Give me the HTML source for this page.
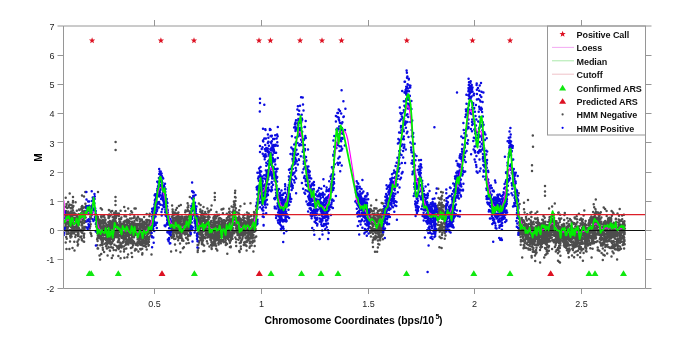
<!DOCTYPE html>
<html><head><meta charset="utf-8"><style>html,body{margin:0;padding:0;background:#fff;}svg{display:block;filter:blur(0.35px);}</style></head>
<body><svg width="685" height="345" viewBox="0 0 685 345">
<rect width="685" height="345" fill="#fff"/>
<defs><clipPath id="axclip"><rect x="63.5" y="26.0" width="582.0" height="262.0"/></clipPath></defs>
<g clip-path="url(#axclip)">
<path d="M65.2 215.7h0M65.3 223.5h0M65.3 212.3h0M65.4 226.5h0M65.4 230.2h0M65.7 197.8h0M65.7 216.5h0M65.7 225.0h0M65.7 242.5h0M65.8 206.7h0M66.0 222.9h0M66.0 226.7h0M66.0 210.9h0M66.1 214.5h0M66.1 226.7h0M66.2 214.8h0M66.2 216.1h0M66.2 236.9h0M66.4 213.7h0M66.4 214.2h0M66.5 204.1h0M66.5 212.5h0M66.5 211.5h0M66.5 249.1h0M66.6 231.6h0M66.6 204.8h0M66.7 238.8h0M66.7 227.3h0M66.7 218.7h0M66.7 234.0h0M66.8 223.6h0M66.8 214.6h0M66.8 207.8h0M66.8 213.6h0M66.8 219.9h0M66.9 214.8h0M67.0 229.4h0M67.0 212.6h0M67.0 228.6h0M67.3 216.7h0M67.3 221.1h0M67.4 212.3h0M67.4 220.0h0M67.4 214.6h0M67.5 208.0h0M67.7 219.9h0M67.9 219.4h0M67.9 227.7h0M68.0 222.3h0M68.0 212.5h0M68.1 215.1h0M68.2 202.1h0M68.2 211.5h0M68.3 231.7h0M68.4 233.8h0M68.4 226.4h0M68.5 221.9h0M68.5 224.6h0M68.6 223.6h0M68.6 206.8h0M68.7 212.8h0M68.7 230.4h0M68.7 230.4h0M68.8 221.4h0M69.0 217.0h0M69.1 216.6h0M69.1 215.5h0M69.1 212.8h0M69.1 205.8h0M69.1 220.7h0M69.2 216.2h0M69.2 217.9h0M69.4 249.1h0M69.4 225.3h0M69.4 214.7h0M69.5 204.6h0M69.7 230.2h0M69.7 222.5h0M69.7 218.6h0M69.7 225.8h0M69.7 193.4h0M69.9 217.4h0M70.0 213.9h0M70.0 241.6h0M70.1 221.3h0M70.2 235.9h0M70.2 216.6h0M70.4 225.7h0M70.4 217.6h0M70.4 233.3h0M70.5 220.3h0M70.5 217.5h0M70.5 237.5h0M70.6 225.8h0M70.6 208.3h0M70.6 220.9h0M70.6 216.1h0M70.7 213.6h0M70.8 218.1h0M70.8 218.6h0M70.8 222.2h0M70.9 216.2h0M71.1 208.2h0M71.1 217.4h0M71.1 229.7h0M71.1 211.6h0M71.1 227.1h0M71.1 225.6h0M71.1 217.9h0M71.2 223.9h0M71.2 215.6h0M71.2 218.0h0M71.3 225.2h0M71.3 234.0h0M71.4 215.6h0M71.4 231.9h0M71.5 205.0h0M71.5 213.7h0M71.5 212.8h0M71.6 236.5h0M71.6 215.6h0M71.7 227.3h0M71.7 205.4h0M71.8 220.9h0M72.0 225.3h0M72.0 219.6h0M72.0 221.6h0M72.0 227.7h0M72.0 232.7h0M72.1 208.1h0M72.3 218.5h0M72.3 228.8h0M72.3 214.2h0M72.4 225.5h0M72.4 216.7h0M72.5 220.9h0M72.5 233.3h0M72.5 215.1h0M72.5 247.9h0M72.5 221.5h0M72.6 223.5h0M72.7 215.2h0M72.8 221.3h0M72.8 210.5h0M72.9 210.2h0M72.9 207.5h0M72.9 220.3h0M72.9 202.6h0M73.1 206.4h0M73.1 219.3h0M73.1 221.0h0M73.1 227.5h0M73.1 212.9h0M73.2 227.4h0M73.2 219.5h0M73.4 206.0h0M73.4 221.3h0M73.4 232.0h0M73.5 228.1h0M73.6 231.4h0M73.6 218.0h0M73.7 214.7h0M73.7 219.0h0M73.7 220.1h0M73.8 219.6h0M73.8 229.8h0M73.9 227.0h0M73.9 230.2h0M73.9 224.1h0M73.9 233.2h0M74.0 223.9h0M74.0 232.2h0M74.1 227.7h0M74.1 230.0h0M74.1 222.4h0M74.2 214.2h0M74.3 212.8h0M74.3 241.8h0M74.4 229.6h0M74.4 227.1h0M74.4 221.7h0M74.5 219.6h0M74.5 250.6h0M74.5 215.0h0M74.6 222.4h0M74.7 222.5h0M74.7 215.0h0M74.8 214.0h0M74.9 217.9h0M74.9 220.4h0M75.1 230.7h0M75.2 214.6h0M75.2 226.7h0M75.3 237.0h0M75.3 231.4h0M75.6 214.9h0M75.6 202.3h0M75.6 230.9h0M75.7 227.5h0M75.7 218.6h0M75.7 234.9h0M75.7 219.7h0M76.1 222.9h0M76.1 214.6h0M76.3 227.1h0M76.3 218.5h0M76.6 217.5h0M76.6 231.4h0M76.7 224.9h0M76.8 210.8h0M76.8 227.9h0M76.8 229.3h0M76.8 215.5h0M76.8 218.5h0M76.9 221.9h0M77.0 219.8h0M77.1 222.8h0M77.3 228.2h0M77.3 218.5h0M77.4 242.1h0M77.4 217.1h0M77.5 218.4h0M77.6 241.4h0M77.7 245.5h0M77.8 222.9h0M77.9 221.3h0M78.0 233.8h0M78.0 224.4h0M78.0 229.8h0M78.0 236.0h0M78.1 229.4h0M78.1 244.2h0M78.1 234.1h0M78.2 227.1h0M78.2 222.6h0M78.2 228.3h0M78.3 234.8h0M78.4 231.4h0M78.4 233.3h0M78.4 225.3h0M78.5 230.6h0M78.5 235.0h0M78.6 222.1h0M78.6 214.2h0M78.7 239.5h0M78.8 227.9h0M78.9 218.8h0M78.9 224.2h0M78.9 219.9h0M79.0 209.4h0M79.1 219.7h0M79.2 210.1h0M79.5 220.8h0M79.6 217.6h0M79.6 229.4h0M79.7 217.6h0M79.7 222.1h0M79.8 216.5h0M80.0 216.4h0M80.1 209.4h0M80.3 237.0h0M80.4 221.4h0M80.4 215.7h0M80.5 222.1h0M80.6 217.2h0M80.8 214.7h0M80.8 222.1h0M80.9 231.5h0M80.9 217.6h0M81.1 209.1h0M81.1 214.8h0M81.2 236.4h0M81.3 213.1h0M81.3 230.3h0M81.3 217.0h0M81.5 225.5h0M81.6 217.4h0M81.6 207.0h0M81.6 215.2h0M81.7 238.9h0M81.8 217.4h0M81.8 223.9h0M81.9 216.2h0M81.9 217.6h0M81.9 221.7h0M81.9 223.2h0M81.9 240.3h0M82.0 218.7h0M82.0 195.5h0M82.1 214.2h0M82.1 209.7h0M82.2 207.7h0M82.2 225.5h0M82.2 206.0h0M82.3 233.1h0M82.4 227.9h0M82.5 217.5h0M82.5 211.5h0M82.7 220.0h0M82.9 219.8h0M83.0 230.4h0M83.1 214.2h0M83.1 216.7h0M83.1 219.0h0M83.3 217.3h0M83.3 214.8h0M83.3 207.2h0M83.4 207.7h0M83.4 214.4h0M83.5 217.5h0M83.6 228.7h0M83.6 241.4h0M83.8 235.7h0M83.9 223.0h0M84.0 237.5h0M84.0 218.5h0M84.1 215.6h0M84.1 241.8h0M84.2 211.9h0M84.2 216.5h0M84.2 217.6h0M84.2 233.7h0M84.2 215.3h0M84.3 227.1h0M84.4 216.7h0M84.4 210.9h0M84.4 221.9h0M84.4 221.3h0M84.5 211.4h0M84.6 213.4h0M84.6 213.9h0M84.6 229.0h0M84.9 220.8h0M85.1 222.0h0M85.2 207.2h0M85.3 192.1h0M85.3 217.3h0M85.4 226.9h0M85.4 203.7h0M85.7 217.6h0M85.9 206.2h0M89.7 212.7h0M89.7 209.3h0M89.7 228.6h0M89.8 209.6h0M90.2 213.3h0M90.2 221.5h0M90.2 217.1h0M90.2 206.6h0M90.2 226.4h0M90.5 232.8h0M90.6 218.7h0M90.7 216.3h0M90.7 218.3h0M90.7 211.4h0M90.7 224.3h0M91.1 234.1h0M91.2 211.6h0M91.2 218.2h0M91.5 235.9h0M96.3 226.4h0M96.6 227.2h0M97.0 226.6h0M97.0 216.2h0M97.1 232.9h0M97.1 239.2h0M97.2 220.3h0M97.2 222.4h0M97.2 226.9h0M97.2 227.4h0M97.2 217.7h0M97.3 245.3h0M97.4 238.9h0M97.4 225.7h0M97.4 217.8h0M97.5 233.4h0M97.6 248.4h0M97.6 238.0h0M97.6 241.1h0M97.6 224.5h0M97.6 232.8h0M97.7 220.8h0M97.8 248.5h0M97.8 235.8h0M97.9 216.7h0M97.9 218.4h0M98.0 234.9h0M98.1 231.8h0M98.1 228.5h0M98.1 236.1h0M98.1 248.6h0M98.2 233.8h0M98.2 218.6h0M98.5 229.4h0M98.6 221.8h0M98.7 225.2h0M98.7 233.4h0M98.8 229.5h0M98.8 223.6h0M98.8 230.6h0M98.9 225.4h0M99.0 235.7h0M99.0 229.3h0M99.0 234.5h0M99.1 229.3h0M99.1 237.8h0M99.2 230.3h0M99.2 231.2h0M99.3 227.7h0M99.4 232.8h0M99.5 219.9h0M99.5 255.6h0M99.5 227.2h0M99.6 232.7h0M99.7 228.7h0M99.7 228.7h0M99.8 235.6h0M100.0 228.8h0M100.0 229.3h0M100.0 223.1h0M100.0 226.1h0M100.1 224.6h0M100.1 259.4h0M100.1 223.5h0M100.2 225.2h0M100.3 234.1h0M100.3 245.3h0M100.4 221.4h0M100.5 222.4h0M100.5 233.8h0M100.6 235.7h0M100.6 223.4h0M100.6 220.8h0M100.6 226.3h0M100.7 239.3h0M100.7 208.3h0M100.7 239.2h0M100.7 231.8h0M100.7 232.3h0M100.7 238.0h0M100.7 231.7h0M100.7 234.5h0M100.8 226.3h0M100.8 228.4h0M100.8 236.5h0M100.8 230.7h0M100.9 227.3h0M101.0 237.9h0M101.0 236.8h0M101.1 231.9h0M101.1 226.8h0M101.1 216.3h0M101.2 254.1h0M101.2 226.2h0M101.2 221.4h0M101.2 226.5h0M101.3 217.5h0M101.3 223.1h0M101.5 223.4h0M101.5 238.8h0M101.6 238.7h0M101.7 244.3h0M101.7 237.7h0M101.7 227.9h0M101.8 240.8h0M101.8 227.1h0M101.9 228.9h0M101.9 223.5h0M101.9 242.2h0M102.0 209.6h0M102.0 228.2h0M102.1 229.3h0M102.1 231.6h0M102.1 234.4h0M102.3 245.0h0M102.4 232.1h0M102.5 235.2h0M102.6 221.8h0M102.6 229.7h0M102.6 219.9h0M102.7 247.7h0M102.7 244.3h0M102.8 238.2h0M102.8 241.7h0M102.9 249.8h0M102.9 240.2h0M102.9 221.3h0M102.9 230.5h0M103.0 216.3h0M103.1 226.5h0M103.2 223.7h0M103.3 231.9h0M103.3 235.4h0M103.4 225.8h0M103.4 230.1h0M103.4 234.4h0M103.4 230.9h0M103.4 230.8h0M103.5 216.1h0M103.5 229.1h0M103.6 239.1h0M103.6 234.3h0M103.7 222.2h0M103.7 230.2h0M103.8 234.4h0M103.8 225.6h0M103.8 238.0h0M103.9 226.8h0M103.9 220.4h0M104.0 215.2h0M104.1 252.1h0M104.1 230.0h0M104.1 228.4h0M104.1 238.5h0M104.4 229.1h0M104.5 233.9h0M104.5 217.4h0M104.6 234.8h0M104.7 231.8h0M104.9 223.1h0M104.9 243.7h0M105.0 229.9h0M105.0 230.2h0M105.0 222.7h0M105.0 220.6h0M105.1 227.5h0M105.3 220.7h0M105.3 235.1h0M105.5 238.2h0M105.5 226.2h0M105.5 219.7h0M105.7 227.7h0M105.7 223.3h0M105.7 231.7h0M105.7 231.9h0M105.8 227.8h0M105.8 231.2h0M105.9 240.0h0M106.0 246.2h0M106.0 227.5h0M106.1 237.4h0M106.1 229.5h0M106.3 224.4h0M106.3 242.8h0M106.5 235.1h0M106.5 232.8h0M106.6 234.9h0M106.7 230.9h0M106.7 225.1h0M106.9 248.4h0M107.1 240.8h0M107.1 235.2h0M107.1 241.5h0M107.2 244.4h0M107.2 231.8h0M107.2 238.3h0M107.3 231.1h0M107.3 239.0h0M107.4 231.8h0M107.6 255.6h0M107.7 231.0h0M107.8 237.7h0M107.8 237.1h0M107.8 230.8h0M108.0 240.8h0M108.0 232.0h0M108.0 229.7h0M108.1 232.1h0M108.1 227.1h0M108.1 242.6h0M108.2 237.1h0M108.3 240.0h0M108.3 222.3h0M108.3 235.2h0M108.3 226.1h0M108.3 231.7h0M108.4 242.4h0M108.4 234.7h0M108.4 229.8h0M108.4 215.8h0M108.5 239.5h0M108.5 247.0h0M108.5 218.1h0M108.5 233.3h0M108.5 227.6h0M108.6 224.5h0M108.6 231.1h0M108.6 222.5h0M108.7 215.7h0M108.7 224.5h0M108.7 228.9h0M108.8 247.4h0M108.8 225.9h0M108.8 223.0h0M108.8 217.9h0M108.9 210.0h0M109.0 229.9h0M109.1 233.1h0M109.2 222.6h0M109.2 227.1h0M109.2 217.3h0M109.3 210.3h0M109.3 222.2h0M109.3 214.5h0M109.3 243.1h0M109.4 237.3h0M109.6 236.7h0M109.6 236.6h0M109.7 226.7h0M109.8 242.9h0M109.8 226.4h0M109.8 250.4h0M109.9 235.2h0M109.9 221.0h0M109.9 240.8h0M110.0 250.8h0M110.1 231.2h0M110.1 242.4h0M110.1 231.5h0M110.1 228.7h0M110.2 215.7h0M110.2 243.8h0M110.2 229.8h0M110.4 235.8h0M110.4 225.0h0M110.5 226.4h0M110.5 242.3h0M110.5 229.7h0M110.6 229.6h0M110.6 223.8h0M110.7 235.0h0M110.7 238.9h0M110.7 229.0h0M110.7 230.7h0M110.8 223.8h0M110.8 244.4h0M110.8 227.7h0M110.9 230.7h0M110.9 211.8h0M110.9 230.2h0M110.9 221.4h0M111.0 225.4h0M111.0 229.1h0M111.1 247.2h0M111.1 233.1h0M111.1 229.6h0M111.2 238.4h0M111.2 242.7h0M111.4 225.6h0M111.5 243.3h0M111.5 238.0h0M111.5 234.3h0M111.6 214.6h0M111.7 232.2h0M111.7 243.1h0M111.7 228.8h0M111.8 258.0h0M111.8 231.5h0M111.9 224.2h0M111.9 236.4h0M112.0 234.0h0M112.0 238.9h0M112.0 230.0h0M112.1 243.2h0M112.1 228.0h0M112.1 232.9h0M112.2 223.5h0M112.2 211.0h0M112.2 233.8h0M112.3 227.8h0M112.3 229.2h0M112.3 230.9h0M112.3 234.5h0M112.4 239.3h0M112.4 239.3h0M112.4 241.7h0M112.5 234.4h0M112.5 229.0h0M112.5 222.2h0M112.5 230.5h0M112.6 227.6h0M112.7 217.2h0M112.7 247.8h0M112.8 220.2h0M112.9 235.4h0M112.9 241.1h0M112.9 230.6h0M112.9 255.6h0M112.9 232.2h0M112.9 227.0h0M113.0 247.8h0M113.1 226.4h0M113.1 222.1h0M113.2 224.7h0M113.3 226.7h0M113.4 231.3h0M113.5 233.5h0M113.6 220.1h0M113.7 233.0h0M113.7 250.1h0M113.7 225.0h0M113.9 228.2h0M113.9 235.2h0M113.9 239.8h0M114.0 223.8h0M114.0 221.8h0M114.1 221.2h0M114.1 237.9h0M114.1 236.0h0M114.2 213.1h0M114.2 213.2h0M114.3 218.9h0M114.3 217.0h0M114.3 230.8h0M114.4 228.8h0M114.4 244.7h0M114.5 233.4h0M114.6 227.0h0M114.6 236.7h0M114.6 219.8h0M114.7 216.4h0M114.7 226.1h0M114.7 234.5h0M114.7 214.9h0M114.7 234.1h0M114.8 233.8h0M115.0 222.6h0M115.1 227.6h0M115.2 224.2h0M115.2 226.8h0M115.2 233.6h0M115.2 220.7h0M115.3 235.8h0M115.3 234.2h0M115.3 234.6h0M115.3 212.8h0M115.4 213.5h0M115.4 232.6h0M115.5 222.2h0M115.5 221.6h0M115.5 221.1h0M115.6 217.1h0M115.7 224.4h0M115.7 221.4h0M115.7 221.9h0M115.8 230.9h0M115.8 218.3h0M115.8 237.0h0M115.9 211.3h0M116.0 250.2h0M116.1 217.3h0M116.1 236.4h0M116.2 235.3h0M116.3 226.7h0M116.4 233.8h0M116.5 226.2h0M116.5 214.8h0M116.5 232.6h0M116.5 246.1h0M116.7 223.2h0M116.7 215.4h0M116.8 222.9h0M116.9 230.0h0M116.9 229.8h0M117.0 237.3h0M117.0 232.2h0M117.0 231.7h0M117.2 213.4h0M117.3 247.8h0M117.4 227.5h0M117.4 235.1h0M117.6 224.8h0M117.7 226.2h0M117.7 227.9h0M117.8 242.0h0M118.0 241.9h0M118.1 233.6h0M118.1 246.4h0M118.2 225.5h0M118.2 233.0h0M118.3 225.3h0M118.4 240.4h0M118.4 228.8h0M118.4 237.5h0M118.4 255.9h0M118.6 214.9h0M118.7 248.9h0M118.8 231.9h0M118.8 226.9h0M118.8 216.1h0M118.9 227.0h0M118.9 213.5h0M118.9 229.8h0M119.0 227.9h0M119.0 245.8h0M119.0 226.9h0M119.1 238.9h0M119.1 239.8h0M119.1 248.1h0M119.1 227.5h0M119.2 236.1h0M119.2 218.9h0M119.3 221.7h0M119.3 227.3h0M119.3 229.0h0M119.5 221.1h0M119.6 226.5h0M119.6 235.8h0M119.7 226.4h0M119.7 228.4h0M119.7 223.5h0M119.9 242.6h0M119.9 246.4h0M120.0 232.0h0M120.0 229.5h0M120.0 245.6h0M120.1 234.9h0M120.2 226.2h0M120.3 221.8h0M120.4 227.1h0M120.5 251.6h0M120.6 227.5h0M120.6 258.2h0M120.6 210.8h0M120.7 230.3h0M120.8 244.0h0M120.9 230.3h0M120.9 235.5h0M120.9 225.0h0M120.9 223.6h0M120.9 227.0h0M121.1 234.3h0M121.1 227.7h0M121.1 219.0h0M121.2 236.8h0M121.2 231.3h0M121.3 230.6h0M121.3 228.4h0M121.4 217.5h0M121.5 247.5h0M121.5 229.6h0M121.5 237.7h0M121.6 245.7h0M121.7 243.2h0M121.7 236.0h0M121.8 232.3h0M121.9 234.9h0M122.0 246.7h0M122.0 237.0h0M122.1 228.2h0M122.4 234.4h0M122.5 233.4h0M122.6 236.1h0M122.6 231.5h0M122.7 242.3h0M122.8 231.6h0M122.8 238.0h0M122.8 230.3h0M122.9 226.0h0M123.0 223.7h0M123.1 229.1h0M123.1 235.2h0M123.1 241.9h0M123.2 229.8h0M123.2 226.9h0M123.2 227.0h0M123.3 242.4h0M123.5 231.7h0M123.5 227.4h0M123.5 237.6h0M123.6 221.9h0M123.7 232.0h0M123.7 230.6h0M123.7 230.0h0M123.7 223.1h0M123.7 239.9h0M123.8 246.4h0M123.9 221.9h0M123.9 231.9h0M123.9 236.8h0M124.0 251.6h0M124.1 228.0h0M124.1 224.3h0M124.2 230.7h0M124.2 249.3h0M124.2 207.1h0M124.3 233.1h0M124.4 257.7h0M124.5 216.2h0M124.5 216.0h0M124.7 239.1h0M124.7 237.9h0M124.7 221.3h0M124.7 235.6h0M124.8 231.2h0M124.8 232.9h0M124.9 225.5h0M124.9 227.9h0M125.1 225.3h0M125.2 231.8h0M125.3 229.8h0M125.3 210.9h0M125.4 237.3h0M125.4 220.8h0M125.5 238.5h0M125.5 244.9h0M125.6 234.3h0M125.6 241.7h0M125.8 231.2h0M125.8 237.8h0M125.8 224.9h0M125.9 238.3h0M126.0 221.7h0M126.0 242.9h0M126.0 220.7h0M126.1 216.5h0M126.1 235.7h0M126.1 229.6h0M126.1 231.8h0M126.2 234.6h0M126.2 230.4h0M126.2 224.5h0M126.3 232.4h0M126.3 233.7h0M126.3 234.9h0M126.3 248.6h0M126.4 225.3h0M126.4 230.7h0M126.5 235.2h0M126.5 227.0h0M126.5 221.8h0M126.7 226.1h0M126.7 239.8h0M126.7 228.1h0M126.8 235.7h0M126.8 225.1h0M126.9 234.2h0M126.9 225.5h0M126.9 224.4h0M127.0 231.2h0M127.0 230.7h0M127.2 244.0h0M127.2 219.4h0M127.3 235.1h0M127.3 257.2h0M127.3 243.1h0M127.4 227.9h0M127.4 226.0h0M127.4 227.3h0M127.6 235.7h0M127.6 232.5h0M127.6 234.0h0M127.6 240.7h0M127.7 219.7h0M127.7 223.2h0M127.8 222.7h0M127.9 222.0h0M128.0 230.4h0M128.1 234.0h0M128.1 254.6h0M128.2 236.2h0M128.2 208.5h0M128.3 244.5h0M128.4 226.5h0M128.5 234.7h0M128.6 240.6h0M128.6 238.9h0M128.6 235.4h0M128.7 229.3h0M128.7 223.3h0M128.7 230.6h0M128.7 227.7h0M128.9 238.1h0M128.9 230.8h0M128.9 237.0h0M129.0 220.9h0M129.1 240.8h0M129.1 226.1h0M129.2 221.3h0M129.2 222.6h0M129.3 227.7h0M129.3 242.3h0M129.3 238.5h0M129.8 224.2h0M129.8 233.0h0M129.8 231.5h0M129.8 221.6h0M129.9 225.5h0M130.0 218.5h0M130.1 226.4h0M130.1 214.4h0M130.2 227.0h0M130.2 226.0h0M130.4 227.1h0M130.4 226.9h0M130.5 243.1h0M130.5 230.1h0M130.6 234.7h0M130.7 239.3h0M130.7 240.6h0M130.7 238.5h0M130.7 228.5h0M130.8 224.5h0M130.8 226.7h0M130.8 228.7h0M130.9 231.8h0M130.9 231.2h0M130.9 241.7h0M130.9 230.9h0M130.9 248.0h0M131.0 240.7h0M131.1 227.8h0M131.1 238.9h0M131.2 211.2h0M131.3 243.2h0M131.4 233.9h0M131.5 233.6h0M131.5 218.4h0M131.6 252.9h0M131.6 227.9h0M131.7 228.7h0M131.8 240.1h0M131.8 228.4h0M131.9 224.0h0M131.9 235.9h0M132.0 223.1h0M132.0 236.8h0M132.0 231.2h0M132.0 240.3h0M132.1 221.8h0M132.1 241.5h0M132.1 232.7h0M132.1 257.1h0M132.1 212.5h0M132.3 247.3h0M132.3 236.7h0M132.4 237.5h0M132.4 225.5h0M132.5 235.5h0M132.6 236.7h0M132.7 225.2h0M132.8 223.1h0M133.1 226.4h0M133.1 245.2h0M133.1 233.3h0M133.2 240.7h0M133.3 235.0h0M133.4 233.4h0M133.4 234.5h0M133.4 229.7h0M133.4 243.8h0M133.5 234.4h0M133.6 234.9h0M133.6 223.5h0M133.6 235.7h0M133.7 228.1h0M133.7 229.2h0M133.7 217.9h0M133.9 224.5h0M134.0 230.3h0M134.0 237.3h0M134.1 241.9h0M134.1 227.8h0M134.1 234.1h0M134.2 233.8h0M134.2 223.5h0M134.3 216.3h0M134.5 217.1h0M134.5 235.6h0M134.5 208.5h0M134.5 220.9h0M134.6 225.5h0M134.7 227.1h0M134.7 227.5h0M134.8 229.8h0M134.9 250.6h0M135.0 225.2h0M135.1 231.9h0M135.1 225.5h0M135.1 226.5h0M135.2 225.0h0M135.2 229.4h0M135.3 227.2h0M135.3 234.2h0M135.3 233.0h0M135.4 225.1h0M135.5 249.0h0M135.6 223.7h0M135.6 234.8h0M135.7 208.5h0M135.7 226.8h0M135.8 243.8h0M135.9 244.7h0M136.0 234.8h0M136.1 219.3h0M136.2 244.8h0M136.3 232.6h0M136.3 228.1h0M136.3 243.5h0M136.5 227.0h0M136.5 249.5h0M136.6 228.2h0M136.7 218.4h0M136.8 225.0h0M136.8 229.6h0M136.9 226.3h0M136.9 227.6h0M136.9 234.2h0M137.0 231.5h0M137.0 234.4h0M137.1 244.6h0M137.1 232.1h0M137.2 220.5h0M137.2 231.1h0M137.4 234.1h0M137.5 242.9h0M137.5 243.1h0M137.5 242.3h0M137.6 232.2h0M137.6 239.6h0M137.6 224.0h0M137.7 245.5h0M137.7 237.7h0M137.7 238.3h0M137.7 231.1h0M137.7 234.1h0M137.8 229.0h0M137.9 216.7h0M137.9 224.4h0M138.0 242.2h0M138.0 238.3h0M138.4 251.4h0M138.4 232.5h0M138.5 232.1h0M138.5 234.4h0M138.5 233.0h0M138.6 231.8h0M138.6 225.1h0M138.6 225.0h0M138.7 228.6h0M138.7 230.4h0M138.8 224.2h0M138.8 224.4h0M138.9 230.2h0M139.1 238.6h0M139.1 230.4h0M139.2 237.8h0M139.2 240.5h0M139.2 238.6h0M139.3 228.7h0M139.3 228.7h0M139.4 218.7h0M139.5 226.6h0M139.5 235.5h0M139.5 223.8h0M139.7 243.4h0M139.7 244.2h0M139.8 228.5h0M139.8 239.5h0M139.9 221.5h0M140.0 223.9h0M140.1 228.5h0M140.1 231.1h0M140.1 229.8h0M140.2 225.2h0M140.2 249.1h0M140.2 233.7h0M140.4 233.7h0M140.4 242.3h0M140.4 232.7h0M140.5 229.5h0M140.6 227.3h0M140.6 220.0h0M140.6 244.8h0M140.7 224.9h0M140.7 219.9h0M140.8 225.7h0M140.9 220.4h0M140.9 249.6h0M140.9 234.6h0M140.9 244.2h0M140.9 244.6h0M140.9 236.5h0M141.1 236.6h0M141.1 226.5h0M141.2 230.9h0M141.2 227.4h0M141.3 231.9h0M141.4 226.8h0M141.4 243.2h0M141.4 238.6h0M141.4 230.9h0M141.6 220.4h0M141.6 238.0h0M141.6 239.8h0M141.7 231.4h0M141.8 223.5h0M141.8 236.0h0M141.9 241.9h0M141.9 219.4h0M141.9 237.5h0M141.9 220.1h0M142.0 233.1h0M142.2 248.8h0M142.2 233.7h0M142.2 237.3h0M142.2 230.7h0M142.2 232.9h0M142.2 254.5h0M142.3 245.2h0M142.3 230.8h0M142.3 230.5h0M142.3 233.3h0M142.4 253.3h0M142.4 235.2h0M142.4 243.5h0M142.5 230.9h0M142.5 224.9h0M142.7 245.4h0M142.8 232.4h0M142.9 227.6h0M142.9 228.1h0M142.9 228.1h0M143.0 228.3h0M143.0 222.0h0M143.1 243.1h0M143.1 235.5h0M143.2 240.8h0M143.2 229.4h0M143.3 234.9h0M143.3 233.2h0M143.3 242.4h0M143.4 238.8h0M143.6 234.1h0M143.6 226.4h0M143.9 222.6h0M143.9 225.3h0M143.9 226.4h0M144.0 227.1h0M144.0 222.4h0M144.0 245.9h0M144.1 233.2h0M144.1 217.1h0M144.2 223.3h0M144.2 221.7h0M144.2 234.6h0M144.2 240.4h0M144.4 224.1h0M144.5 236.3h0M144.5 228.8h0M144.6 241.2h0M144.6 243.2h0M144.7 233.6h0M144.7 237.3h0M144.7 230.8h0M144.7 228.3h0M144.7 223.0h0M144.8 233.9h0M144.9 230.5h0M144.9 228.4h0M144.9 230.5h0M145.1 230.0h0M145.2 224.3h0M145.4 228.0h0M145.4 242.0h0M145.5 230.1h0M145.6 244.5h0M145.7 224.0h0M145.7 222.6h0M145.7 232.8h0M145.8 238.7h0M145.9 227.1h0M145.9 237.1h0M146.0 246.7h0M146.0 241.1h0M146.2 230.4h0M146.2 230.8h0M146.3 220.1h0M146.3 231.3h0M146.4 233.5h0M146.5 243.8h0M146.6 222.3h0M146.6 225.2h0M146.7 224.1h0M146.7 239.0h0M146.7 213.9h0M146.7 223.6h0M146.7 249.6h0M146.8 241.6h0M146.9 222.0h0M147.0 230.5h0M147.1 220.1h0M147.1 235.9h0M147.1 229.4h0M147.2 225.6h0M147.2 238.5h0M147.3 230.9h0M147.5 238.3h0M147.8 234.2h0M147.8 227.4h0M147.9 243.4h0M148.0 226.7h0M148.1 233.7h0M148.1 225.5h0M148.1 228.1h0M148.2 227.9h0M148.4 224.6h0M148.4 231.1h0M148.5 240.8h0M148.5 245.8h0M148.5 241.8h0M148.6 227.4h0M148.6 241.8h0M148.7 232.4h0M148.8 244.9h0M148.9 220.2h0M148.9 242.1h0M149.0 224.6h0M149.1 239.2h0M149.2 225.6h0M149.2 237.0h0M149.2 226.8h0M149.4 216.2h0M149.4 222.3h0M149.5 227.1h0M149.7 228.9h0M149.7 213.7h0M149.7 214.3h0M149.8 223.6h0M150.2 227.0h0M150.2 229.8h0M150.3 224.2h0M150.5 221.1h0M150.5 230.0h0M150.6 225.7h0M150.6 235.3h0M150.6 224.9h0M150.6 233.0h0M150.8 223.3h0M150.8 229.4h0M150.9 227.7h0M150.9 231.0h0M151.2 222.8h0M151.2 226.1h0M151.3 223.1h0M151.3 225.9h0M151.3 232.4h0M151.5 254.6h0M171.0 236.1h0M171.0 235.8h0M171.1 251.5h0M171.2 224.2h0M171.2 226.5h0M171.3 231.3h0M171.4 222.7h0M171.4 224.9h0M171.4 230.3h0M171.5 222.4h0M171.7 230.7h0M171.7 237.7h0M171.7 221.4h0M171.8 216.7h0M172.1 227.2h0M172.1 205.6h0M172.2 228.0h0M172.2 223.1h0M172.2 229.2h0M172.4 236.8h0M172.5 233.9h0M172.6 223.7h0M172.6 218.3h0M172.6 209.5h0M172.7 211.6h0M172.7 220.9h0M172.8 212.6h0M172.8 221.8h0M172.8 222.3h0M172.8 215.6h0M172.9 215.2h0M172.9 214.7h0M172.9 232.3h0M172.9 213.0h0M173.0 232.9h0M173.1 220.4h0M173.1 231.5h0M173.1 228.8h0M173.1 233.6h0M173.2 237.6h0M173.2 221.3h0M173.3 220.0h0M173.3 223.6h0M173.3 221.4h0M173.4 232.8h0M173.4 225.9h0M173.4 226.7h0M173.4 223.4h0M173.5 236.8h0M173.6 214.3h0M173.6 228.9h0M173.6 231.4h0M173.6 221.6h0M173.8 222.1h0M173.8 235.1h0M173.9 224.6h0M173.9 213.8h0M174.0 217.7h0M174.1 236.1h0M174.1 220.8h0M174.2 238.9h0M174.2 225.4h0M174.2 231.8h0M174.3 221.2h0M174.3 224.0h0M174.3 222.0h0M174.3 232.2h0M174.4 218.1h0M174.5 225.9h0M174.6 227.2h0M174.6 231.5h0M174.7 212.4h0M174.7 214.6h0M174.7 220.6h0M174.8 224.8h0M174.9 228.4h0M175.0 227.6h0M175.0 244.5h0M175.0 231.8h0M175.0 231.2h0M175.2 222.0h0M175.2 232.5h0M175.3 231.6h0M175.3 231.3h0M175.3 224.3h0M175.4 230.7h0M175.5 238.7h0M175.8 219.3h0M175.8 210.1h0M175.8 232.3h0M175.9 231.5h0M176.0 223.3h0M176.0 221.9h0M176.1 250.4h0M176.3 222.1h0M176.3 217.0h0M176.3 222.0h0M176.4 229.9h0M176.4 221.2h0M176.4 222.7h0M176.4 228.1h0M176.4 222.4h0M176.4 226.4h0M176.5 225.1h0M176.5 218.3h0M176.5 226.0h0M176.6 217.7h0M176.6 234.1h0M176.6 219.3h0M176.7 224.0h0M176.7 213.4h0M176.7 222.6h0M176.7 217.2h0M176.8 214.0h0M176.8 224.8h0M176.8 230.4h0M176.9 213.9h0M176.9 217.4h0M176.9 208.1h0M176.9 216.6h0M177.0 236.2h0M177.1 223.1h0M177.1 227.2h0M177.2 228.6h0M177.3 224.9h0M177.3 233.0h0M177.3 221.4h0M177.4 229.3h0M177.5 237.0h0M177.6 228.0h0M177.6 227.2h0M177.7 223.8h0M177.7 226.5h0M177.8 232.1h0M177.9 224.2h0M177.9 214.6h0M178.0 227.3h0M178.0 224.8h0M178.0 230.1h0M178.1 226.1h0M178.1 240.2h0M178.2 217.7h0M178.2 219.2h0M178.2 231.6h0M178.2 218.8h0M178.3 228.6h0M178.3 225.5h0M178.4 212.5h0M178.5 231.5h0M178.6 237.9h0M178.6 227.2h0M178.7 216.2h0M178.7 232.7h0M178.8 218.9h0M178.8 225.1h0M178.9 220.8h0M178.9 205.9h0M179.0 225.3h0M179.1 226.1h0M179.2 221.0h0M179.2 221.6h0M179.3 233.6h0M179.3 226.3h0M179.3 223.8h0M179.3 223.1h0M179.3 228.5h0M179.4 227.8h0M179.4 225.9h0M179.4 217.9h0M179.4 224.7h0M179.5 223.2h0M179.5 227.9h0M179.5 237.9h0M179.6 236.1h0M179.6 233.4h0M179.6 229.1h0M179.6 225.4h0M179.8 230.3h0M179.9 224.0h0M180.0 224.7h0M180.0 221.4h0M180.0 226.6h0M180.0 226.4h0M180.0 243.5h0M180.1 231.6h0M180.2 224.1h0M180.2 233.5h0M180.2 223.4h0M180.3 235.5h0M180.3 233.3h0M180.4 252.3h0M180.4 219.1h0M180.5 225.7h0M180.6 225.2h0M180.6 228.5h0M180.6 232.3h0M180.7 219.7h0M180.7 221.5h0M180.8 205.0h0M180.8 235.1h0M180.8 219.1h0M181.0 216.7h0M181.4 237.9h0M181.4 235.2h0M181.4 237.6h0M181.5 221.6h0M181.5 226.7h0M181.5 230.0h0M181.5 231.9h0M181.5 227.3h0M181.5 227.8h0M181.6 237.2h0M181.6 225.4h0M181.7 224.6h0M181.8 225.4h0M181.8 224.8h0M181.8 229.2h0M182.0 226.7h0M182.0 216.4h0M182.1 240.6h0M182.1 232.5h0M182.3 225.7h0M182.3 239.1h0M182.4 224.2h0M182.5 227.8h0M182.5 227.2h0M182.5 224.0h0M182.5 225.3h0M182.5 228.4h0M182.6 218.4h0M182.7 225.1h0M182.7 229.8h0M182.8 230.0h0M182.8 230.2h0M182.9 248.3h0M183.2 233.3h0M183.2 226.6h0M183.2 226.7h0M183.3 227.4h0M183.3 231.2h0M183.3 225.5h0M183.4 240.7h0M183.5 220.3h0M183.5 232.9h0M183.6 231.7h0M183.7 219.9h0M183.7 232.7h0M183.8 222.9h0M183.9 247.3h0M184.0 233.0h0M184.0 224.6h0M184.1 223.6h0M184.2 221.8h0M184.3 228.6h0M184.4 226.7h0M184.5 217.1h0M184.6 219.4h0M184.7 221.5h0M184.8 223.5h0M184.8 223.8h0M184.9 221.9h0M184.9 231.7h0M185.0 234.5h0M185.1 226.9h0M185.2 212.3h0M185.2 225.4h0M185.3 231.3h0M185.4 226.0h0M185.4 228.8h0M185.4 227.3h0M185.5 217.0h0M185.5 210.4h0M185.6 232.0h0M185.7 223.0h0M185.7 229.9h0M185.9 224.1h0M185.9 224.8h0M186.0 237.8h0M186.0 218.1h0M186.0 225.6h0M186.1 218.6h0M186.1 226.1h0M186.1 229.6h0M186.2 231.0h0M186.2 226.6h0M186.2 216.5h0M186.2 227.3h0M186.3 232.9h0M186.3 233.7h0M186.4 243.6h0M186.4 229.7h0M186.4 218.4h0M186.5 221.2h0M186.6 225.1h0M186.6 233.5h0M186.7 217.2h0M186.7 232.4h0M186.7 230.1h0M186.8 219.0h0M186.8 229.8h0M186.8 219.7h0M186.9 224.6h0M186.9 222.7h0M187.1 226.8h0M187.2 217.3h0M187.2 229.4h0M187.3 211.1h0M187.3 222.4h0M187.3 221.4h0M187.4 238.7h0M187.4 229.7h0M187.4 222.0h0M187.5 219.5h0M187.6 225.4h0M187.6 221.2h0M187.6 203.3h0M187.6 207.6h0M187.7 225.8h0M187.8 209.9h0M187.8 234.5h0M187.8 220.4h0M188.0 239.7h0M188.0 222.4h0M188.0 235.2h0M188.1 227.6h0M188.1 236.2h0M188.2 226.3h0M188.3 207.3h0M188.4 205.6h0M188.4 216.5h0M188.5 234.7h0M188.5 231.1h0M188.5 226.6h0M188.6 230.5h0M188.6 228.3h0M188.6 223.0h0M188.7 243.1h0M188.8 227.3h0M189.0 223.4h0M189.0 215.0h0M189.1 219.9h0M189.1 223.7h0M189.1 222.4h0M189.2 220.4h0M189.3 222.2h0M189.5 214.6h0M189.5 221.7h0M189.5 211.4h0M189.5 215.7h0M189.7 216.2h0M189.7 228.7h0M189.7 225.4h0M189.8 197.1h0M189.9 213.7h0M189.9 218.6h0M189.9 228.4h0M190.0 232.5h0M190.0 211.6h0M190.0 218.5h0M190.1 222.2h0M190.1 224.4h0M190.1 221.4h0M190.1 227.4h0M190.1 211.9h0M190.2 235.5h0M190.2 213.9h0M190.2 221.9h0M190.3 226.2h0M190.3 232.1h0M190.4 229.9h0M197.6 244.9h0M197.7 220.2h0M197.7 224.4h0M197.7 252.0h0M197.7 236.8h0M197.8 233.1h0M197.8 228.2h0M197.8 233.8h0M197.8 250.3h0M197.8 220.9h0M197.9 216.7h0M197.9 229.6h0M197.9 241.0h0M197.9 225.1h0M198.0 228.0h0M198.1 221.8h0M198.1 227.9h0M198.2 221.8h0M198.2 221.9h0M198.2 218.9h0M198.2 224.9h0M198.3 244.8h0M198.4 228.0h0M198.4 230.1h0M198.4 248.1h0M198.5 224.4h0M198.5 222.0h0M198.8 232.7h0M198.8 220.1h0M198.9 230.8h0M198.9 203.6h0M199.0 220.7h0M199.0 224.3h0M199.1 242.4h0M199.1 223.0h0M199.2 229.3h0M199.2 225.1h0M199.3 221.4h0M199.5 240.7h0M199.5 222.8h0M199.5 229.4h0M199.6 223.7h0M199.6 224.8h0M199.7 217.5h0M199.7 234.5h0M199.8 223.6h0M199.9 237.6h0M200.0 218.9h0M200.0 223.3h0M200.0 230.6h0M200.1 227.4h0M200.2 222.3h0M200.2 225.6h0M200.2 211.8h0M200.3 227.0h0M200.3 209.5h0M200.3 228.0h0M200.4 238.5h0M200.4 234.4h0M200.4 234.0h0M200.5 223.9h0M200.5 230.9h0M200.6 224.0h0M200.6 226.1h0M200.6 226.0h0M200.6 204.9h0M200.7 234.8h0M200.9 230.7h0M200.9 234.1h0M200.9 220.6h0M201.0 232.8h0M201.0 230.9h0M201.0 212.3h0M201.2 215.4h0M201.2 227.2h0M201.3 222.5h0M201.3 226.7h0M201.4 222.7h0M201.5 240.0h0M201.6 214.6h0M201.7 218.0h0M201.7 220.5h0M201.7 217.9h0M201.7 223.0h0M201.9 226.4h0M201.9 217.9h0M201.9 232.1h0M201.9 238.1h0M201.9 236.1h0M201.9 244.1h0M202.0 244.2h0M202.1 226.1h0M202.2 241.9h0M202.2 232.3h0M202.2 242.6h0M202.3 224.8h0M202.3 212.5h0M202.4 211.1h0M202.4 227.5h0M202.4 230.7h0M202.4 224.6h0M202.5 234.7h0M202.5 218.4h0M202.6 221.2h0M202.7 234.7h0M202.7 226.5h0M202.8 226.9h0M202.8 238.6h0M202.8 235.9h0M202.9 221.3h0M202.9 228.2h0M202.9 215.6h0M202.9 226.5h0M202.9 230.0h0M202.9 215.5h0M203.0 240.5h0M203.0 244.4h0M203.0 231.2h0M203.1 235.2h0M203.3 251.3h0M203.3 226.6h0M203.4 237.1h0M203.4 231.3h0M203.4 214.0h0M203.5 206.9h0M203.5 224.6h0M203.7 237.8h0M203.8 229.1h0M203.8 236.8h0M204.0 216.6h0M204.1 219.2h0M204.1 245.6h0M204.4 251.0h0M204.4 230.2h0M204.5 225.4h0M204.5 237.0h0M204.6 219.4h0M204.6 225.1h0M204.7 217.4h0M204.8 230.9h0M205.0 229.1h0M205.1 224.4h0M205.1 222.8h0M205.1 217.2h0M205.1 221.7h0M205.2 237.9h0M205.2 212.0h0M205.2 238.2h0M205.3 221.6h0M205.3 226.7h0M205.4 224.3h0M205.4 225.7h0M205.5 234.1h0M205.5 214.2h0M205.7 233.9h0M205.7 233.5h0M205.7 227.4h0M205.7 228.0h0M205.9 225.7h0M206.0 233.0h0M206.0 227.5h0M206.0 221.4h0M206.1 228.2h0M206.1 235.2h0M206.1 230.0h0M206.2 227.0h0M206.2 228.4h0M206.3 223.4h0M206.4 223.5h0M206.5 214.2h0M206.6 224.9h0M206.6 234.7h0M206.6 223.6h0M206.7 220.3h0M206.7 233.9h0M206.8 227.5h0M206.8 227.3h0M206.8 230.2h0M206.9 232.2h0M206.9 225.8h0M206.9 220.8h0M206.9 241.3h0M207.1 226.6h0M207.4 221.2h0M207.4 227.7h0M207.4 208.4h0M207.5 217.1h0M207.5 237.6h0M207.6 225.3h0M207.6 243.6h0M207.7 231.9h0M207.7 225.4h0M207.8 236.9h0M207.8 237.1h0M208.0 223.6h0M208.1 227.8h0M208.1 222.5h0M208.1 233.8h0M208.3 216.7h0M208.3 224.5h0M208.3 212.0h0M208.3 230.8h0M208.3 211.4h0M208.4 218.8h0M208.4 227.8h0M208.5 223.2h0M208.6 222.6h0M208.6 219.4h0M208.7 210.9h0M208.7 214.8h0M208.8 228.9h0M208.8 233.1h0M208.8 232.9h0M208.8 226.2h0M208.8 237.1h0M208.9 230.7h0M208.9 235.2h0M208.9 230.3h0M209.0 227.4h0M209.1 222.7h0M209.2 211.6h0M209.4 234.5h0M209.4 228.3h0M209.4 246.4h0M209.6 217.3h0M209.6 237.2h0M209.6 223.8h0M209.7 224.1h0M209.9 232.5h0M209.9 229.2h0M210.1 236.8h0M210.1 230.4h0M210.3 233.0h0M210.4 239.7h0M210.5 233.1h0M210.5 227.7h0M210.5 239.3h0M210.7 227.8h0M210.8 232.3h0M210.9 226.7h0M210.9 224.6h0M210.9 209.8h0M211.0 235.0h0M211.1 221.8h0M211.1 240.6h0M211.1 244.8h0M211.2 220.9h0M211.2 236.9h0M211.2 228.7h0M211.2 233.2h0M211.3 221.9h0M211.4 229.8h0M211.4 232.0h0M211.4 241.9h0M211.6 248.3h0M211.6 232.6h0M211.6 205.5h0M211.7 248.9h0M211.7 229.0h0M211.7 229.3h0M211.7 230.6h0M211.8 233.7h0M211.8 235.8h0M211.9 225.9h0M211.9 228.9h0M212.0 245.7h0M212.1 243.2h0M212.1 233.2h0M212.1 231.7h0M212.2 227.8h0M212.2 238.1h0M212.2 226.0h0M212.3 230.3h0M212.3 226.3h0M212.3 225.2h0M212.3 229.5h0M212.4 229.3h0M212.4 225.4h0M212.5 228.6h0M212.6 229.5h0M212.7 225.9h0M212.8 224.7h0M212.8 227.9h0M213.0 234.9h0M213.0 238.4h0M213.0 230.4h0M213.0 227.1h0M213.1 228.5h0M213.2 245.3h0M213.2 236.7h0M213.3 222.7h0M213.3 228.4h0M213.3 225.4h0M213.4 226.4h0M213.4 218.0h0M213.5 228.9h0M213.5 220.1h0M213.6 224.9h0M213.7 241.8h0M213.7 237.3h0M213.7 223.2h0M213.7 222.1h0M213.8 222.9h0M213.9 216.8h0M213.9 222.5h0M213.9 227.0h0M213.9 222.1h0M213.9 235.3h0M213.9 228.4h0M214.2 225.4h0M214.2 243.9h0M214.2 234.9h0M214.3 229.4h0M214.3 244.8h0M214.3 240.2h0M214.4 224.4h0M214.4 231.7h0M214.4 226.1h0M214.4 219.8h0M214.4 245.3h0M214.4 241.8h0M214.5 220.8h0M214.5 233.1h0M214.6 218.5h0M214.7 238.2h0M214.7 228.5h0M214.7 227.0h0M214.7 239.7h0M214.8 215.0h0M214.8 227.1h0M214.9 236.7h0M215.0 226.7h0M215.1 236.2h0M215.2 228.6h0M215.2 241.6h0M215.2 234.0h0M215.2 235.4h0M215.3 222.1h0M215.4 244.8h0M215.4 227.4h0M215.5 243.7h0M215.5 224.6h0M215.6 226.6h0M215.6 226.7h0M215.6 238.4h0M215.6 225.6h0M215.7 232.2h0M215.8 218.6h0M215.8 225.5h0M215.8 230.5h0M215.8 227.9h0M215.9 216.7h0M215.9 233.1h0M216.1 222.7h0M216.1 245.8h0M216.2 227.8h0M216.2 248.7h0M216.2 234.9h0M216.2 233.1h0M216.3 226.0h0M216.3 228.4h0M216.3 233.2h0M216.4 216.8h0M216.4 237.9h0M216.4 221.8h0M216.5 227.7h0M216.5 211.9h0M216.5 233.4h0M216.6 236.0h0M216.6 232.0h0M216.6 232.3h0M216.7 227.1h0M216.7 232.0h0M216.7 240.0h0M216.8 226.7h0M216.9 233.8h0M216.9 235.7h0M217.2 227.7h0M217.2 231.3h0M217.2 231.2h0M217.3 226.0h0M217.3 250.4h0M217.3 226.4h0M217.4 214.7h0M217.4 238.5h0M217.4 216.1h0M217.6 231.3h0M217.9 238.1h0M217.9 236.3h0M218.1 223.4h0M218.1 231.4h0M218.1 221.5h0M218.1 222.5h0M218.2 227.6h0M218.2 230.9h0M218.3 243.3h0M218.3 232.4h0M218.4 238.5h0M218.4 221.5h0M218.5 221.8h0M218.5 226.1h0M218.6 244.6h0M218.6 220.7h0M218.6 219.1h0M218.6 228.7h0M218.6 239.7h0M218.7 218.6h0M218.7 227.4h0M218.7 220.3h0M218.8 241.7h0M218.8 235.0h0M218.8 231.3h0M218.8 228.5h0M218.9 227.3h0M218.9 230.0h0M218.9 224.5h0M218.9 223.0h0M219.0 221.5h0M219.0 228.7h0M219.0 223.4h0M219.1 236.2h0M219.1 214.8h0M219.2 233.1h0M219.3 232.8h0M219.3 238.7h0M219.3 226.3h0M219.5 218.0h0M219.6 221.6h0M219.7 237.6h0M219.9 225.9h0M219.9 225.3h0M220.0 224.2h0M220.0 227.6h0M220.0 226.6h0M220.1 218.2h0M220.2 224.5h0M220.2 237.3h0M220.3 241.3h0M220.4 227.8h0M220.5 225.4h0M220.5 240.7h0M220.6 227.9h0M220.7 221.5h0M220.7 228.6h0M220.8 235.6h0M220.8 243.3h0M220.9 226.9h0M221.0 235.2h0M221.2 228.8h0M221.2 218.9h0M221.2 233.5h0M221.4 234.0h0M221.5 225.7h0M221.5 230.0h0M221.5 230.0h0M221.5 209.6h0M221.6 240.0h0M221.6 232.5h0M221.7 231.1h0M221.7 229.8h0M221.8 232.3h0M221.9 233.7h0M222.0 223.0h0M222.0 232.5h0M222.0 232.4h0M222.0 231.5h0M222.2 221.2h0M222.2 229.8h0M222.3 222.1h0M222.4 233.3h0M222.5 241.3h0M222.5 209.2h0M222.6 227.3h0M222.6 226.0h0M222.7 225.8h0M222.7 232.5h0M222.7 225.1h0M222.7 226.0h0M222.9 213.2h0M223.1 223.8h0M223.1 224.2h0M223.1 225.8h0M223.2 239.8h0M223.2 220.4h0M223.3 220.6h0M223.3 234.4h0M223.3 222.8h0M223.3 228.1h0M223.3 230.6h0M223.4 208.7h0M223.4 224.1h0M223.4 237.1h0M223.8 242.2h0M223.8 222.7h0M223.8 227.4h0M223.8 237.4h0M223.9 227.9h0M224.0 222.9h0M224.0 226.6h0M224.1 236.7h0M224.2 223.1h0M224.2 231.8h0M224.3 232.9h0M224.3 225.4h0M224.4 234.6h0M224.4 235.5h0M224.5 238.5h0M224.5 237.9h0M224.5 220.2h0M224.5 237.6h0M224.5 234.8h0M224.5 238.4h0M224.6 224.4h0M224.7 238.0h0M224.7 233.3h0M224.8 222.7h0M224.9 241.4h0M224.9 225.3h0M225.0 224.0h0M225.1 234.0h0M225.1 226.7h0M225.2 233.9h0M225.2 229.2h0M225.3 233.3h0M225.3 238.1h0M225.4 230.8h0M225.4 238.7h0M225.5 238.6h0M225.5 225.9h0M225.6 238.8h0M225.6 236.7h0M225.7 232.2h0M225.7 240.7h0M225.8 245.1h0M225.8 237.3h0M225.9 220.9h0M225.9 234.0h0M226.0 229.1h0M226.1 227.7h0M226.1 232.4h0M226.1 227.2h0M226.2 243.0h0M226.3 230.9h0M226.3 228.6h0M226.4 235.1h0M226.4 235.1h0M226.5 238.1h0M226.6 233.0h0M226.7 227.2h0M226.7 228.7h0M226.8 213.7h0M226.8 218.3h0M227.0 237.0h0M227.0 225.9h0M227.1 244.0h0M227.1 244.0h0M227.2 220.2h0M227.3 231.2h0M227.3 253.8h0M227.5 223.6h0M227.5 232.2h0M227.5 227.3h0M227.6 227.3h0M227.6 227.1h0M227.6 228.8h0M227.6 235.6h0M227.8 223.7h0M227.8 233.3h0M227.9 224.2h0M227.9 233.4h0M227.9 231.6h0M228.0 223.7h0M228.0 229.9h0M228.1 223.9h0M228.1 223.2h0M228.1 238.9h0M228.1 216.9h0M228.2 233.5h0M228.2 234.8h0M228.2 224.8h0M228.3 238.1h0M228.3 236.5h0M228.4 220.1h0M228.4 233.1h0M228.5 232.6h0M228.6 223.7h0M228.6 233.4h0M228.6 234.9h0M228.6 223.6h0M228.7 215.4h0M228.8 231.6h0M228.8 223.2h0M228.9 216.8h0M228.9 225.3h0M229.0 212.3h0M229.0 225.4h0M229.2 240.5h0M229.2 208.8h0M229.3 231.2h0M229.3 221.1h0M229.3 224.3h0M229.4 221.0h0M229.4 232.5h0M229.5 226.7h0M229.5 221.7h0M229.6 218.1h0M229.6 223.7h0M229.6 236.8h0M229.6 218.8h0M229.6 230.3h0M229.7 211.5h0M229.7 213.8h0M229.8 236.7h0M229.8 226.8h0M229.9 246.9h0M229.9 242.7h0M229.9 225.7h0M229.9 226.4h0M230.0 221.1h0M230.3 219.2h0M230.3 235.2h0M230.3 226.5h0M230.3 225.7h0M230.3 227.2h0M230.4 234.5h0M230.4 236.8h0M230.5 228.8h0M230.6 227.7h0M230.6 229.9h0M230.7 247.3h0M230.7 215.4h0M230.7 221.4h0M230.7 233.1h0M230.7 230.2h0M230.8 239.7h0M230.8 240.5h0M230.8 246.4h0M230.9 223.5h0M231.0 238.6h0M231.2 226.9h0M231.3 230.0h0M231.3 236.2h0M231.4 223.4h0M231.4 229.8h0M231.4 224.9h0M231.6 226.4h0M231.6 206.4h0M231.7 221.1h0M231.8 237.0h0M231.9 229.5h0M232.0 236.1h0M232.2 218.8h0M232.3 212.3h0M232.3 220.9h0M232.3 224.2h0M232.3 232.4h0M232.4 234.4h0M232.4 235.8h0M232.5 238.7h0M232.5 231.2h0M232.5 225.3h0M232.5 219.0h0M232.6 230.1h0M232.6 220.0h0M232.7 217.5h0M232.8 228.1h0M232.8 224.2h0M232.8 230.2h0M233.1 215.3h0M233.2 230.6h0M233.2 222.6h0M233.2 217.8h0M233.2 213.6h0M233.4 210.3h0M233.4 207.4h0M233.6 230.4h0M233.7 213.9h0M233.7 211.5h0M233.7 212.2h0M233.8 214.5h0M233.8 231.8h0M233.7 220.6h0M234.0 204.5h0M233.9 201.4h0M234.1 233.3h0M234.3 206.3h0M234.1 202.0h0M234.5 224.7h0M234.6 201.6h0M234.7 220.1h0M234.7 222.1h0M234.6 215.6h0M234.7 223.5h0M235.0 204.2h0M235.0 205.5h0M235.2 213.1h0M235.1 214.6h0M235.1 214.4h0M235.1 219.9h0M235.1 210.4h0M235.2 190.8h0M235.2 220.3h0M235.2 214.6h0M235.3 231.2h0M235.3 237.4h0M235.3 217.8h0M235.5 224.0h0M235.6 212.4h0M235.6 197.5h0M235.7 222.5h0M235.7 221.6h0M235.7 228.3h0M235.7 211.9h0M235.8 225.6h0M235.8 224.7h0M235.9 208.2h0M235.9 220.0h0M236.0 242.3h0M236.0 219.0h0M236.1 219.0h0M236.2 239.3h0M236.2 246.1h0M236.2 224.2h0M236.2 218.4h0M236.3 219.4h0M236.3 220.8h0M236.3 218.3h0M236.3 218.6h0M236.6 227.3h0M236.7 226.1h0M236.7 230.0h0M236.7 226.3h0M236.7 217.7h0M236.7 232.4h0M236.8 227.9h0M236.9 221.8h0M236.9 223.8h0M237.1 228.5h0M237.1 226.3h0M237.4 224.6h0M237.4 232.4h0M237.5 235.0h0M237.5 212.4h0M237.5 225.2h0M237.6 218.1h0M237.6 224.2h0M237.8 229.7h0M237.8 233.2h0M237.8 227.0h0M237.8 224.8h0M237.9 220.7h0M237.9 227.4h0M237.9 218.3h0M238.0 226.7h0M238.0 225.7h0M238.0 219.5h0M238.0 228.5h0M238.0 224.1h0M238.2 231.0h0M238.3 222.4h0M238.4 230.0h0M238.5 239.7h0M238.6 227.3h0M238.7 233.3h0M238.8 222.2h0M238.8 224.1h0M238.9 214.3h0M238.9 225.9h0M238.9 219.6h0M238.9 228.1h0M239.0 213.6h0M239.0 221.7h0M239.0 228.2h0M239.1 231.0h0M239.1 216.8h0M239.1 225.1h0M239.2 251.1h0M239.2 235.2h0M239.2 229.7h0M239.2 210.2h0M239.3 222.2h0M239.3 233.1h0M239.3 230.6h0M239.3 232.6h0M239.3 237.2h0M239.4 229.8h0M239.5 237.0h0M239.6 218.0h0M239.6 252.1h0M239.6 227.7h0M239.7 225.3h0M239.7 242.9h0M239.7 234.9h0M239.9 238.0h0M239.9 225.2h0M240.0 231.7h0M240.0 235.4h0M240.0 221.6h0M240.1 227.6h0M240.2 227.2h0M240.2 226.9h0M240.2 224.2h0M240.3 220.4h0M240.4 232.4h0M240.4 230.7h0M240.4 206.2h0M240.5 227.8h0M240.5 223.9h0M240.6 218.8h0M240.7 229.0h0M240.8 226.3h0M240.8 246.4h0M240.9 249.0h0M240.9 242.6h0M241.0 222.7h0M241.0 219.5h0M241.0 227.1h0M241.1 222.9h0M241.1 241.4h0M241.1 229.8h0M241.1 226.1h0M241.3 228.8h0M241.3 240.2h0M241.3 222.9h0M241.4 233.5h0M241.4 220.5h0M241.6 227.9h0M241.8 224.8h0M241.8 231.9h0M242.0 230.3h0M242.1 239.5h0M242.1 234.9h0M242.1 224.9h0M242.2 220.1h0M242.2 223.4h0M242.3 225.9h0M242.3 227.1h0M242.5 223.5h0M242.5 238.0h0M242.6 236.6h0M242.6 226.6h0M242.6 225.1h0M242.8 226.7h0M242.8 227.9h0M242.9 228.0h0M243.2 217.5h0M243.3 225.1h0M243.4 215.6h0M243.5 228.1h0M243.6 233.7h0M243.6 220.8h0M243.6 229.2h0M243.7 223.7h0M243.7 223.2h0M243.7 245.0h0M243.7 235.6h0M243.7 232.0h0M243.8 224.8h0M243.9 231.3h0M243.9 226.4h0M244.0 231.6h0M244.0 221.8h0M244.0 227.1h0M244.1 225.0h0M244.1 218.4h0M244.1 242.5h0M244.1 234.8h0M244.1 222.5h0M244.2 218.1h0M244.3 222.8h0M244.3 222.1h0M244.4 223.6h0M244.5 203.7h0M244.5 222.1h0M244.6 228.1h0M244.7 231.2h0M244.7 214.8h0M244.8 227.7h0M244.8 221.3h0M244.9 221.2h0M245.0 226.0h0M245.0 223.7h0M245.0 234.3h0M245.1 234.5h0M245.3 226.5h0M245.3 224.3h0M245.3 244.4h0M245.4 245.1h0M245.4 232.1h0M245.4 227.7h0M245.5 237.7h0M245.5 241.7h0M245.6 225.5h0M245.6 244.9h0M245.7 227.8h0M245.9 238.3h0M245.9 225.3h0M245.9 229.2h0M246.0 225.6h0M246.0 228.7h0M246.1 237.4h0M246.2 222.4h0M246.2 226.3h0M246.3 233.0h0M246.3 225.1h0M246.5 246.0h0M246.6 218.3h0M246.6 250.4h0M246.6 223.5h0M246.7 236.4h0M246.8 242.1h0M246.9 232.5h0M247.0 218.5h0M247.0 212.4h0M247.0 228.3h0M247.0 232.7h0M247.1 236.4h0M247.1 237.6h0M247.3 240.6h0M247.4 221.2h0M247.4 236.3h0M247.5 216.0h0M247.6 228.7h0M247.6 220.4h0M247.7 215.7h0M247.7 235.6h0M247.9 227.3h0M247.9 236.3h0M248.0 217.1h0M248.0 219.5h0M248.0 226.9h0M248.0 223.1h0M248.0 228.2h0M248.0 223.5h0M248.1 225.3h0M248.1 220.1h0M248.3 239.2h0M248.3 225.6h0M248.4 220.0h0M248.4 233.8h0M248.4 232.1h0M248.5 229.7h0M248.5 229.8h0M248.6 225.3h0M248.7 227.0h0M248.7 213.4h0M248.7 217.7h0M248.7 219.9h0M248.7 230.5h0M248.8 239.0h0M248.8 227.0h0M248.9 226.3h0M249.0 238.3h0M249.1 226.0h0M249.2 234.3h0M249.2 232.4h0M249.3 219.8h0M249.4 231.4h0M249.4 230.5h0M249.5 221.2h0M249.5 221.9h0M249.5 220.4h0M249.6 241.2h0M249.6 247.8h0M249.7 216.4h0M249.7 242.9h0M249.7 219.9h0M249.9 241.4h0M249.9 246.5h0M249.9 243.3h0M250.0 222.5h0M250.1 238.5h0M250.1 227.9h0M250.1 238.4h0M250.2 224.4h0M250.2 228.8h0M250.2 224.9h0M250.3 232.9h0M250.3 227.9h0M250.3 238.6h0M250.4 236.0h0M250.4 232.3h0M250.4 228.3h0M250.5 203.3h0M250.5 228.6h0M251.0 235.1h0M251.0 229.5h0M251.0 231.0h0M251.1 228.1h0M251.1 227.8h0M251.2 223.9h0M251.2 215.9h0M251.3 233.4h0M251.3 233.3h0M251.4 221.8h0M251.6 245.4h0M251.8 220.2h0M251.8 236.9h0M251.8 230.2h0M251.9 230.6h0M251.9 238.0h0M251.9 236.0h0M251.9 227.9h0M251.9 220.7h0M252.0 219.5h0M252.0 229.3h0M252.1 241.7h0M252.2 235.3h0M252.2 227.1h0M252.2 230.3h0M252.3 233.4h0M252.3 242.8h0M252.3 222.2h0M252.3 233.8h0M252.3 229.7h0M252.4 222.0h0M252.4 220.3h0M252.4 238.5h0M252.6 229.9h0M252.6 225.5h0M252.6 227.8h0M252.6 235.7h0M252.6 227.6h0M252.7 241.3h0M252.8 224.9h0M252.9 221.3h0M253.1 225.6h0M253.1 220.1h0M253.1 224.0h0M253.1 237.4h0M253.1 241.8h0M253.1 232.0h0M253.2 228.0h0M253.2 220.1h0M253.2 219.5h0M253.2 229.5h0M253.3 227.6h0M253.3 222.3h0M253.3 223.1h0M253.4 251.5h0M253.4 235.0h0M253.4 226.5h0M253.4 228.0h0M253.5 237.5h0M253.5 229.2h0M253.8 230.4h0M253.9 216.1h0M253.9 215.4h0M254.0 214.4h0M254.0 212.1h0M254.1 227.1h0M254.1 230.2h0M254.1 221.5h0M254.2 231.4h0M254.3 231.7h0M254.3 227.2h0M254.3 218.1h0M254.4 241.2h0M254.4 240.6h0M254.5 224.4h0M254.7 246.0h0M254.8 228.4h0M254.8 222.7h0M254.8 224.9h0M254.9 215.2h0M254.9 225.1h0M254.9 216.8h0M254.9 237.5h0M255.1 229.3h0M255.3 216.3h0M255.3 231.0h0M255.4 213.6h0M255.4 226.5h0M255.6 228.9h0M255.6 224.6h0M255.6 216.2h0M255.7 223.0h0M255.7 222.1h0M255.8 223.1h0M255.8 236.8h0M255.9 236.7h0M256.0 216.7h0M256.0 215.8h0M256.0 221.1h0M256.0 225.1h0M256.0 206.2h0M256.0 216.3h0M256.2 236.6h0M256.2 209.9h0M256.3 212.8h0M256.4 212.2h0M256.4 221.9h0M256.4 216.4h0M369.0 215.2h0M369.1 211.0h0M369.2 213.7h0M369.3 227.5h0M370.0 212.2h0M370.1 231.8h0M370.1 208.9h0M370.2 223.4h0M370.2 227.2h0M370.3 232.7h0M370.3 217.8h0M370.4 215.4h0M370.6 210.9h0M370.9 236.6h0M370.9 209.6h0M370.9 217.5h0M370.9 217.8h0M371.0 223.2h0M371.1 221.0h0M371.1 232.1h0M371.1 205.6h0M371.3 228.8h0M371.5 220.0h0M371.7 218.3h0M371.8 220.0h0M371.9 228.0h0M372.1 223.0h0M372.3 211.0h0M372.3 220.7h0M372.3 220.4h0M372.4 224.7h0M372.4 221.6h0M372.5 220.7h0M372.5 231.2h0M372.6 213.8h0M372.6 242.4h0M372.7 217.5h0M372.7 214.3h0M372.8 229.1h0M372.9 240.2h0M373.0 233.7h0M373.0 246.9h0M373.1 226.3h0M373.1 222.4h0M373.1 225.4h0M373.2 221.8h0M373.5 237.4h0M373.6 239.5h0M373.7 222.3h0M373.8 220.8h0M373.8 219.0h0M373.8 210.8h0M373.9 217.8h0M373.9 219.0h0M374.0 222.5h0M374.0 215.7h0M374.1 229.0h0M374.1 239.2h0M374.3 208.3h0M374.5 231.3h0M374.5 215.2h0M374.6 213.4h0M374.7 223.7h0M374.9 222.0h0M375.0 219.4h0M375.0 251.8h0M375.0 238.0h0M375.1 230.1h0M375.1 223.4h0M375.1 221.7h0M375.1 232.3h0M375.3 222.5h0M375.3 238.3h0M375.4 236.1h0M375.5 220.2h0M375.5 231.6h0M375.5 239.3h0M375.6 208.5h0M375.7 218.2h0M375.7 222.9h0M375.7 222.5h0M375.8 226.1h0M375.8 225.3h0M375.8 222.6h0M375.9 233.3h0M375.9 238.0h0M376.0 221.4h0M376.0 215.4h0M376.1 229.0h0M376.1 225.7h0M376.2 229.8h0M376.3 221.2h0M376.3 228.7h0M376.3 219.7h0M376.3 236.4h0M376.3 200.0h0M376.5 219.9h0M376.5 208.6h0M376.7 222.7h0M376.9 228.1h0M376.9 226.5h0M377.0 230.8h0M377.1 251.7h0M377.1 222.0h0M377.2 223.3h0M377.2 230.1h0M377.3 212.9h0M377.4 233.2h0M377.4 221.3h0M377.4 215.7h0M377.4 219.7h0M377.5 230.4h0M377.5 233.6h0M377.6 237.3h0M377.7 229.6h0M377.7 220.2h0M377.8 230.6h0M377.9 247.4h0M377.9 210.9h0M377.9 240.4h0M378.0 232.4h0M378.0 228.9h0M378.0 224.2h0M378.2 220.8h0M378.2 218.0h0M378.3 213.8h0M378.3 244.0h0M378.4 233.5h0M378.5 230.9h0M378.5 227.9h0M378.6 210.9h0M378.6 222.2h0M378.7 225.4h0M378.7 235.2h0M379.0 216.7h0M379.0 226.4h0M379.1 221.9h0M379.1 224.0h0M379.1 218.1h0M379.1 227.2h0M379.2 224.4h0M379.2 210.4h0M379.2 235.2h0M379.3 244.4h0M379.4 217.0h0M379.6 234.1h0M379.6 216.1h0M379.6 219.2h0M379.6 239.9h0M379.6 227.4h0M379.6 237.6h0M379.7 225.9h0M379.7 232.7h0M379.8 221.6h0M379.8 236.8h0M379.8 240.1h0M379.8 229.5h0M379.9 218.8h0M379.9 220.2h0M380.0 216.2h0M380.0 228.8h0M380.1 227.9h0M380.2 217.8h0M380.2 231.7h0M380.2 218.6h0M380.2 240.3h0M380.2 230.8h0M380.2 238.1h0M380.4 215.6h0M380.4 209.8h0M380.6 228.9h0M380.6 214.7h0M380.8 236.0h0M380.8 224.5h0M380.8 230.5h0M380.9 214.0h0M380.9 218.8h0M380.9 225.2h0M381.0 230.6h0M381.0 214.2h0M381.1 227.1h0M381.1 217.7h0M381.1 231.6h0M381.2 222.0h0M381.4 221.9h0M381.4 228.6h0M381.4 235.6h0M381.4 222.4h0M381.4 236.4h0M381.5 217.2h0M381.5 227.4h0M381.6 216.5h0M381.6 226.9h0M381.6 218.0h0M381.7 224.9h0M381.7 236.3h0M381.7 202.9h0M381.8 211.5h0M381.8 222.4h0M381.9 228.9h0M381.9 226.1h0M381.9 217.0h0M381.9 231.9h0M381.9 221.1h0M382.0 230.9h0M382.0 216.7h0M382.2 234.3h0M382.2 217.6h0M382.3 219.9h0M382.4 228.1h0M382.4 226.9h0M382.5 224.9h0M382.6 219.9h0M382.6 209.6h0M382.7 220.9h0M382.7 211.2h0M382.7 221.5h0M382.9 203.4h0M382.9 234.8h0M382.9 239.2h0M383.0 224.6h0M437.1 214.9h0M437.2 216.8h0M437.3 208.1h0M437.5 224.8h0M437.5 212.7h0M437.6 207.7h0M437.6 215.9h0M437.5 208.8h0M437.7 212.6h0M437.9 215.4h0M437.6 224.7h0M437.9 214.4h0M437.9 205.4h0M437.9 214.8h0M438.0 214.0h0M438.3 215.4h0M438.1 212.5h0M438.0 212.5h0M438.3 188.7h0M438.4 216.4h0M438.3 229.2h0M438.4 210.6h0M438.5 209.1h0M438.3 214.6h0M438.5 213.7h0M438.7 218.9h0M438.5 197.9h0M438.5 215.2h0M438.5 221.9h0M438.7 211.9h0M438.8 212.6h0M438.8 211.3h0M438.8 228.4h0M438.9 213.2h0M438.9 215.0h0M439.1 208.6h0M439.0 213.0h0M439.0 208.9h0M439.0 212.6h0M439.1 203.3h0M439.2 216.1h0M439.4 247.2h0M439.3 202.6h0M439.4 215.3h0M439.4 225.2h0M439.6 236.8h0M439.7 208.3h0M439.8 215.4h0M439.7 231.7h0M439.9 198.9h0M439.8 215.2h0M439.8 210.1h0M440.0 208.5h0M440.1 208.8h0M440.0 204.8h0M440.2 229.5h0M440.3 227.5h0M440.4 205.2h0M440.3 211.5h0M440.4 226.0h0M440.5 208.5h0M440.3 231.1h0M440.6 214.5h0M440.6 209.1h0M440.8 214.3h0M440.8 210.8h0M440.8 238.0h0M440.8 216.7h0M440.9 211.8h0M440.8 216.3h0M441.0 208.7h0M441.0 203.7h0M441.1 191.9h0M441.2 222.4h0M441.1 213.0h0M441.1 215.7h0M441.2 199.5h0M441.3 197.2h0M441.3 229.9h0M441.4 215.8h0M441.4 224.0h0M441.4 217.0h0M441.6 248.1h0M441.5 213.2h0M441.7 237.9h0M441.6 199.0h0M441.6 218.2h0M441.6 225.7h0M441.6 206.4h0M441.8 202.8h0M441.8 218.3h0M441.8 227.6h0M441.8 229.3h0M441.9 212.3h0M442.1 195.7h0M442.0 206.8h0M442.0 234.7h0M442.1 212.6h0M442.2 229.6h0M442.1 214.7h0M442.3 214.0h0M442.3 232.8h0M442.4 210.0h0M442.4 229.3h0M442.4 213.6h0M442.5 209.7h0M442.5 209.9h0M442.5 227.4h0M442.5 215.3h0M442.5 213.3h0M442.6 204.9h0M442.6 227.7h0M442.7 226.5h0M442.7 219.1h0M442.7 223.8h0M442.8 192.5h0M442.8 212.1h0M442.9 217.6h0M442.9 217.1h0M443.1 212.0h0M443.2 218.5h0M443.2 210.9h0M443.2 211.5h0M443.3 207.3h0M443.4 217.7h0M443.4 211.1h0M443.6 212.8h0M443.6 230.6h0M443.8 216.6h0M443.8 216.8h0M443.9 206.0h0M444.0 227.3h0M444.1 218.1h0M444.2 216.5h0M444.3 219.2h0M444.3 222.2h0M444.4 215.9h0M444.4 200.3h0M444.7 238.8h0M444.7 230.3h0M444.7 217.6h0M444.8 233.0h0M444.8 231.7h0M444.8 220.5h0M445.0 227.5h0M445.1 215.9h0M445.1 219.8h0M445.2 224.2h0M445.4 228.8h0M445.5 223.3h0M445.5 226.1h0M445.5 213.6h0M445.5 235.5h0M445.6 220.0h0M445.5 216.2h0M445.5 215.4h0M445.7 208.9h0M445.7 212.2h0M445.7 206.4h0M445.9 219.5h0M445.8 216.8h0M445.9 219.4h0M518.5 206.6h0M518.6 213.5h0M518.8 231.5h0M518.7 216.8h0M518.8 193.3h0M518.9 218.4h0M519.0 228.8h0M519.0 214.4h0M519.0 233.6h0M519.0 222.3h0M519.4 218.9h0M519.3 225.3h0M519.5 218.9h0M519.6 234.7h0M519.6 204.0h0M519.6 223.0h0M519.6 222.0h0M519.7 229.9h0M519.8 228.5h0M520.0 227.9h0M520.1 231.8h0M520.2 219.8h0M520.2 221.6h0M520.3 219.6h0M520.3 224.6h0M520.4 226.2h0M520.5 225.4h0M520.5 233.6h0M520.6 222.1h0M520.6 227.3h0M520.6 237.1h0M520.7 244.7h0M520.7 229.4h0M520.9 240.0h0M520.9 241.6h0M520.9 222.1h0M521.1 231.1h0M521.2 221.9h0M521.2 226.2h0M521.2 232.6h0M521.3 220.4h0M521.5 233.6h0M521.5 227.8h0M521.5 227.2h0M521.7 233.7h0M521.7 223.5h0M521.8 217.9h0M521.8 229.4h0M521.9 224.6h0M522.0 228.3h0M522.0 222.4h0M522.1 223.7h0M522.2 223.2h0M522.2 221.6h0M522.2 224.7h0M522.2 224.9h0M522.2 230.3h0M522.2 257.6h0M522.3 226.1h0M522.4 219.9h0M522.4 235.6h0M522.5 222.4h0M522.5 224.7h0M522.5 228.4h0M522.5 231.1h0M522.6 231.5h0M522.8 233.1h0M522.9 230.2h0M523.0 240.9h0M523.0 238.6h0M523.1 227.6h0M523.1 229.7h0M523.2 237.0h0M523.3 229.9h0M523.5 248.3h0M523.5 227.0h0M523.7 244.9h0M523.7 225.5h0M523.7 220.5h0M523.7 225.9h0M523.7 234.4h0M523.8 247.5h0M523.8 225.8h0M523.9 240.0h0M523.9 228.1h0M523.9 228.1h0M523.9 229.5h0M524.0 209.2h0M524.1 233.0h0M524.1 234.1h0M524.2 221.7h0M524.2 232.9h0M524.2 233.9h0M524.3 245.8h0M524.3 225.8h0M524.3 226.9h0M524.3 225.5h0M524.6 227.3h0M524.6 212.6h0M524.6 226.4h0M524.7 242.9h0M524.7 231.9h0M524.8 226.2h0M524.9 228.2h0M525.0 223.8h0M525.0 223.4h0M525.1 243.0h0M525.2 240.9h0M525.3 227.1h0M525.3 230.5h0M525.3 247.7h0M525.4 229.2h0M525.4 235.8h0M525.5 238.5h0M525.5 232.8h0M525.5 232.9h0M525.6 232.1h0M525.6 235.3h0M525.7 224.2h0M525.7 234.6h0M525.8 235.7h0M525.9 225.6h0M525.9 238.0h0M526.0 228.0h0M526.0 217.1h0M526.1 218.8h0M526.2 234.6h0M526.2 238.7h0M526.2 231.0h0M526.3 224.4h0M526.3 232.7h0M526.3 247.9h0M526.3 233.4h0M526.3 224.2h0M526.4 237.6h0M526.4 232.3h0M526.4 232.5h0M526.5 233.9h0M526.6 238.3h0M526.6 232.8h0M526.6 227.2h0M526.7 232.8h0M526.7 234.6h0M526.8 243.9h0M526.8 225.7h0M526.9 232.9h0M526.9 220.5h0M527.2 236.4h0M527.2 230.6h0M527.2 214.3h0M527.4 242.7h0M527.6 230.3h0M527.7 227.5h0M527.7 224.8h0M527.8 227.6h0M527.8 226.1h0M527.9 233.5h0M527.9 235.6h0M527.9 233.9h0M527.9 237.5h0M528.0 229.0h0M528.0 239.6h0M528.1 233.6h0M528.2 238.1h0M528.2 239.5h0M528.3 231.8h0M528.3 245.0h0M528.3 241.1h0M528.4 231.5h0M528.5 249.5h0M528.5 248.6h0M528.7 224.0h0M528.9 219.1h0M528.9 229.5h0M529.0 237.4h0M529.0 241.6h0M529.1 239.0h0M529.2 233.0h0M529.5 241.1h0M529.5 238.8h0M529.6 229.8h0M529.7 234.2h0M529.7 242.0h0M529.7 228.7h0M529.8 228.9h0M529.8 227.6h0M529.8 245.7h0M529.9 239.0h0M529.9 240.6h0M529.9 230.9h0M529.9 233.1h0M530.0 244.0h0M530.0 231.7h0M530.1 244.1h0M530.4 234.1h0M530.4 234.1h0M530.4 239.1h0M530.4 212.7h0M530.4 249.7h0M530.5 232.3h0M530.5 249.3h0M530.6 229.8h0M530.7 229.2h0M530.7 220.4h0M530.8 242.1h0M530.8 222.4h0M530.9 227.1h0M530.9 232.7h0M530.9 233.2h0M530.9 224.8h0M531.0 235.4h0M531.1 237.5h0M531.1 231.7h0M531.2 228.3h0M531.2 236.0h0M531.2 240.1h0M531.2 225.8h0M531.3 234.3h0M531.3 239.8h0M531.4 216.9h0M531.4 237.8h0M531.4 212.0h0M531.4 226.7h0M531.4 246.4h0M531.5 233.1h0M531.5 240.3h0M531.5 234.0h0M531.5 227.7h0M531.6 224.0h0M531.6 256.0h0M531.7 226.5h0M531.7 233.4h0M531.7 257.6h0M531.7 237.9h0M531.8 236.9h0M531.9 222.6h0M531.9 231.7h0M532.0 227.2h0M532.0 224.2h0M532.1 239.1h0M532.1 243.3h0M532.1 231.1h0M532.2 231.9h0M532.2 239.9h0M532.3 244.0h0M532.4 229.6h0M532.4 246.7h0M532.4 244.7h0M532.5 236.8h0M532.7 229.5h0M532.8 241.4h0M532.8 242.4h0M532.8 251.8h0M533.1 231.9h0M533.1 249.6h0M533.2 233.2h0M533.2 240.0h0M533.3 234.6h0M533.4 235.8h0M533.4 247.9h0M533.5 230.5h0M533.5 242.1h0M533.5 233.0h0M533.5 234.5h0M533.6 229.9h0M533.6 236.3h0M533.6 221.7h0M533.7 232.9h0M533.7 243.5h0M533.7 242.1h0M533.9 224.3h0M533.9 227.5h0M533.9 232.1h0M533.9 251.3h0M534.0 232.1h0M534.0 234.8h0M534.1 233.3h0M534.2 237.7h0M534.2 229.1h0M534.2 237.3h0M534.2 239.2h0M534.3 244.3h0M534.4 229.5h0M534.5 243.2h0M534.7 252.1h0M534.9 241.6h0M535.0 240.5h0M535.0 218.5h0M535.0 255.5h0M535.0 251.2h0M535.1 244.9h0M535.1 238.5h0M535.2 241.2h0M535.2 260.9h0M535.4 228.8h0M535.4 230.7h0M535.5 213.4h0M535.6 235.2h0M535.6 218.9h0M535.8 235.5h0M535.8 236.7h0M535.9 227.7h0M535.9 237.2h0M535.9 237.7h0M536.1 222.6h0M536.1 239.0h0M536.1 253.6h0M536.1 250.1h0M536.2 227.4h0M536.2 226.2h0M536.3 235.6h0M536.3 237.7h0M536.4 226.7h0M536.4 230.6h0M536.5 247.8h0M536.5 238.1h0M536.6 252.6h0M536.7 235.7h0M536.7 244.9h0M536.8 232.2h0M536.9 232.2h0M536.9 229.3h0M536.9 222.9h0M536.9 232.8h0M537.0 226.4h0M537.0 232.1h0M537.1 236.3h0M537.2 236.3h0M537.2 238.2h0M537.2 232.0h0M537.3 234.2h0M537.3 244.8h0M537.3 211.8h0M537.5 234.3h0M537.5 218.0h0M537.5 226.8h0M537.5 243.7h0M537.5 228.3h0M537.5 226.9h0M537.7 242.3h0M537.7 225.6h0M537.7 242.5h0M537.8 232.9h0M537.8 229.4h0M537.9 220.1h0M537.9 245.3h0M537.9 221.5h0M538.0 225.3h0M538.1 240.3h0M538.2 225.1h0M538.3 237.6h0M538.4 232.8h0M538.4 231.2h0M538.5 225.9h0M538.6 228.5h0M538.8 237.4h0M538.8 226.7h0M538.8 238.9h0M538.8 235.4h0M538.9 238.3h0M538.9 235.5h0M538.9 238.5h0M539.0 236.9h0M539.0 241.0h0M539.0 237.0h0M539.2 237.0h0M539.2 228.2h0M539.3 223.0h0M539.3 234.7h0M539.3 242.9h0M539.4 228.4h0M539.4 224.1h0M539.4 231.0h0M539.4 237.8h0M539.5 242.3h0M539.6 232.8h0M539.6 227.2h0M539.7 234.6h0M539.8 241.2h0M539.8 234.8h0M539.9 244.2h0M539.9 231.9h0M539.9 243.0h0M540.0 249.9h0M540.0 228.7h0M540.0 229.6h0M540.0 241.1h0M540.1 262.5h0M540.1 239.8h0M540.1 235.2h0M540.3 247.2h0M540.3 234.8h0M540.3 224.9h0M540.4 229.3h0M540.6 247.8h0M540.8 224.1h0M540.9 225.5h0M540.9 242.0h0M540.9 236.7h0M541.0 245.3h0M541.0 227.5h0M541.1 229.2h0M541.1 231.6h0M541.2 225.4h0M541.2 232.0h0M541.3 232.3h0M541.3 241.0h0M541.3 232.7h0M541.3 230.5h0M541.5 237.1h0M541.6 242.2h0M541.6 241.6h0M541.6 234.6h0M541.7 229.7h0M541.7 229.1h0M541.7 223.6h0M541.7 233.1h0M542.0 231.9h0M542.0 246.8h0M542.1 234.0h0M542.1 238.7h0M542.2 243.7h0M542.2 219.8h0M542.2 227.8h0M542.3 230.5h0M542.3 233.0h0M542.5 224.5h0M542.5 239.6h0M542.5 240.0h0M542.6 236.4h0M542.6 238.0h0M542.7 224.8h0M542.7 242.2h0M543.0 228.2h0M543.1 219.9h0M543.2 233.4h0M543.2 236.1h0M543.2 227.9h0M543.4 221.7h0M543.5 225.0h0M543.5 231.6h0M543.5 215.9h0M543.6 241.8h0M543.7 241.5h0M543.8 231.3h0M543.9 241.9h0M543.9 231.4h0M543.9 225.0h0M543.9 238.1h0M543.9 237.4h0M544.0 226.3h0M544.1 223.1h0M544.1 225.8h0M544.2 242.7h0M544.2 230.2h0M544.2 257.4h0M544.3 227.8h0M544.3 237.5h0M544.3 235.0h0M544.4 230.6h0M544.4 239.5h0M544.4 226.4h0M544.4 231.7h0M544.6 224.3h0M544.7 217.8h0M544.8 233.1h0M544.8 224.7h0M544.8 223.7h0M544.9 237.6h0M544.9 231.4h0M544.9 235.9h0M545.0 248.1h0M545.0 234.2h0M545.1 236.8h0M545.1 225.0h0M545.1 240.3h0M545.1 240.5h0M545.1 226.0h0M545.1 238.8h0M545.2 235.8h0M545.2 231.6h0M545.3 233.9h0M545.3 254.9h0M545.4 229.1h0M545.4 231.2h0M545.5 234.4h0M545.6 232.5h0M545.6 221.7h0M545.7 244.0h0M545.7 241.9h0M545.7 249.1h0M545.8 229.7h0M545.8 225.1h0M545.9 239.2h0M546.0 226.4h0M546.0 233.1h0M546.0 230.5h0M546.1 235.9h0M546.1 230.0h0M546.2 239.1h0M546.2 226.8h0M546.2 254.3h0M546.2 239.8h0M546.2 228.6h0M546.4 226.2h0M546.4 231.3h0M546.4 229.4h0M546.5 226.8h0M546.6 244.8h0M546.6 241.0h0M546.6 225.1h0M546.7 237.2h0M546.7 232.3h0M546.7 239.1h0M546.7 227.9h0M546.8 251.4h0M546.8 233.0h0M547.0 250.2h0M547.0 229.2h0M547.1 244.5h0M547.1 231.7h0M547.1 247.3h0M547.1 231.2h0M547.2 225.4h0M547.3 225.3h0M547.3 228.3h0M547.4 237.9h0M547.4 235.8h0M547.5 233.5h0M547.5 242.0h0M547.5 247.2h0M547.6 225.9h0M547.6 241.5h0M547.6 253.3h0M547.6 228.5h0M547.8 229.1h0M547.8 236.4h0M547.8 234.9h0M547.9 229.4h0M548.1 232.7h0M548.1 247.6h0M548.1 241.4h0M548.2 227.9h0M548.2 222.0h0M548.3 226.1h0M548.3 235.0h0M548.3 228.3h0M548.4 228.0h0M548.4 240.0h0M548.4 231.7h0M548.5 231.1h0M548.5 235.5h0M548.6 246.8h0M548.6 236.5h0M548.6 239.9h0M548.6 234.9h0M548.7 247.3h0M548.8 225.0h0M548.8 225.5h0M548.9 229.1h0M548.9 250.7h0M549.0 246.1h0M549.1 208.6h0M549.1 228.6h0M549.2 236.2h0M549.2 231.8h0M549.3 239.1h0M549.3 227.8h0M549.3 219.8h0M549.4 236.2h0M549.4 241.6h0M549.5 220.1h0M549.6 217.5h0M549.6 226.7h0M549.6 217.3h0M549.7 233.4h0M549.7 221.8h0M549.7 236.1h0M549.8 227.1h0M549.9 230.3h0M549.9 235.1h0M550.1 227.5h0M550.2 222.0h0M550.2 237.0h0M550.2 217.2h0M550.4 241.3h0M550.5 224.1h0M550.5 224.6h0M550.7 234.0h0M550.7 231.2h0M550.8 231.7h0M550.8 217.0h0M550.8 220.8h0M550.9 229.8h0M550.9 229.7h0M551.1 224.9h0M551.1 237.7h0M551.1 223.9h0M551.2 233.6h0M551.3 234.7h0M551.4 227.0h0M551.4 222.3h0M551.6 229.8h0M551.6 226.9h0M551.6 228.6h0M551.7 216.3h0M551.8 230.3h0M551.8 237.4h0M552.0 219.4h0M552.1 222.5h0M552.1 219.4h0M552.1 229.7h0M552.1 206.5h0M552.1 249.1h0M552.2 225.7h0M552.2 219.0h0M552.3 222.9h0M552.4 240.1h0M552.4 223.8h0M552.7 226.4h0M552.8 231.7h0M552.9 221.8h0M552.9 227.5h0M552.9 234.8h0M552.9 225.8h0M553.0 216.0h0M553.2 240.9h0M553.2 218.8h0M553.4 225.8h0M553.4 225.7h0M553.6 230.7h0M553.7 219.9h0M553.7 222.9h0M553.8 242.2h0M553.8 219.4h0M553.8 231.4h0M554.0 225.9h0M554.0 240.0h0M554.0 214.6h0M554.0 226.8h0M554.1 235.8h0M554.1 218.0h0M554.2 222.3h0M554.3 232.9h0M554.4 229.5h0M554.6 228.4h0M554.8 233.9h0M554.8 221.8h0M554.8 225.5h0M554.9 247.0h0M554.9 226.9h0M555.0 235.3h0M555.0 231.0h0M555.1 239.4h0M555.3 234.9h0M555.4 235.7h0M555.4 242.5h0M555.4 235.0h0M555.5 221.1h0M555.5 227.9h0M555.6 245.2h0M555.6 242.0h0M555.7 231.0h0M555.7 222.3h0M555.7 228.0h0M555.8 251.4h0M555.8 243.5h0M555.8 243.8h0M555.8 222.3h0M555.9 224.1h0M555.9 229.1h0M555.9 224.2h0M556.0 234.2h0M556.0 226.1h0M556.1 237.6h0M556.1 232.0h0M556.1 229.8h0M556.2 239.4h0M556.2 237.6h0M556.2 234.9h0M556.3 231.4h0M556.3 233.5h0M556.4 221.4h0M556.5 221.3h0M556.5 229.8h0M556.6 235.6h0M556.6 250.1h0M556.7 238.0h0M556.7 228.0h0M556.9 231.2h0M556.9 226.2h0M556.9 234.1h0M557.0 233.8h0M557.0 234.2h0M557.1 236.8h0M557.1 223.2h0M557.2 240.5h0M557.3 226.9h0M557.3 241.9h0M557.3 227.8h0M557.3 237.8h0M557.3 235.3h0M557.4 249.4h0M557.4 233.7h0M557.5 233.8h0M557.6 232.6h0M557.6 242.1h0M557.7 237.2h0M557.7 232.7h0M557.7 241.9h0M557.9 253.3h0M558.0 260.7h0M558.0 247.9h0M558.0 231.1h0M558.1 234.0h0M558.2 212.7h0M558.2 223.6h0M558.3 250.0h0M558.3 225.3h0M558.3 238.3h0M558.4 226.7h0M558.4 235.9h0M558.5 242.1h0M558.5 239.4h0M558.6 229.2h0M558.7 230.6h0M558.7 212.5h0M558.8 234.4h0M558.9 235.9h0M559.0 243.2h0M559.0 218.5h0M559.0 237.1h0M559.1 246.1h0M559.1 261.7h0M559.2 241.0h0M559.2 230.1h0M559.4 243.5h0M559.4 251.5h0M559.5 230.7h0M559.6 230.2h0M559.6 234.0h0M559.7 232.4h0M559.8 222.1h0M559.8 220.0h0M559.8 226.9h0M559.8 231.3h0M559.8 239.4h0M559.9 232.2h0M559.9 237.3h0M559.9 248.0h0M560.0 262.4h0M560.0 243.8h0M560.0 229.7h0M560.2 214.7h0M560.2 236.6h0M560.3 239.8h0M560.3 245.4h0M560.3 243.8h0M560.3 228.3h0M560.4 229.6h0M560.4 239.5h0M560.4 243.4h0M560.4 255.8h0M560.4 242.5h0M560.6 235.2h0M560.7 234.2h0M560.7 232.7h0M560.8 228.7h0M560.8 228.5h0M560.8 233.4h0M560.8 237.8h0M560.9 231.8h0M560.9 236.9h0M560.9 234.8h0M561.0 234.9h0M561.1 233.4h0M561.2 238.3h0M561.2 235.9h0M561.2 218.5h0M561.3 237.9h0M561.4 236.0h0M561.4 231.1h0M561.5 236.3h0M561.5 230.1h0M561.5 235.7h0M561.6 228.8h0M561.6 240.5h0M561.7 237.5h0M561.8 225.0h0M561.8 229.8h0M561.8 240.6h0M561.8 237.9h0M561.9 236.6h0M561.9 226.9h0M561.9 229.8h0M562.0 235.7h0M562.1 236.8h0M562.1 234.0h0M562.3 228.6h0M562.3 232.5h0M562.3 230.8h0M562.4 226.4h0M563.0 227.0h0M563.0 228.9h0M563.1 224.5h0M563.2 238.4h0M563.3 241.1h0M563.3 242.1h0M563.3 229.3h0M563.4 229.5h0M563.4 236.6h0M563.5 231.4h0M563.6 232.5h0M563.7 232.4h0M563.8 224.0h0M563.8 245.5h0M563.9 224.9h0M563.9 224.0h0M564.0 241.3h0M564.1 227.0h0M564.1 243.5h0M564.2 237.0h0M564.2 237.2h0M564.2 231.6h0M564.2 224.9h0M564.2 220.1h0M564.2 234.9h0M564.3 233.2h0M564.4 226.1h0M564.4 226.5h0M564.4 228.2h0M564.4 214.9h0M564.5 237.6h0M564.6 241.6h0M564.6 231.3h0M564.6 246.2h0M564.6 240.0h0M564.6 246.7h0M564.7 228.2h0M564.8 239.3h0M564.8 243.8h0M564.8 212.9h0M564.8 242.4h0M564.9 238.0h0M565.0 243.1h0M565.2 237.0h0M565.3 245.8h0M565.6 233.8h0M565.6 233.3h0M565.6 243.0h0M565.7 243.0h0M565.7 228.0h0M565.7 247.2h0M565.8 247.0h0M565.8 245.7h0M565.9 232.0h0M565.9 247.7h0M566.0 241.2h0M566.0 244.8h0M566.1 236.4h0M566.3 233.9h0M566.3 232.2h0M566.3 232.8h0M566.5 244.5h0M566.6 231.8h0M566.6 232.8h0M566.6 239.5h0M566.7 234.9h0M566.7 223.3h0M566.8 232.1h0M566.8 234.0h0M566.9 250.2h0M566.9 241.9h0M566.9 229.7h0M566.9 229.0h0M567.1 232.8h0M567.2 237.5h0M567.2 230.5h0M567.2 239.2h0M567.2 226.4h0M567.2 238.3h0M567.3 245.7h0M567.3 218.2h0M567.4 235.0h0M567.4 237.4h0M567.4 239.1h0M567.4 236.6h0M567.4 234.6h0M567.4 237.5h0M567.4 236.0h0M567.5 235.8h0M567.5 248.7h0M567.5 243.9h0M567.5 242.9h0M567.5 230.8h0M567.6 231.6h0M567.8 243.8h0M567.9 227.8h0M568.0 243.3h0M568.1 225.8h0M568.2 252.9h0M568.2 245.1h0M568.3 230.8h0M568.4 231.3h0M568.4 221.2h0M568.4 233.9h0M568.4 244.6h0M568.4 239.5h0M568.4 232.5h0M568.4 252.0h0M568.4 239.0h0M568.5 237.7h0M568.5 232.3h0M568.7 239.4h0M568.8 257.3h0M568.8 238.5h0M569.0 224.2h0M569.0 236.8h0M569.1 251.6h0M569.1 245.5h0M569.1 231.9h0M569.2 238.3h0M569.2 225.8h0M569.2 240.8h0M569.2 229.7h0M569.2 231.9h0M569.2 231.7h0M569.2 230.8h0M569.3 250.2h0M569.3 248.4h0M569.4 233.8h0M569.5 236.7h0M569.5 250.5h0M569.6 234.3h0M569.7 233.4h0M569.7 230.8h0M569.7 249.8h0M569.8 237.8h0M569.9 219.1h0M570.0 234.0h0M570.0 230.9h0M570.1 245.1h0M570.1 231.9h0M570.2 233.6h0M570.3 226.4h0M570.4 230.2h0M570.4 234.0h0M570.6 234.3h0M570.6 227.7h0M570.7 233.3h0M570.7 236.2h0M570.7 220.1h0M570.7 241.7h0M570.8 234.6h0M570.8 227.7h0M570.9 233.9h0M570.9 239.5h0M570.9 235.6h0M571.0 235.7h0M571.1 234.8h0M571.1 240.4h0M571.1 225.7h0M571.2 230.1h0M571.3 237.1h0M571.3 233.6h0M571.4 226.2h0M571.5 230.7h0M571.5 227.9h0M571.5 232.3h0M571.6 221.5h0M571.6 221.7h0M571.7 223.0h0M572.0 232.7h0M572.0 255.4h0M572.0 242.5h0M572.1 244.7h0M572.2 235.0h0M572.2 248.8h0M572.4 238.7h0M572.5 236.7h0M572.6 246.0h0M572.6 228.8h0M572.7 222.4h0M572.7 228.7h0M572.8 248.5h0M572.9 249.9h0M572.9 237.5h0M573.0 234.3h0M573.0 234.6h0M573.1 241.4h0M573.2 229.9h0M573.2 242.0h0M573.3 228.9h0M573.3 246.6h0M573.4 232.8h0M573.4 229.0h0M573.4 233.0h0M573.4 228.8h0M573.5 233.8h0M573.6 222.9h0M573.7 231.4h0M573.7 235.2h0M573.7 237.9h0M573.7 232.1h0M573.7 245.2h0M573.7 223.9h0M573.8 233.4h0M573.8 231.8h0M573.9 235.0h0M574.0 233.6h0M574.0 247.4h0M574.0 235.4h0M574.0 229.5h0M574.1 257.3h0M574.2 236.2h0M574.2 234.9h0M574.2 243.6h0M574.2 232.2h0M574.3 234.7h0M574.3 243.7h0M574.5 229.0h0M574.5 233.7h0M574.5 244.8h0M574.5 252.4h0M574.6 236.3h0M574.6 236.1h0M574.6 246.4h0M574.6 217.5h0M574.6 232.4h0M574.7 231.6h0M574.7 223.5h0M574.7 217.9h0M574.7 233.9h0M574.8 244.3h0M574.8 242.2h0M574.9 247.1h0M574.9 218.5h0M575.0 234.8h0M575.2 246.8h0M575.3 229.2h0M575.3 226.4h0M575.4 237.7h0M575.4 234.6h0M575.4 240.0h0M575.5 234.3h0M575.5 245.1h0M575.6 240.2h0M575.6 236.3h0M575.6 231.6h0M575.7 240.2h0M575.7 229.8h0M575.7 242.5h0M575.7 244.2h0M575.8 242.4h0M575.8 226.0h0M575.8 238.0h0M575.9 237.4h0M575.9 241.8h0M575.9 224.2h0M576.0 230.4h0M576.0 233.8h0M576.0 246.5h0M576.1 230.5h0M576.1 242.1h0M576.1 235.6h0M576.2 251.4h0M576.2 239.4h0M576.3 224.1h0M576.4 232.7h0M576.4 236.7h0M576.5 245.7h0M576.5 240.4h0M576.6 232.8h0M576.6 226.5h0M576.6 234.9h0M576.7 233.8h0M576.7 246.2h0M576.7 242.6h0M576.7 216.2h0M576.9 219.2h0M576.9 231.5h0M576.9 236.5h0M577.2 227.6h0M577.2 230.5h0M577.2 244.2h0M577.3 240.1h0M577.4 222.3h0M577.4 236.4h0M577.5 234.7h0M577.5 231.9h0M577.6 238.1h0M577.6 242.3h0M577.6 255.1h0M577.7 235.4h0M577.8 228.7h0M577.9 230.4h0M577.9 240.0h0M577.9 250.7h0M577.9 239.1h0M577.9 238.4h0M578.1 236.4h0M578.2 231.3h0M578.3 234.9h0M578.3 226.4h0M578.3 240.9h0M578.4 238.6h0M578.4 236.0h0M578.4 228.9h0M578.4 232.8h0M578.4 230.8h0M578.6 237.4h0M578.6 232.9h0M578.7 238.3h0M578.7 243.3h0M578.7 246.4h0M578.7 228.7h0M578.8 233.2h0M578.9 228.8h0M578.9 213.7h0M579.1 230.9h0M579.1 248.5h0M579.2 233.6h0M579.2 245.9h0M579.3 233.8h0M579.3 235.9h0M579.3 238.4h0M579.4 238.8h0M579.4 236.5h0M579.4 243.5h0M579.5 248.4h0M579.5 245.5h0M579.5 234.9h0M579.6 226.2h0M579.6 239.1h0M579.7 219.7h0M579.7 244.0h0M579.8 243.5h0M579.8 230.1h0M579.8 243.0h0M579.9 233.6h0M579.9 249.0h0M579.9 232.8h0M580.0 232.3h0M580.1 233.3h0M580.1 239.6h0M580.1 230.8h0M580.2 257.3h0M580.2 235.0h0M580.2 252.8h0M580.4 235.2h0M580.5 223.5h0M580.5 232.4h0M580.7 231.8h0M580.7 240.5h0M580.8 247.1h0M580.9 237.3h0M581.0 230.2h0M581.1 237.7h0M581.1 230.7h0M581.1 218.5h0M581.1 236.9h0M581.1 224.5h0M581.2 231.6h0M581.2 236.1h0M581.2 233.0h0M581.2 233.9h0M581.2 219.5h0M581.3 243.8h0M581.4 248.5h0M581.5 237.0h0M581.6 236.9h0M581.6 250.5h0M581.6 223.9h0M581.7 237.7h0M581.7 235.9h0M581.7 237.3h0M581.8 239.9h0M581.8 235.7h0M581.9 241.7h0M581.9 229.1h0M582.0 221.0h0M582.1 227.7h0M582.1 243.8h0M582.2 242.9h0M582.2 232.9h0M582.4 230.9h0M582.5 233.9h0M582.5 238.9h0M582.5 224.3h0M582.6 227.5h0M582.6 242.2h0M582.6 232.5h0M582.7 225.6h0M582.8 219.5h0M582.8 230.9h0M582.8 222.4h0M582.8 234.8h0M582.9 233.1h0M582.9 260.7h0M583.0 225.5h0M583.0 239.0h0M583.1 225.7h0M583.2 226.7h0M583.2 231.9h0M583.2 227.8h0M583.4 248.9h0M583.5 232.6h0M583.5 228.1h0M583.6 253.1h0M583.6 215.4h0M583.6 230.5h0M583.7 231.5h0M583.7 227.9h0M583.8 238.3h0M583.8 243.5h0M583.9 224.9h0M583.9 230.1h0M584.0 231.0h0M584.1 224.5h0M584.1 225.0h0M584.1 231.1h0M584.2 227.8h0M584.2 236.2h0M584.3 210.5h0M584.4 235.5h0M584.5 236.4h0M584.6 228.4h0M584.6 230.4h0M584.7 237.5h0M584.7 239.1h0M584.8 233.7h0M584.8 238.9h0M584.8 232.7h0M584.8 226.8h0M584.9 236.9h0M584.9 231.6h0M585.1 223.4h0M585.1 241.5h0M585.2 237.5h0M585.2 240.5h0M585.2 231.3h0M585.2 247.1h0M585.3 238.4h0M585.3 242.7h0M585.4 230.2h0M585.4 232.4h0M585.4 245.4h0M585.6 234.2h0M585.6 220.9h0M585.7 247.3h0M585.7 244.4h0M585.7 236.3h0M585.8 250.9h0M586.0 225.1h0M586.0 234.1h0M586.1 231.0h0M586.1 247.2h0M586.1 248.1h0M586.2 231.5h0M586.2 235.7h0M586.2 248.8h0M586.3 239.0h0M586.4 236.8h0M586.5 243.2h0M586.5 251.4h0M586.5 235.7h0M586.5 227.7h0M586.7 234.1h0M586.9 234.6h0M587.0 232.4h0M587.1 240.8h0M587.1 241.1h0M587.1 242.6h0M587.2 238.9h0M587.2 237.1h0M587.3 228.4h0M587.3 232.8h0M587.3 229.5h0M587.4 237.6h0M587.4 234.2h0M587.5 234.7h0M587.5 239.4h0M587.6 233.1h0M587.6 244.0h0M587.7 243.6h0M587.9 228.3h0M587.9 245.4h0M588.0 231.8h0M588.1 229.2h0M588.2 231.5h0M588.3 225.3h0M588.4 235.8h0M588.4 243.2h0M588.5 223.4h0M588.5 236.4h0M588.5 237.7h0M588.5 238.3h0M588.6 238.0h0M588.6 236.2h0M588.6 229.6h0M588.7 240.1h0M588.7 235.3h0M588.9 244.4h0M588.9 235.0h0M588.9 230.8h0M589.0 232.1h0M589.0 237.5h0M589.2 241.1h0M589.2 220.3h0M589.2 224.3h0M589.2 222.0h0M589.2 228.9h0M589.2 228.1h0M589.3 233.9h0M589.3 230.3h0M589.4 243.5h0M589.4 228.3h0M589.5 227.7h0M589.5 227.0h0M589.6 230.2h0M589.6 233.4h0M589.6 229.0h0M589.9 225.8h0M589.9 223.0h0M589.9 233.0h0M590.0 227.9h0M590.0 225.2h0M590.2 229.3h0M590.2 235.6h0M590.3 248.3h0M590.3 244.7h0M590.3 225.1h0M590.4 227.8h0M590.4 218.3h0M590.5 218.0h0M590.8 218.6h0M590.8 238.0h0M590.9 229.3h0M591.0 221.0h0M591.0 226.0h0M591.1 227.1h0M591.1 226.1h0M591.1 242.9h0M591.1 218.0h0M591.2 227.4h0M591.2 232.3h0M591.3 237.4h0M591.3 216.5h0M591.3 231.8h0M591.5 222.4h0M591.5 226.7h0M591.5 220.3h0M591.6 237.0h0M591.6 257.5h0M591.7 239.1h0M591.7 228.4h0M591.8 218.9h0M591.9 237.6h0M592.0 240.4h0M592.1 222.7h0M592.2 237.9h0M592.2 218.2h0M592.2 221.5h0M592.3 230.8h0M592.3 220.5h0M592.4 236.0h0M592.4 242.0h0M592.5 229.8h0M592.5 233.6h0M592.5 243.4h0M592.5 233.8h0M592.5 240.8h0M592.6 242.0h0M592.6 222.5h0M592.6 248.7h0M592.6 239.7h0M592.7 230.4h0M592.7 236.3h0M592.9 231.3h0M592.9 230.5h0M592.9 221.9h0M593.0 225.7h0M593.0 226.1h0M593.0 237.9h0M593.0 232.4h0M593.0 231.7h0M593.0 227.3h0M593.1 239.3h0M593.1 212.0h0M593.1 222.0h0M593.3 242.6h0M593.3 224.6h0M593.3 233.0h0M593.4 241.3h0M593.4 234.1h0M593.4 217.3h0M593.4 225.4h0M593.5 219.3h0M593.6 230.6h0M593.7 204.2h0M593.7 224.6h0M593.7 230.8h0M593.7 224.9h0M593.9 243.2h0M594.0 227.0h0M594.0 227.8h0M594.0 230.9h0M594.0 235.3h0M594.1 231.9h0M594.1 225.5h0M594.1 226.1h0M594.2 207.3h0M594.2 230.8h0M594.2 223.0h0M594.2 221.7h0M594.2 223.9h0M594.3 229.6h0M594.3 222.5h0M594.3 218.3h0M594.3 222.0h0M594.4 230.7h0M594.4 221.8h0M594.4 222.5h0M594.4 242.0h0M594.5 219.0h0M594.5 235.9h0M594.5 222.5h0M594.6 219.6h0M594.7 230.8h0M594.8 215.7h0M594.8 224.5h0M594.8 230.0h0M594.8 231.7h0M594.9 221.5h0M594.9 221.7h0M594.9 224.4h0M594.9 236.0h0M594.9 213.3h0M595.0 238.5h0M595.0 227.8h0M595.1 237.5h0M595.1 217.8h0M595.2 235.7h0M595.3 219.6h0M595.4 228.0h0M595.5 222.7h0M595.5 209.2h0M595.6 225.0h0M595.7 229.0h0M595.7 233.2h0M595.7 221.2h0M595.7 217.6h0M595.8 199.4h0M595.8 222.9h0M595.9 238.2h0M595.9 223.7h0M595.9 224.1h0M595.9 220.4h0M596.0 211.8h0M596.0 225.1h0M596.0 237.2h0M596.1 234.8h0M596.1 224.9h0M596.2 242.0h0M596.3 221.5h0M596.3 224.8h0M596.4 213.0h0M596.4 222.0h0M596.6 222.9h0M596.6 220.2h0M596.7 222.1h0M596.7 227.5h0M596.7 225.9h0M596.8 218.1h0M596.9 233.7h0M597.1 219.9h0M597.1 229.5h0M597.1 226.0h0M597.1 212.6h0M597.1 218.5h0M597.2 234.2h0M597.3 221.3h0M597.3 221.2h0M597.3 222.7h0M597.4 226.7h0M597.4 231.0h0M597.5 223.8h0M597.5 241.2h0M597.6 222.2h0M597.6 222.9h0M597.7 224.8h0M597.7 227.6h0M597.7 250.2h0M597.7 247.5h0M597.7 223.9h0M597.7 225.0h0M597.8 232.2h0M597.9 225.9h0M598.0 219.9h0M598.0 234.6h0M598.0 212.6h0M598.2 232.1h0M598.2 233.4h0M598.2 249.9h0M598.3 221.6h0M598.3 233.9h0M598.4 233.6h0M598.4 221.7h0M598.5 230.3h0M598.5 222.5h0M598.5 220.5h0M598.6 218.3h0M598.7 226.9h0M598.7 221.5h0M598.7 214.8h0M598.7 233.1h0M598.8 217.1h0M599.0 234.8h0M599.2 231.0h0M599.3 223.6h0M599.4 218.8h0M599.4 223.1h0M599.4 220.4h0M599.5 226.6h0M599.5 226.7h0M599.5 251.0h0M599.5 215.6h0M599.7 225.7h0M599.7 234.6h0M599.8 239.3h0M599.9 242.3h0M600.0 224.9h0M600.1 238.4h0M600.1 213.2h0M600.2 230.3h0M600.2 239.3h0M600.2 238.1h0M600.3 223.2h0M600.4 227.4h0M600.4 219.0h0M600.4 228.1h0M600.4 224.1h0M600.4 235.4h0M600.5 228.3h0M600.6 238.8h0M600.6 233.0h0M600.8 231.4h0M600.8 212.2h0M600.9 243.7h0M601.0 222.5h0M601.0 245.5h0M601.1 240.0h0M601.1 244.9h0M601.2 237.2h0M601.3 221.8h0M601.3 230.8h0M601.4 217.6h0M601.5 224.2h0M601.6 228.6h0M601.6 253.0h0M602.0 233.4h0M602.1 234.9h0M602.2 239.5h0M602.2 227.2h0M602.4 242.7h0M602.4 234.9h0M602.4 226.8h0M602.4 229.3h0M602.4 231.4h0M602.5 238.3h0M602.6 245.5h0M602.6 231.0h0M602.8 231.4h0M602.8 248.6h0M602.8 259.9h0M602.8 248.6h0M602.9 234.5h0M603.0 230.4h0M603.2 238.6h0M603.3 235.2h0M603.3 227.4h0M603.3 244.4h0M603.4 254.7h0M603.4 227.0h0M603.4 227.4h0M603.5 229.1h0M603.6 224.2h0M603.6 239.4h0M603.7 222.9h0M603.7 207.6h0M603.7 235.6h0M603.9 238.4h0M604.0 222.2h0M604.0 233.0h0M604.0 236.0h0M604.1 239.4h0M604.1 234.9h0M604.1 227.8h0M604.1 241.6h0M604.1 243.7h0M604.1 243.5h0M604.2 226.6h0M604.5 235.7h0M604.5 225.1h0M604.5 229.9h0M604.7 237.6h0M604.7 221.7h0M604.7 255.5h0M604.8 250.4h0M604.8 226.0h0M604.9 227.3h0M604.9 230.5h0M605.1 208.9h0M605.1 223.2h0M605.2 230.2h0M605.2 221.1h0M605.3 227.1h0M605.3 247.0h0M605.4 230.7h0M605.4 228.6h0M605.4 245.1h0M605.5 234.0h0M605.6 236.7h0M605.7 227.5h0M605.7 240.9h0M605.7 229.0h0M605.8 238.9h0M605.8 241.4h0M605.9 246.5h0M606.1 240.0h0M606.2 231.1h0M606.3 224.3h0M606.3 229.2h0M606.5 226.7h0M606.6 211.1h0M606.6 228.2h0M606.7 216.1h0M606.7 234.5h0M606.7 238.3h0M606.7 225.1h0M606.8 237.4h0M606.9 222.3h0M606.9 233.1h0M606.9 229.9h0M606.9 233.7h0M606.9 234.7h0M607.0 226.5h0M607.1 238.0h0M607.1 227.5h0M607.1 231.8h0M607.2 253.5h0M607.4 224.5h0M607.5 231.2h0M607.5 244.7h0M607.6 241.6h0M607.7 226.0h0M607.7 226.4h0M607.7 235.4h0M607.7 226.2h0M607.8 231.2h0M607.8 221.7h0M607.9 240.8h0M607.9 220.2h0M607.9 231.9h0M607.9 237.0h0M608.1 226.5h0M608.1 220.6h0M608.1 222.6h0M608.1 218.4h0M608.2 247.0h0M608.4 218.6h0M608.4 222.8h0M608.5 234.2h0M608.5 232.1h0M608.5 240.5h0M608.6 219.7h0M608.6 235.4h0M608.7 231.0h0M608.7 227.7h0M608.7 230.2h0M608.8 239.8h0M608.8 236.8h0M608.8 237.0h0M609.0 220.3h0M609.0 226.3h0M609.0 226.8h0M609.1 227.7h0M609.3 224.2h0M609.3 237.3h0M609.3 240.7h0M609.4 247.5h0M609.4 227.7h0M609.4 230.5h0M609.4 232.0h0M609.5 231.1h0M609.5 225.6h0M609.6 238.3h0M609.6 217.8h0M609.6 227.9h0M609.7 218.4h0M609.7 236.6h0M609.7 221.8h0M609.8 223.2h0M610.0 230.5h0M610.0 223.7h0M610.0 232.7h0M610.1 218.0h0M610.1 248.0h0M610.1 222.3h0M610.2 224.9h0M610.2 235.4h0M610.2 231.3h0M610.2 234.3h0M610.3 228.2h0M610.3 238.6h0M610.4 233.1h0M610.6 241.6h0M610.6 220.8h0M610.7 232.1h0M610.8 228.6h0M610.8 233.7h0M610.8 224.0h0M610.8 237.6h0M610.9 221.5h0M610.9 238.4h0M610.9 235.4h0M611.0 218.7h0M611.0 234.2h0M611.0 217.8h0M611.0 235.8h0M611.1 220.2h0M611.1 230.4h0M611.1 229.2h0M611.2 220.4h0M611.2 219.0h0M611.3 235.8h0M611.3 228.2h0M611.4 241.3h0M611.4 231.3h0M611.5 256.6h0M611.6 233.6h0M611.6 247.9h0M611.6 235.2h0M611.6 232.8h0M611.6 237.0h0M611.6 227.1h0M611.6 211.0h0M611.7 246.8h0M611.8 230.5h0M611.8 224.1h0M611.9 236.3h0M611.9 215.7h0M612.0 232.3h0M612.0 241.8h0M612.0 243.2h0M612.1 247.9h0M612.1 242.0h0M612.2 237.2h0M612.2 236.2h0M612.2 234.0h0M612.3 230.8h0M612.5 251.4h0M612.6 230.2h0M612.6 245.9h0M612.7 230.0h0M612.8 242.1h0M612.9 212.4h0M613.0 232.8h0M613.0 227.3h0M613.1 245.8h0M613.1 245.2h0M613.1 227.4h0M613.1 231.2h0M613.2 247.3h0M613.3 234.9h0M613.4 233.1h0M613.4 241.1h0M613.5 223.7h0M613.5 247.1h0M613.5 236.7h0M613.5 213.4h0M613.5 226.5h0M613.6 232.1h0M613.6 253.3h0M613.7 232.7h0M613.7 222.7h0M613.7 245.2h0M613.7 236.5h0M613.8 232.9h0M613.8 242.4h0M613.9 230.2h0M613.9 232.0h0M614.0 242.0h0M614.1 237.0h0M614.1 241.8h0M614.2 230.3h0M614.2 248.2h0M614.2 223.4h0M614.4 223.7h0M614.4 237.6h0M614.5 230.8h0M614.5 234.9h0M614.6 233.4h0M614.7 231.5h0M614.8 225.4h0M614.8 238.4h0M614.9 244.4h0M615.0 226.5h0M615.0 249.3h0M615.1 246.3h0M615.5 225.6h0M615.5 238.7h0M615.5 223.8h0M615.5 230.2h0M615.6 223.7h0M615.7 227.8h0M615.8 219.3h0M615.8 230.5h0M615.8 224.7h0M615.9 225.9h0M615.9 218.8h0M615.9 232.5h0M616.0 249.4h0M616.0 229.6h0M616.0 231.2h0M616.1 224.8h0M616.1 229.3h0M616.1 226.9h0M616.1 222.2h0M616.2 226.9h0M616.2 229.3h0M616.2 235.9h0M616.3 230.7h0M616.3 235.9h0M616.4 245.1h0M616.4 241.8h0M616.4 230.5h0M616.5 221.9h0M616.6 232.5h0M616.7 234.8h0M616.7 243.1h0M616.9 235.4h0M617.1 259.4h0M617.1 231.9h0M617.2 240.3h0M617.2 228.0h0M617.2 227.4h0M617.3 232.1h0M617.3 236.2h0M617.3 240.5h0M617.5 213.4h0M617.6 244.6h0M617.7 247.9h0M617.7 246.6h0M617.7 242.1h0M617.8 233.3h0M617.8 239.4h0M617.9 245.9h0M617.9 227.7h0M618.1 240.3h0M618.1 238.8h0M618.2 233.0h0M618.2 250.3h0M618.2 229.3h0M618.2 227.4h0M618.4 233.6h0M618.5 229.7h0M618.6 246.0h0M618.6 222.8h0M618.6 225.1h0M618.6 219.5h0M618.6 240.6h0M618.7 225.8h0M619.0 215.8h0M619.1 220.5h0M619.1 242.6h0M619.1 227.3h0M619.1 230.0h0M619.3 249.3h0M619.4 220.1h0M619.4 228.6h0M619.4 235.1h0M619.4 249.9h0M619.5 233.4h0M619.6 227.5h0M619.7 234.6h0M619.7 224.3h0M619.7 209.0h0M619.7 228.7h0M619.8 238.4h0M619.9 229.2h0M619.9 236.9h0M620.0 242.8h0M620.1 246.7h0M620.1 221.2h0M620.1 231.9h0M620.2 224.7h0M620.2 238.2h0M620.2 234.6h0M620.2 232.3h0M620.3 228.7h0M620.6 225.7h0M620.7 220.8h0M620.8 240.7h0M620.8 230.5h0M620.9 232.2h0M620.9 234.8h0M621.0 239.0h0M621.0 248.8h0M621.2 230.4h0M621.2 237.6h0M621.2 220.7h0M621.6 228.7h0M621.6 226.6h0M621.6 227.1h0M621.7 241.8h0M621.8 232.5h0M621.8 232.1h0M621.9 232.2h0M621.9 230.0h0M622.0 230.0h0M622.0 227.3h0M622.1 228.0h0M622.1 215.4h0M622.2 230.4h0M622.2 219.3h0M622.4 232.5h0M622.5 231.6h0M622.6 235.8h0M622.6 224.5h0M622.7 225.7h0M622.7 245.1h0M622.8 227.0h0M622.9 236.0h0M622.9 227.2h0M623.0 223.6h0M623.0 221.9h0M623.0 227.5h0M623.2 228.2h0M623.3 223.2h0M623.3 244.0h0M623.3 231.5h0M623.3 244.7h0M623.3 238.7h0M623.4 226.1h0M623.4 224.4h0M623.4 229.9h0M623.6 237.5h0M623.6 221.7h0M623.6 241.3h0M623.7 228.5h0M623.7 238.7h0M623.9 230.3h0M623.9 214.7h0M623.9 237.1h0M623.9 243.0h0M623.9 226.6h0M624.1 248.6h0M624.2 223.2h0M624.2 234.5h0M624.2 237.8h0M624.2 232.0h0M624.4 240.0h0M624.4 221.3h0M624.4 231.7h0M624.5 241.1h0M624.6 232.4h0M624.6 224.9h0M624.6 233.7h0M624.6 234.0h0M624.7 225.7h0M624.7 244.2h0M624.9 228.6h0M115.6 141.9h0M115.6 150.0h0M532.8 135.4h0M533.0 146.7h0M532.0 165.2h0M532.0 170.9h0M545.0 186.0h0M545.0 191.5h0M545.0 195.7h0M554.8 203.5h0M528.0 200.0h0M524.0 202.8h0M73.0 197.0h0M73.0 201.0h0M115.5 197.0h0M115.5 201.0h0M115.5 205.0h0M214.8 193.0h0M214.8 197.0h0M214.8 200.0h0M235.0 193.0h0M235.0 197.0h0M235.5 201.0h0M84.0 196.5h0M98.0 192.0h0" stroke="#4d4d4d" stroke-width="2.5" stroke-linecap="round" fill="none"/>
<path d="M63.7 235.1h0M64.2 232.7h0M64.3 229.5h0M64.6 211.6h0M64.7 218.3h0M64.9 227.9h0M65.0 212.4h0M86.3 211.0h0M86.3 207.0h0M86.3 208.2h0M86.4 191.9h0M86.5 199.4h0M86.6 221.5h0M86.9 227.4h0M86.9 206.3h0M87.7 229.3h0M87.2 212.1h0M87.7 220.9h0M87.3 208.1h0M87.5 206.2h0M87.5 220.0h0M87.8 212.0h0M87.9 211.5h0M87.7 207.5h0M88.2 208.6h0M88.4 220.6h0M88.2 213.4h0M88.5 220.4h0M88.2 201.5h0M88.5 224.2h0M88.7 227.0h0M89.0 225.9h0M88.9 209.9h0M88.9 224.8h0M88.9 219.2h0M89.1 207.0h0M89.1 201.5h0M89.2 205.7h0M89.5 209.0h0M89.5 210.8h0M89.6 221.4h0M91.8 201.0h0M91.6 215.3h0M91.7 213.1h0M91.9 210.7h0M91.7 191.3h0M92.0 208.3h0M92.1 206.5h0M92.7 219.3h0M92.7 197.6h0M92.2 205.7h0M92.6 204.5h0M93.4 220.9h0M93.1 198.8h0M93.2 210.6h0M93.9 208.6h0M93.9 198.3h0M93.6 200.5h0M94.4 203.3h0M94.5 194.0h0M94.6 198.9h0M94.7 196.4h0M94.8 196.5h0M94.9 216.9h0M95.0 218.9h0M95.0 210.3h0M95.2 208.4h0M95.6 219.7h0M95.7 210.9h0M95.7 213.5h0M95.8 217.3h0M95.8 231.5h0M95.8 231.1h0M95.8 223.9h0M95.9 245.4h0M96.0 223.3h0M151.6 226.6h0M151.6 233.1h0M151.7 227.1h0M151.8 236.2h0M151.8 229.5h0M152.1 211.6h0M152.1 208.8h0M152.1 247.3h0M152.1 237.3h0M152.1 216.5h0M152.2 226.3h0M152.4 222.9h0M152.5 212.7h0M152.5 218.2h0M152.6 219.4h0M152.8 217.0h0M152.8 221.1h0M152.9 211.9h0M152.9 227.1h0M153.0 226.9h0M153.0 222.5h0M153.1 216.9h0M153.1 218.2h0M153.2 215.2h0M153.3 229.0h0M153.2 222.3h0M153.3 237.5h0M153.4 214.7h0M153.6 208.2h0M153.4 213.4h0M153.5 215.1h0M153.4 211.1h0M153.7 220.3h0M153.7 214.4h0M153.7 221.2h0M153.7 242.8h0M153.7 223.8h0M153.7 213.8h0M153.8 211.3h0M154.2 217.5h0M153.8 218.9h0M154.0 221.8h0M153.9 222.3h0M154.0 210.1h0M154.2 217.9h0M154.0 226.1h0M153.9 210.8h0M154.1 216.8h0M154.0 210.0h0M154.3 214.6h0M154.2 231.1h0M154.2 214.2h0M154.3 207.6h0M154.5 215.4h0M154.2 214.0h0M154.4 223.2h0M154.4 204.5h0M154.6 206.5h0M154.9 203.1h0M154.5 222.1h0M155.1 199.4h0M154.9 203.5h0M154.8 200.4h0M155.1 204.1h0M155.2 216.2h0M155.1 213.4h0M155.0 216.3h0M155.2 194.3h0M155.7 195.7h0M155.6 208.2h0M154.6 195.3h0M155.3 201.6h0M155.6 202.1h0M155.5 201.3h0M155.9 209.4h0M155.5 223.5h0M155.7 209.9h0M155.6 216.5h0M156.4 211.4h0M156.0 212.9h0M155.7 224.9h0M156.0 196.5h0M156.3 206.7h0M156.2 200.0h0M156.9 204.8h0M156.1 197.2h0M156.9 211.1h0M157.2 209.7h0M156.9 194.0h0M156.6 196.3h0M156.8 227.9h0M157.5 196.1h0M156.7 209.9h0M157.9 207.4h0M156.9 222.8h0M156.5 197.5h0M157.2 204.0h0M156.6 194.8h0M157.2 190.8h0M158.3 189.7h0M156.8 211.0h0M156.9 196.4h0M157.5 192.0h0M157.4 188.8h0M157.3 202.3h0M157.2 181.8h0M158.5 193.3h0M159.2 184.3h0M158.4 191.3h0M158.5 203.1h0M159.3 196.5h0M160.0 187.3h0M159.9 195.0h0M159.1 202.0h0M159.1 193.3h0M157.9 181.8h0M158.0 186.2h0M159.3 193.6h0M159.5 189.7h0M158.8 207.5h0M158.5 194.9h0M159.6 204.0h0M159.9 179.7h0M159.3 181.5h0M159.9 192.4h0M158.5 183.7h0M160.4 185.0h0M158.9 177.9h0M160.6 204.7h0M159.7 171.4h0M160.6 176.2h0M160.1 179.7h0M160.0 188.8h0M159.6 178.6h0M160.7 171.4h0M160.2 190.4h0M160.3 176.8h0M158.5 194.9h0M160.0 181.8h0M160.0 189.0h0M159.4 189.6h0M160.1 174.0h0M159.2 169.0h0M159.2 173.9h0M160.8 174.7h0M161.1 187.8h0M161.6 173.6h0M161.8 176.8h0M162.0 176.5h0M161.7 195.6h0M161.8 180.8h0M161.1 199.1h0M161.5 198.6h0M162.5 182.8h0M161.5 212.0h0M161.7 176.0h0M162.0 197.1h0M162.5 185.8h0M162.4 196.0h0M161.8 181.5h0M162.8 205.3h0M162.2 209.3h0M161.7 215.5h0M162.7 177.7h0M163.1 200.1h0M162.5 197.4h0M163.2 178.4h0M163.1 190.0h0M162.7 193.2h0M162.6 189.3h0M163.1 196.2h0M163.0 198.2h0M163.1 191.3h0M163.7 204.6h0M163.1 205.6h0M163.2 186.1h0M164.9 207.1h0M163.5 188.9h0M163.8 191.3h0M163.7 207.1h0M162.7 194.0h0M163.5 200.0h0M164.2 202.6h0M164.5 200.2h0M163.8 189.1h0M164.4 186.9h0M163.2 200.8h0M163.7 201.7h0M164.3 196.4h0M163.8 190.4h0M163.9 202.4h0M163.6 191.0h0M165.0 183.8h0M164.3 194.6h0M164.8 200.6h0M163.9 185.4h0M163.6 194.5h0M164.2 187.4h0M165.1 189.1h0M163.7 195.7h0M165.5 195.7h0M164.6 225.5h0M164.9 193.7h0M165.1 192.7h0M165.6 210.5h0M165.3 191.7h0M165.1 192.7h0M165.0 199.0h0M165.7 200.9h0M165.5 189.0h0M165.1 200.2h0M165.7 195.1h0M165.4 197.1h0M166.4 199.9h0M165.2 196.9h0M165.4 211.9h0M165.7 204.9h0M165.1 197.6h0M165.3 200.5h0M165.2 212.2h0M165.4 209.6h0M165.6 215.5h0M166.8 199.1h0M166.4 202.1h0M165.4 226.3h0M165.8 203.6h0M166.6 224.5h0M166.1 216.0h0M166.6 205.7h0M166.5 201.2h0M167.1 217.4h0M167.1 206.6h0M167.0 206.6h0M166.8 202.2h0M166.9 224.3h0M166.9 212.6h0M166.9 211.9h0M166.5 216.2h0M166.8 214.9h0M166.7 213.9h0M167.2 220.0h0M167.3 212.9h0M167.2 222.9h0M167.4 219.8h0M167.3 216.0h0M167.4 232.2h0M167.4 209.5h0M167.4 203.0h0M167.5 231.5h0M167.6 220.9h0M167.7 210.3h0M167.8 215.8h0M167.8 224.4h0M167.8 212.6h0M167.9 224.4h0M167.9 239.6h0M167.9 232.5h0M168.0 219.1h0M168.1 223.0h0M168.1 215.6h0M168.2 221.7h0M168.3 218.9h0M168.5 217.6h0M168.6 216.6h0M168.6 241.2h0M168.8 224.1h0M168.9 218.6h0M168.9 221.2h0M169.1 238.0h0M169.1 239.3h0M169.1 220.9h0M169.1 228.2h0M169.1 232.6h0M169.2 222.2h0M169.2 219.0h0M169.3 220.0h0M169.3 224.6h0M169.4 221.0h0M169.4 219.0h0M169.5 223.5h0M169.6 234.1h0M169.7 232.0h0M169.8 224.2h0M169.8 243.6h0M170.0 222.3h0M170.0 225.4h0M170.0 220.0h0M170.1 233.5h0M170.1 225.3h0M170.2 219.0h0M170.2 222.5h0M170.3 243.3h0M170.4 233.5h0M170.5 228.1h0M170.6 235.1h0M170.6 220.1h0M170.7 223.2h0M170.7 221.2h0M170.8 223.1h0M170.9 224.8h0M171.0 231.7h0M190.5 229.7h0M190.7 233.1h0M190.7 219.8h0M190.8 226.8h0M190.8 234.0h0M190.9 213.5h0M191.3 205.9h0M191.3 208.6h0M191.4 228.4h0M191.4 226.1h0M191.5 211.4h0M191.5 215.9h0M191.6 218.0h0M191.7 222.6h0M191.9 198.3h0M192.2 208.7h0M192.1 216.0h0M192.1 211.1h0M192.0 208.0h0M192.1 191.2h0M192.5 241.4h0M192.2 218.1h0M192.3 218.7h0M192.5 203.8h0M192.1 182.4h0M192.2 230.1h0M192.8 227.4h0M192.8 208.3h0M192.9 192.3h0M192.3 208.8h0M192.9 204.4h0M192.6 215.7h0M193.2 196.1h0M192.9 204.1h0M193.1 206.2h0M193.2 199.5h0M193.5 214.7h0M193.8 192.6h0M192.9 191.6h0M193.3 198.3h0M193.1 210.2h0M193.8 195.9h0M193.5 209.9h0M193.8 197.9h0M194.0 204.1h0M193.9 210.2h0M194.2 208.3h0M195.0 202.8h0M194.6 205.3h0M194.3 205.9h0M194.7 213.5h0M194.5 213.6h0M194.4 203.9h0M194.4 209.4h0M195.0 214.6h0M194.8 223.0h0M194.7 214.9h0M194.6 232.5h0M194.5 221.0h0M195.2 211.7h0M194.9 207.1h0M195.1 215.3h0M195.2 219.7h0M195.2 218.2h0M195.2 216.8h0M195.2 213.2h0M195.3 210.1h0M195.4 214.4h0M195.3 221.2h0M195.5 226.3h0M195.5 195.1h0M195.5 223.7h0M195.6 228.3h0M195.6 230.3h0M195.6 221.9h0M195.6 224.8h0M195.7 215.5h0M195.8 218.1h0M195.8 223.7h0M195.8 211.3h0M195.8 213.4h0M195.8 220.7h0M195.8 209.8h0M195.9 219.4h0M195.9 208.9h0M196.2 221.5h0M196.3 220.4h0M196.5 216.7h0M196.5 214.3h0M196.5 217.2h0M196.5 206.4h0M196.6 218.2h0M196.7 222.4h0M196.8 219.1h0M196.9 221.9h0M196.9 235.7h0M197.0 239.1h0M197.0 220.5h0M197.1 233.7h0M197.3 236.7h0M197.3 214.5h0M197.4 220.1h0M197.4 220.4h0M197.4 235.9h0M197.4 247.5h0M197.5 226.0h0M197.5 241.2h0M256.5 214.4h0M256.5 205.4h0M256.7 221.2h0M256.6 187.6h0M256.8 214.2h0M256.6 222.1h0M256.9 203.1h0M256.8 202.4h0M256.9 205.3h0M257.1 205.8h0M256.9 189.4h0M257.0 206.8h0M256.9 208.6h0M257.3 221.3h0M256.9 187.0h0M257.3 207.6h0M257.5 223.5h0M257.1 224.2h0M257.5 202.2h0M257.5 198.9h0M257.5 209.0h0M257.4 194.2h0M258.7 199.3h0M257.9 188.3h0M258.0 202.6h0M257.5 219.7h0M257.5 204.4h0M257.7 194.5h0M257.9 198.9h0M258.7 188.5h0M258.0 198.3h0M258.3 195.4h0M258.5 202.2h0M260.2 207.2h0M258.1 178.6h0M258.2 198.4h0M259.7 203.1h0M258.8 185.8h0M259.2 201.6h0M258.0 200.8h0M258.6 191.0h0M257.7 199.9h0M260.1 176.8h0M260.5 167.1h0M258.8 191.9h0M258.6 177.5h0M259.5 194.0h0M259.3 191.2h0M260.6 192.5h0M257.5 186.4h0M259.4 187.5h0M258.8 180.7h0M259.3 180.9h0M259.8 195.5h0M259.9 170.9h0M259.1 168.6h0M257.4 172.8h0M259.2 194.4h0M258.7 176.5h0M261.7 149.1h0M259.8 171.6h0M259.6 173.1h0M260.5 181.2h0M261.8 196.3h0M260.3 174.8h0M261.6 190.9h0M259.1 201.5h0M260.9 189.5h0M260.8 186.7h0M261.7 179.2h0M262.7 188.7h0M262.1 186.6h0M261.8 184.2h0M262.1 176.5h0M261.8 191.2h0M262.7 181.7h0M261.5 189.8h0M262.4 192.3h0M261.8 199.7h0M262.1 193.1h0M261.5 198.6h0M261.7 178.0h0M260.7 197.6h0M261.8 196.9h0M261.8 188.5h0M261.8 193.1h0M261.2 171.5h0M261.4 196.2h0M261.5 201.8h0M262.5 199.6h0M262.6 194.7h0M262.3 203.5h0M261.5 198.9h0M261.8 195.6h0M262.1 204.7h0M262.0 208.9h0M262.6 180.9h0M262.9 200.0h0M262.6 194.9h0M262.7 216.5h0M262.3 192.1h0M263.1 191.4h0M262.7 210.5h0M263.0 195.4h0M262.9 197.9h0M262.4 184.2h0M264.3 199.1h0M263.4 213.8h0M263.2 196.3h0M262.7 199.1h0M263.3 210.6h0M263.7 217.1h0M263.3 207.3h0M263.5 213.9h0M262.8 192.6h0M263.9 185.7h0M263.6 225.6h0M263.9 201.1h0M264.4 197.7h0M264.4 192.4h0M263.7 190.2h0M264.2 175.3h0M263.6 225.0h0M263.6 197.5h0M263.5 198.6h0M264.2 186.2h0M264.8 197.3h0M264.6 202.2h0M263.9 196.6h0M264.9 204.8h0M264.7 190.2h0M265.9 207.4h0M265.1 203.1h0M265.1 200.6h0M265.3 194.8h0M264.7 201.0h0M264.0 189.5h0M265.0 184.5h0M265.1 202.4h0M264.0 178.6h0M264.7 187.0h0M265.5 201.7h0M265.0 203.4h0M264.8 187.9h0M265.3 191.2h0M265.0 197.2h0M265.5 188.1h0M266.1 181.8h0M266.0 194.3h0M265.9 190.6h0M265.4 192.1h0M266.2 183.8h0M266.4 189.9h0M266.2 213.3h0M267.1 180.7h0M265.8 179.6h0M266.6 191.3h0M266.7 174.7h0M264.9 195.9h0M265.9 178.4h0M266.8 176.5h0M265.8 170.5h0M266.7 173.0h0M267.6 179.0h0M266.4 176.3h0M267.4 193.9h0M267.3 204.4h0M266.3 162.7h0M266.4 174.6h0M266.2 175.9h0M266.5 183.8h0M266.9 199.8h0M266.3 196.4h0M268.4 176.9h0M268.5 175.4h0M268.0 176.8h0M268.3 160.9h0M270.1 174.2h0M267.9 191.5h0M267.2 188.3h0M266.5 175.4h0M267.0 170.9h0M267.4 180.8h0M266.3 165.8h0M266.2 188.8h0M267.1 172.7h0M267.1 183.0h0M268.2 187.4h0M268.7 154.4h0M269.0 170.6h0M266.6 194.7h0M267.1 176.3h0M268.6 164.6h0M267.3 173.1h0M268.2 184.5h0M271.7 187.7h0M269.0 190.1h0M268.2 179.3h0M269.2 152.6h0M269.5 164.9h0M268.1 164.1h0M269.4 175.3h0M269.9 170.2h0M269.2 184.2h0M268.6 170.6h0M269.7 164.1h0M268.8 151.7h0M271.0 171.9h0M268.6 174.7h0M269.0 161.8h0M269.3 168.1h0M270.1 190.2h0M269.3 153.5h0M271.2 191.3h0M269.9 129.1h0M267.6 149.8h0M269.2 190.0h0M271.6 147.5h0M268.9 145.7h0M269.6 170.1h0M270.3 149.2h0M268.0 194.9h0M269.7 152.8h0M271.8 182.0h0M272.7 146.5h0M273.0 147.2h0M269.6 159.4h0M271.5 147.5h0M270.6 135.9h0M272.0 161.4h0M269.9 152.8h0M269.4 156.3h0M271.3 173.8h0M272.0 166.2h0M272.9 167.8h0M271.6 182.8h0M271.1 161.6h0M271.9 175.7h0M272.4 171.9h0M272.9 158.2h0M272.6 148.5h0M274.1 151.1h0M272.7 154.8h0M272.0 163.4h0M272.5 161.9h0M271.9 176.6h0M271.6 186.8h0M271.6 160.4h0M272.2 177.3h0M272.3 157.4h0M271.9 168.7h0M273.2 173.7h0M272.3 150.6h0M273.1 159.9h0M272.6 169.4h0M273.1 160.9h0M271.2 164.3h0M272.2 178.4h0M272.7 174.2h0M273.1 184.8h0M272.5 167.3h0M275.3 164.4h0M274.7 161.6h0M273.3 178.3h0M272.1 189.9h0M273.9 173.5h0M273.7 160.9h0M276.2 169.1h0M274.9 199.2h0M274.7 173.6h0M277.2 177.1h0M273.7 167.2h0M274.7 206.8h0M276.5 171.6h0M275.0 172.5h0M275.3 197.7h0M277.4 190.1h0M274.8 208.3h0M274.8 179.0h0M274.9 174.0h0M275.6 175.1h0M275.0 174.8h0M274.4 169.0h0M275.4 173.4h0M275.8 176.2h0M274.5 181.0h0M274.2 198.6h0M276.2 195.5h0M275.5 189.4h0M276.1 218.0h0M276.1 177.7h0M276.8 178.1h0M277.0 181.5h0M276.8 177.7h0M276.1 186.6h0M276.4 185.4h0M276.1 180.4h0M276.4 208.5h0M276.2 197.6h0M276.1 215.5h0M276.7 193.7h0M277.5 192.1h0M276.8 194.9h0M276.1 192.7h0M277.5 193.9h0M277.5 194.5h0M277.5 205.9h0M277.1 181.6h0M277.0 194.9h0M278.0 204.7h0M278.2 204.7h0M277.7 215.4h0M277.9 196.4h0M278.0 195.3h0M278.1 212.5h0M277.6 203.2h0M278.0 196.2h0M278.0 199.0h0M278.4 204.8h0M278.4 199.7h0M277.9 199.8h0M278.5 200.1h0M278.0 190.3h0M278.2 222.8h0M277.8 220.6h0M278.6 202.2h0M278.8 204.7h0M278.8 209.9h0M279.1 212.8h0M278.9 189.0h0M278.7 207.5h0M278.9 195.7h0M278.9 203.3h0M278.8 198.7h0M279.0 223.3h0M279.2 210.2h0M279.5 203.9h0M279.2 220.0h0M279.1 199.0h0M279.0 203.3h0M278.9 202.0h0M279.1 205.4h0M279.5 214.4h0M279.6 204.1h0M279.3 204.5h0M279.0 216.4h0M279.4 208.4h0M279.4 215.9h0M279.4 208.1h0M279.7 195.3h0M279.9 196.9h0M280.0 193.0h0M279.8 218.7h0M280.2 210.6h0M279.6 202.3h0M279.6 198.3h0M279.4 205.3h0M279.8 209.9h0M280.0 199.8h0M279.8 197.9h0M279.9 224.3h0M279.4 199.4h0M280.5 206.7h0M280.0 222.0h0M280.2 193.0h0M280.6 215.2h0M280.3 208.3h0M280.7 206.7h0M280.5 198.8h0M280.9 228.8h0M280.7 205.8h0M281.1 218.0h0M281.1 220.4h0M281.3 211.4h0M281.1 213.3h0M281.0 216.1h0M281.0 225.6h0M281.5 190.5h0M281.4 206.1h0M281.1 205.1h0M281.2 209.3h0M281.0 212.7h0M281.1 214.2h0M281.0 229.6h0M280.9 217.5h0M281.0 209.1h0M281.1 230.1h0M281.3 212.1h0M281.7 212.4h0M281.5 213.9h0M281.4 206.0h0M281.7 200.2h0M281.6 210.0h0M281.3 206.2h0M281.9 202.0h0M281.7 209.9h0M281.7 207.1h0M281.7 204.1h0M281.7 195.2h0M282.0 227.7h0M281.7 218.3h0M282.2 220.4h0M282.1 208.6h0M281.8 220.1h0M282.2 203.7h0M282.1 205.3h0M282.5 214.4h0M282.1 198.0h0M282.7 210.0h0M282.3 212.1h0M282.6 227.1h0M282.8 203.6h0M283.0 213.4h0M282.7 204.1h0M282.7 204.9h0M283.0 202.0h0M282.9 221.6h0M283.0 214.8h0M283.4 210.9h0M283.2 242.0h0M283.0 215.2h0M283.3 200.0h0M283.1 207.9h0M283.1 226.8h0M282.9 202.8h0M283.2 220.2h0M283.5 203.6h0M283.5 210.7h0M283.1 194.7h0M283.4 211.2h0M283.5 193.5h0M283.6 207.3h0M283.6 228.7h0M283.9 214.5h0M283.3 210.6h0M283.9 211.6h0M284.0 233.2h0M284.3 220.9h0M283.9 206.4h0M283.9 206.3h0M284.4 201.4h0M284.7 207.9h0M284.5 219.8h0M284.8 207.7h0M284.5 204.4h0M285.2 186.3h0M285.3 203.2h0M285.3 213.7h0M284.9 214.8h0M285.1 184.2h0M285.1 189.3h0M285.3 209.2h0M284.9 199.5h0M285.2 203.7h0M285.5 213.6h0M285.3 192.7h0M285.5 202.2h0M285.4 216.9h0M285.1 208.8h0M285.4 200.2h0M285.7 211.4h0M285.8 211.9h0M285.5 213.8h0M285.7 213.6h0M285.9 205.1h0M286.0 216.6h0M286.0 197.0h0M286.2 221.5h0M286.8 204.6h0M286.3 198.8h0M285.7 219.2h0M286.1 203.4h0M286.8 201.0h0M286.6 199.9h0M286.8 216.9h0M286.4 231.0h0M286.6 221.1h0M286.1 211.8h0M286.7 214.1h0M286.5 202.1h0M287.2 200.5h0M286.9 194.7h0M286.3 220.3h0M286.2 200.8h0M286.7 197.6h0M287.4 205.1h0M286.7 198.4h0M287.0 202.7h0M288.0 203.4h0M287.7 216.6h0M287.9 189.9h0M288.0 203.3h0M288.2 193.9h0M288.2 195.9h0M289.1 218.1h0M287.6 206.1h0M288.0 194.3h0M288.0 196.4h0M288.5 209.8h0M288.1 191.9h0M288.5 194.4h0M287.9 187.8h0M289.2 204.9h0M289.0 195.5h0M288.9 201.3h0M289.6 199.1h0M289.0 169.8h0M291.1 182.3h0M289.8 178.2h0M289.9 197.7h0M289.8 198.7h0M288.8 185.1h0M289.8 182.4h0M289.8 195.0h0M288.7 197.7h0M291.3 199.0h0M290.0 197.0h0M289.1 180.1h0M288.9 176.5h0M289.7 193.9h0M289.1 196.3h0M289.6 179.6h0M290.8 178.9h0M289.8 185.9h0M290.3 199.1h0M289.5 185.4h0M291.2 183.6h0M290.9 172.9h0M290.3 184.8h0M289.7 185.5h0M291.0 168.9h0M290.7 201.8h0M290.8 168.8h0M291.6 190.1h0M290.7 179.0h0M290.4 169.1h0M292.0 172.6h0M292.7 187.9h0M290.5 185.1h0M290.2 177.0h0M290.9 177.8h0M290.1 172.7h0M291.8 179.3h0M290.9 179.8h0M292.6 159.4h0M290.5 153.9h0M293.5 173.8h0M294.0 164.6h0M290.4 182.2h0M293.6 154.2h0M291.8 172.7h0M291.8 174.6h0M291.8 184.2h0M292.4 188.3h0M295.0 176.6h0M291.9 166.5h0M291.3 147.4h0M294.5 172.4h0M292.6 165.2h0M291.4 186.3h0M293.5 173.0h0M292.8 185.8h0M293.2 164.3h0M293.4 156.0h0M292.9 160.9h0M292.8 155.2h0M292.5 174.9h0M292.5 148.8h0M295.7 159.7h0M294.9 161.9h0M293.2 160.5h0M295.3 152.1h0M293.2 158.7h0M292.5 158.8h0M294.0 149.4h0M294.6 182.4h0M293.4 150.7h0M292.8 168.9h0M295.4 158.2h0M292.9 153.5h0M295.7 168.0h0M294.2 144.4h0M294.9 157.4h0M295.4 154.2h0M291.9 136.2h0M295.5 130.9h0M296.1 193.3h0M294.0 180.3h0M297.3 128.2h0M295.9 160.1h0M299.0 160.0h0M296.9 137.4h0M295.5 163.6h0M294.9 124.2h0M296.1 178.5h0M295.8 142.5h0M297.9 128.0h0M298.6 134.1h0M297.6 142.9h0M296.1 170.6h0M294.1 127.5h0M296.8 161.2h0M296.5 149.7h0M297.5 123.8h0M296.7 154.9h0M299.0 145.3h0M298.7 135.4h0M300.0 144.2h0M297.9 164.6h0M297.8 124.9h0M296.1 129.6h0M298.4 123.8h0M301.0 122.9h0M298.0 154.0h0M299.5 145.4h0M298.3 122.3h0M298.5 120.0h0M299.2 110.7h0M297.9 106.3h0M300.0 105.8h0M300.9 119.1h0M297.4 109.6h0M302.7 97.5h0M298.3 125.6h0M298.1 114.2h0M299.0 114.5h0M298.7 132.9h0M302.2 119.7h0M300.7 145.0h0M301.1 97.3h0M298.4 118.9h0M299.7 130.8h0M300.4 129.7h0M303.0 104.6h0M300.5 120.2h0M301.1 139.8h0M301.3 128.0h0M298.8 159.3h0M303.5 110.4h0M302.0 142.0h0M301.9 118.4h0M304.7 176.0h0M301.6 136.1h0M300.0 134.3h0M300.0 128.0h0M301.7 114.8h0M304.1 151.8h0M302.2 131.8h0M304.9 149.1h0M303.8 139.3h0M302.5 172.4h0M303.5 169.3h0M301.9 183.0h0M304.1 155.5h0M304.8 145.1h0M300.8 156.3h0M301.7 145.0h0M304.4 192.8h0M302.6 151.8h0M308.0 149.6h0M303.7 156.2h0M303.4 149.7h0M305.7 180.1h0M303.8 161.4h0M304.1 177.5h0M306.0 156.9h0M303.7 163.8h0M304.9 150.2h0M303.1 151.5h0M303.7 157.5h0M307.8 204.2h0M305.9 184.8h0M305.2 162.6h0M305.1 193.8h0M303.1 188.8h0M305.6 181.3h0M305.6 190.3h0M304.6 167.2h0M306.4 160.4h0M304.1 177.9h0M304.7 158.3h0M306.5 166.5h0M305.6 178.8h0M306.8 179.8h0M306.4 201.6h0M308.4 166.4h0M308.0 169.8h0M306.7 167.9h0M306.8 172.1h0M308.0 172.5h0M308.1 175.3h0M306.8 173.0h0M308.3 182.4h0M308.5 178.5h0M307.1 185.9h0M307.5 177.3h0M309.7 175.5h0M307.2 175.6h0M308.1 211.4h0M307.6 204.2h0M308.2 186.3h0M308.1 196.5h0M308.7 190.3h0M307.9 181.6h0M309.1 195.4h0M308.1 204.9h0M309.3 172.4h0M309.1 199.5h0M307.7 191.3h0M308.7 185.4h0M309.3 185.8h0M308.9 178.2h0M309.3 185.2h0M309.7 200.4h0M309.7 177.4h0M308.4 170.3h0M309.5 196.0h0M309.4 190.6h0M309.6 181.4h0M308.3 183.8h0M309.0 203.2h0M309.6 194.5h0M310.1 188.6h0M310.5 205.1h0M310.6 193.7h0M309.8 192.4h0M309.7 205.0h0M308.8 198.0h0M310.4 192.8h0M310.7 191.9h0M310.1 195.7h0M310.0 190.6h0M309.8 171.6h0M311.3 192.6h0M311.1 191.5h0M309.6 208.5h0M310.5 199.3h0M310.6 208.2h0M310.7 215.5h0M311.1 193.8h0M310.6 188.0h0M311.0 204.9h0M310.6 190.2h0M311.8 193.2h0M310.7 212.9h0M310.4 202.4h0M311.1 208.9h0M310.7 196.7h0M310.9 209.7h0M311.0 185.9h0M311.1 198.8h0M311.1 201.5h0M311.2 178.5h0M311.6 216.3h0M311.3 192.1h0M311.6 218.2h0M311.7 184.3h0M311.0 204.4h0M311.4 195.6h0M312.0 199.8h0M311.8 192.5h0M311.4 215.3h0M312.3 190.0h0M312.4 205.4h0M312.1 198.3h0M312.6 196.8h0M312.3 196.8h0M312.3 211.0h0M312.6 204.3h0M312.2 198.3h0M312.8 190.1h0M312.5 200.8h0M312.8 205.1h0M312.1 198.6h0M312.5 215.7h0M312.4 183.4h0M312.2 228.0h0M313.3 197.3h0M312.7 189.5h0M313.0 184.6h0M312.7 205.4h0M313.6 198.2h0M313.2 195.2h0M312.4 212.0h0M313.4 205.8h0M313.4 197.5h0M313.5 185.2h0M313.3 214.4h0M313.0 194.6h0M313.1 213.3h0M313.2 204.0h0M313.9 182.0h0M314.1 184.9h0M313.7 189.5h0M313.8 198.6h0M313.8 230.2h0M314.3 234.8h0M314.4 200.1h0M314.2 209.8h0M313.9 210.9h0M314.2 199.7h0M313.8 189.0h0M313.8 213.4h0M314.2 199.6h0M314.4 206.4h0M314.1 209.5h0M314.4 195.3h0M314.6 221.7h0M314.5 205.3h0M314.5 199.7h0M314.7 211.5h0M314.9 215.2h0M314.5 199.2h0M314.8 210.5h0M314.9 200.7h0M314.7 194.9h0M315.3 202.4h0M314.8 212.1h0M314.9 217.7h0M315.0 200.3h0M315.7 203.3h0M315.1 206.7h0M315.2 213.3h0M315.7 205.3h0M315.2 198.8h0M315.7 194.3h0M316.0 219.8h0M315.6 218.5h0M315.7 201.1h0M315.9 223.1h0M316.1 211.0h0M316.1 220.0h0M316.5 199.4h0M316.8 191.7h0M316.3 208.9h0M316.7 210.3h0M316.5 214.7h0M317.1 211.6h0M316.7 205.8h0M317.2 217.7h0M317.3 196.2h0M316.6 210.2h0M317.2 203.2h0M317.4 223.9h0M316.8 209.2h0M317.1 219.5h0M317.0 214.3h0M316.9 202.1h0M317.2 225.4h0M317.1 203.5h0M318.0 202.2h0M317.9 202.0h0M318.1 201.3h0M317.9 199.7h0M317.8 209.7h0M318.9 202.4h0M318.2 190.4h0M318.5 196.2h0M319.5 193.4h0M319.2 201.6h0M318.7 194.9h0M319.1 187.9h0M319.2 202.9h0M319.6 238.9h0M319.7 207.9h0M319.6 201.5h0M319.1 214.8h0M319.7 221.6h0M320.0 203.5h0M319.7 218.6h0M319.5 196.0h0M320.6 207.2h0M319.5 194.5h0M319.4 207.0h0M320.0 199.7h0M319.9 207.5h0M320.2 195.6h0M320.0 207.3h0M320.8 206.0h0M320.7 198.1h0M320.2 195.0h0M320.5 209.4h0M320.6 203.6h0M321.1 206.6h0M321.2 219.5h0M320.4 202.3h0M320.7 208.3h0M321.3 214.5h0M320.8 211.1h0M321.2 209.6h0M321.3 188.7h0M321.0 204.7h0M321.5 202.4h0M321.5 212.3h0M321.3 224.3h0M321.4 221.8h0M321.7 205.9h0M321.6 215.2h0M322.0 211.5h0M322.5 206.8h0M321.6 213.5h0M321.6 213.1h0M321.6 207.6h0M321.9 225.8h0M321.9 203.0h0M321.4 222.1h0M322.2 230.5h0M322.0 209.6h0M322.3 205.0h0M321.7 193.9h0M322.2 206.1h0M322.5 234.5h0M322.7 194.4h0M322.6 194.6h0M322.4 216.5h0M322.5 214.1h0M322.8 192.7h0M323.2 206.7h0M322.7 211.1h0M322.6 195.4h0M322.7 218.3h0M323.0 197.0h0M322.5 220.4h0M323.4 179.3h0M323.3 205.1h0M323.5 207.1h0M323.6 206.9h0M323.1 203.3h0M323.5 206.4h0M323.2 217.9h0M324.1 201.1h0M323.8 206.6h0M323.6 213.5h0M323.9 218.1h0M323.6 225.9h0M323.7 205.8h0M323.8 211.2h0M324.1 185.9h0M324.3 206.3h0M324.1 216.5h0M324.4 200.3h0M324.0 224.0h0M324.6 194.5h0M324.7 224.4h0M324.9 205.5h0M324.3 201.6h0M324.7 205.8h0M325.1 207.5h0M324.8 201.7h0M324.6 198.9h0M325.1 205.6h0M324.9 214.2h0M324.9 204.9h0M325.5 206.9h0M324.8 207.1h0M325.5 211.4h0M325.7 214.9h0M325.2 229.2h0M325.6 217.6h0M325.1 211.6h0M325.9 224.8h0M325.7 203.7h0M326.0 199.6h0M325.7 217.2h0M326.0 211.7h0M326.2 211.2h0M326.1 220.2h0M326.1 207.3h0M326.3 209.0h0M326.4 217.1h0M326.0 220.7h0M326.4 212.8h0M326.4 191.3h0M326.2 223.4h0M326.2 197.8h0M326.0 209.6h0M326.6 187.5h0M326.7 207.4h0M326.4 197.8h0M326.7 227.3h0M326.7 189.9h0M327.1 207.5h0M327.0 207.4h0M326.9 216.7h0M327.1 216.8h0M326.9 207.2h0M327.3 220.2h0M327.2 200.9h0M327.4 215.1h0M327.2 202.7h0M327.2 215.2h0M327.2 202.2h0M328.0 223.6h0M327.5 198.2h0M327.5 197.5h0M327.2 213.1h0M327.5 203.1h0M327.9 205.3h0M328.0 230.2h0M327.7 198.0h0M328.1 203.8h0M328.5 207.8h0M327.9 198.2h0M327.7 205.3h0M328.2 211.1h0M328.3 218.2h0M328.2 196.2h0M328.3 204.0h0M328.8 208.8h0M328.1 239.1h0M328.6 191.0h0M328.6 207.3h0M328.7 233.0h0M328.3 216.4h0M329.1 205.9h0M329.1 190.9h0M329.6 206.7h0M329.1 194.9h0M328.8 202.8h0M329.1 189.2h0M329.4 209.6h0M329.2 181.2h0M329.2 198.5h0M330.9 215.0h0M330.0 205.8h0M330.0 196.2h0M329.5 197.2h0M329.1 195.6h0M329.6 197.8h0M329.9 197.5h0M331.6 202.7h0M332.0 187.0h0M330.9 185.2h0M331.0 187.0h0M331.6 191.9h0M330.6 187.2h0M331.3 204.4h0M330.2 189.0h0M331.2 183.9h0M332.0 190.0h0M332.0 185.4h0M331.5 207.2h0M332.3 199.6h0M330.6 176.6h0M332.8 168.8h0M331.8 200.3h0M331.7 174.4h0M332.9 178.5h0M331.1 178.9h0M332.5 184.5h0M332.2 180.1h0M332.8 176.0h0M331.7 182.3h0M333.2 172.1h0M332.2 187.5h0M332.9 168.2h0M333.8 166.9h0M333.4 187.9h0M331.6 190.6h0M333.2 189.9h0M332.8 185.1h0M331.9 167.3h0M333.7 188.0h0M332.9 208.0h0M333.2 178.0h0M333.8 181.9h0M334.0 159.9h0M333.3 154.7h0M334.8 164.2h0M333.6 200.7h0M334.8 151.9h0M334.0 178.7h0M334.1 183.6h0M337.6 135.9h0M333.1 179.0h0M334.5 151.9h0M334.4 151.2h0M334.2 174.5h0M337.7 163.0h0M334.2 146.8h0M336.0 144.1h0M335.9 196.0h0M333.4 140.5h0M336.4 129.5h0M333.3 155.7h0M338.7 117.7h0M336.7 143.0h0M339.0 137.0h0M335.9 121.5h0M335.9 116.1h0M337.4 145.0h0M340.0 111.0h0M337.4 162.9h0M337.9 144.3h0M337.3 143.1h0M340.2 132.2h0M338.2 164.8h0M336.4 148.0h0M338.1 113.0h0M337.5 116.9h0M339.2 120.6h0M337.2 128.5h0M337.6 129.0h0M334.3 136.1h0M337.4 113.0h0M339.6 133.9h0M339.9 162.7h0M341.0 140.7h0M337.2 134.1h0M341.2 141.2h0M339.2 126.4h0M340.0 139.6h0M339.5 146.3h0M339.9 122.7h0M339.5 151.0h0M339.6 156.8h0M341.4 150.5h0M337.4 130.9h0M341.9 132.9h0M338.3 158.6h0M341.2 113.6h0M338.3 136.6h0M340.2 129.3h0M342.9 131.9h0M338.7 109.4h0M338.6 128.9h0M340.2 171.2h0M341.1 146.6h0M341.9 127.9h0M342.1 133.5h0M340.5 140.9h0M342.6 138.1h0M341.7 165.6h0M341.6 90.2h0M343.4 117.0h0M338.8 119.4h0M341.4 129.9h0M345.4 108.8h0M341.1 138.0h0M343.4 101.2h0M343.8 116.5h0M342.6 138.8h0M341.5 149.6h0M342.6 133.8h0M342.4 122.2h0M342.2 148.7h0M341.7 123.5h0M345.0 130.1h0M344.8 145.4h0M355.9 192.7h0M356.0 200.9h0M356.7 181.3h0M357.6 183.1h0M357.0 192.4h0M356.2 186.5h0M356.9 193.8h0M355.3 201.6h0M356.8 208.7h0M357.1 213.2h0M356.2 189.9h0M356.3 192.0h0M356.7 202.9h0M356.7 188.2h0M357.2 202.1h0M357.5 195.2h0M357.4 186.4h0M357.6 200.6h0M356.5 194.1h0M357.3 201.0h0M357.3 192.6h0M357.9 194.1h0M358.2 205.7h0M357.7 216.4h0M357.4 189.2h0M357.4 198.5h0M357.5 204.7h0M358.4 197.4h0M357.8 226.1h0M358.0 194.7h0M358.1 205.2h0M358.1 197.7h0M358.1 201.2h0M358.3 183.7h0M358.0 212.1h0M358.2 200.6h0M358.8 194.8h0M359.1 221.3h0M358.7 198.2h0M358.9 215.2h0M359.0 203.7h0M358.6 201.1h0M358.6 196.8h0M359.1 207.5h0M359.6 188.1h0M359.2 197.3h0M359.3 207.6h0M359.2 234.4h0M359.5 198.3h0M359.7 186.7h0M359.3 212.7h0M359.8 200.5h0M360.3 194.1h0M359.4 210.6h0M359.5 203.1h0M360.0 197.3h0M360.1 194.7h0M359.9 204.1h0M359.6 206.0h0M359.9 191.5h0M360.1 216.3h0M360.5 195.8h0M360.8 221.4h0M360.5 209.4h0M360.5 204.6h0M360.4 209.5h0M360.8 201.5h0M360.6 205.7h0M360.6 224.4h0M361.3 201.6h0M360.4 221.4h0M361.3 199.0h0M361.3 205.9h0M361.0 196.5h0M361.2 209.4h0M361.5 189.0h0M361.3 202.5h0M362.0 215.4h0M361.7 213.5h0M361.7 198.6h0M361.5 204.7h0M362.0 207.5h0M361.9 193.5h0M361.7 210.2h0M361.8 220.6h0M362.0 219.4h0M361.6 201.2h0M362.0 198.5h0M361.9 201.9h0M362.4 180.0h0M362.0 213.1h0M362.0 206.5h0M362.6 198.6h0M362.5 214.7h0M361.7 215.4h0M362.4 201.1h0M362.7 203.9h0M362.0 205.1h0M362.4 193.0h0M362.7 207.2h0M362.4 227.7h0M362.7 208.1h0M362.6 204.1h0M363.2 205.2h0M362.7 212.9h0M363.0 215.3h0M363.0 200.0h0M363.1 208.7h0M363.4 191.4h0M363.5 217.0h0M363.2 206.0h0M363.5 207.3h0M363.5 210.9h0M364.1 217.1h0M364.1 205.6h0M363.9 199.0h0M364.1 202.2h0M364.3 199.9h0M363.5 215.7h0M363.8 199.9h0M364.3 208.2h0M364.3 221.2h0M364.4 204.1h0M364.2 204.5h0M364.1 215.1h0M364.7 214.6h0M364.5 198.8h0M364.4 233.5h0M364.7 212.3h0M365.1 196.6h0M364.7 205.1h0M364.7 216.6h0M364.9 209.0h0M364.7 216.1h0M364.7 232.7h0M364.9 228.9h0M365.1 214.5h0M365.1 202.6h0M365.4 224.1h0M365.3 202.8h0M365.2 218.6h0M365.7 215.4h0M365.3 202.4h0M365.7 203.6h0M365.8 207.7h0M365.7 213.3h0M365.6 195.9h0M365.2 209.9h0M365.7 229.6h0M365.8 218.6h0M365.8 204.6h0M365.8 204.8h0M366.3 210.3h0M366.2 205.7h0M366.1 209.0h0M366.3 217.8h0M366.0 212.3h0M366.4 219.9h0M366.2 204.6h0M366.4 203.3h0M366.3 199.4h0M366.4 196.6h0M366.6 206.6h0M366.6 210.5h0M366.5 208.5h0M366.5 231.5h0M366.6 202.5h0M366.8 208.7h0M366.8 207.3h0M366.8 204.2h0M366.7 225.2h0M366.7 211.0h0M367.0 224.4h0M366.9 203.1h0M366.9 231.2h0M366.8 235.8h0M367.0 206.1h0M366.9 212.5h0M367.1 211.8h0M367.0 218.9h0M367.0 203.8h0M367.2 218.9h0M367.2 221.9h0M367.3 210.1h0M367.4 193.3h0M367.6 194.4h0M367.8 214.4h0M367.8 225.0h0M367.9 213.0h0M368.0 209.4h0M368.0 223.9h0M368.1 221.6h0M368.1 225.4h0M368.1 218.5h0M368.2 228.7h0M368.2 199.2h0M368.4 220.7h0M368.5 219.3h0M368.6 233.5h0M368.6 215.9h0M368.8 226.2h0M368.8 210.6h0M368.8 219.4h0M368.9 215.6h0M368.9 212.4h0M368.9 210.2h0M368.9 221.7h0M369.0 223.8h0M383.0 213.6h0M383.0 217.4h0M383.2 228.4h0M383.2 232.4h0M383.3 214.0h0M383.2 231.3h0M383.4 226.2h0M383.6 224.1h0M383.6 215.7h0M383.6 218.5h0M383.6 212.9h0M383.7 220.3h0M383.7 212.8h0M383.7 229.9h0M383.8 218.3h0M383.9 220.0h0M383.9 221.0h0M384.0 220.9h0M384.0 206.3h0M384.1 230.1h0M384.2 217.6h0M384.3 212.2h0M384.2 208.8h0M384.3 210.8h0M384.4 210.9h0M384.5 208.8h0M384.6 216.8h0M384.6 209.8h0M384.8 238.1h0M384.9 222.1h0M384.7 217.8h0M385.0 212.6h0M384.9 221.1h0M385.0 228.4h0M384.8 213.1h0M385.1 206.7h0M385.2 218.9h0M385.3 196.7h0M385.0 214.4h0M385.2 210.6h0M385.4 215.7h0M385.5 200.4h0M385.5 208.3h0M385.4 203.3h0M386.6 206.1h0M386.1 208.4h0M385.8 222.7h0M386.1 209.9h0M386.1 193.9h0M386.2 201.1h0M386.5 213.7h0M386.4 213.8h0M386.6 211.3h0M386.5 211.7h0M386.6 201.6h0M386.8 188.8h0M386.8 198.7h0M386.8 201.3h0M386.6 200.6h0M386.8 201.0h0M386.5 185.3h0M387.0 205.5h0M386.7 201.0h0M387.0 219.3h0M387.2 203.5h0M387.2 224.3h0M387.3 218.2h0M387.1 197.4h0M387.4 216.8h0M386.9 195.7h0M387.0 222.5h0M387.2 209.8h0M387.6 198.1h0M388.0 187.1h0M388.6 200.2h0M388.5 192.5h0M387.8 215.5h0M388.6 200.7h0M388.2 202.5h0M388.6 204.9h0M388.9 199.7h0M389.2 210.0h0M389.0 193.9h0M388.1 207.7h0M389.3 191.2h0M390.1 202.8h0M388.6 191.5h0M388.7 198.9h0M388.7 207.4h0M388.7 214.9h0M389.2 185.5h0M388.8 193.9h0M388.4 192.2h0M388.8 214.0h0M389.0 192.5h0M390.1 195.0h0M389.3 200.4h0M389.1 207.6h0M388.9 208.6h0M389.3 189.9h0M388.3 216.8h0M390.6 183.0h0M389.1 224.0h0M389.9 217.0h0M389.5 200.0h0M390.2 184.7h0M390.3 194.6h0M390.4 198.0h0M390.2 203.2h0M389.9 188.8h0M389.9 195.4h0M390.0 187.8h0M391.2 200.1h0M390.6 196.1h0M390.0 208.7h0M391.5 203.8h0M390.9 199.0h0M390.6 208.7h0M391.7 183.9h0M391.1 193.8h0M390.3 178.9h0M391.4 193.7h0M391.5 189.8h0M391.0 203.9h0M391.3 189.5h0M390.3 187.7h0M389.8 192.3h0M390.1 191.7h0M391.6 199.1h0M391.3 185.2h0M391.4 179.8h0M391.6 178.7h0M392.1 206.6h0M390.9 180.8h0M391.5 187.0h0M391.4 180.7h0M391.9 201.2h0M391.2 185.1h0M391.3 205.1h0M392.7 183.4h0M392.1 192.8h0M392.3 198.4h0M392.9 177.9h0M392.2 185.0h0M391.9 187.5h0M392.9 196.8h0M392.0 192.6h0M391.0 193.0h0M392.0 174.2h0M392.7 188.7h0M391.7 192.0h0M393.4 199.7h0M392.9 181.7h0M392.6 195.1h0M394.3 211.8h0M392.2 182.5h0M393.7 172.9h0M393.8 182.8h0M393.0 207.3h0M392.3 177.7h0M394.2 184.2h0M393.7 201.6h0M393.2 193.3h0M395.0 182.7h0M393.5 184.6h0M394.8 185.8h0M393.8 187.3h0M394.0 198.8h0M394.1 170.5h0M393.9 182.4h0M394.0 187.5h0M394.2 187.0h0M394.2 196.1h0M395.4 180.9h0M394.7 190.2h0M393.9 203.1h0M395.3 201.3h0M394.4 183.7h0M394.8 188.6h0M395.5 183.3h0M394.9 186.4h0M396.5 202.0h0M395.4 193.8h0M394.8 205.2h0M396.3 205.9h0M396.5 172.7h0M395.1 186.8h0M395.2 178.2h0M396.2 176.4h0M395.4 178.6h0M396.0 179.0h0M395.3 172.2h0M396.2 181.3h0M395.2 177.0h0M396.6 162.8h0M396.4 172.7h0M396.9 219.7h0M397.6 184.4h0M396.2 174.3h0M395.6 166.0h0M395.0 186.3h0M397.5 157.7h0M397.7 168.6h0M398.6 169.6h0M397.9 167.3h0M398.5 175.7h0M397.3 185.5h0M396.6 173.7h0M397.6 178.7h0M399.4 164.2h0M397.8 192.3h0M399.3 164.6h0M399.2 150.9h0M398.0 169.0h0M398.8 164.7h0M400.1 179.2h0M399.5 157.5h0M398.7 160.8h0M398.7 159.9h0M400.3 149.9h0M399.1 157.2h0M399.5 187.5h0M397.9 143.6h0M398.5 163.1h0M399.3 142.4h0M398.4 139.1h0M399.7 140.2h0M398.5 171.4h0M402.6 172.1h0M402.3 172.8h0M399.9 153.3h0M399.5 167.9h0M401.0 177.7h0M399.4 154.7h0M401.8 162.9h0M401.7 173.4h0M401.9 116.4h0M401.5 155.1h0M399.8 107.4h0M403.8 136.6h0M399.1 132.4h0M400.6 132.8h0M401.4 130.3h0M403.7 148.0h0M403.7 123.0h0M403.8 131.3h0M402.3 144.4h0M403.1 151.1h0M403.5 120.8h0M399.7 121.1h0M402.1 138.9h0M400.9 113.9h0M400.8 119.5h0M401.0 126.0h0M400.9 127.5h0M403.8 123.3h0M404.1 118.8h0M400.4 113.1h0M402.7 118.2h0M403.2 157.6h0M404.4 123.6h0M405.8 149.6h0M405.6 123.4h0M404.3 144.7h0M404.3 147.0h0M405.1 163.1h0M404.2 111.6h0M401.5 146.1h0M404.9 124.8h0M406.2 115.3h0M403.4 129.5h0M402.9 138.6h0M404.4 105.7h0M403.9 139.3h0M403.8 110.3h0M404.5 92.6h0M402.3 113.2h0M403.8 101.3h0M405.9 127.8h0M408.5 136.9h0M407.4 114.2h0M402.2 90.9h0M405.5 101.2h0M405.2 106.8h0M407.1 98.9h0M407.1 91.1h0M406.5 95.0h0M408.0 108.4h0M406.2 100.3h0M408.0 97.3h0M405.5 92.9h0M406.9 91.4h0M406.2 88.7h0M406.6 70.5h0M408.8 105.9h0M408.2 117.1h0M409.8 95.9h0M406.1 99.3h0M410.4 85.7h0M408.8 108.6h0M407.4 131.7h0M405.9 92.7h0M407.4 76.4h0M405.6 121.5h0M408.6 103.9h0M406.7 133.3h0M407.7 103.5h0M410.4 142.4h0M408.8 79.4h0M407.5 122.0h0M409.3 96.0h0M410.2 87.4h0M409.8 95.8h0M408.5 99.7h0M409.4 108.2h0M411.4 101.1h0M411.4 109.1h0M410.8 108.6h0M411.7 130.1h0M410.0 104.2h0M410.0 109.1h0M413.2 133.1h0M411.5 163.2h0M410.4 122.1h0M412.8 134.1h0M411.8 136.2h0M411.4 121.5h0M412.2 120.6h0M411.1 147.4h0M413.2 137.0h0M412.5 163.8h0M412.3 160.4h0M412.4 174.2h0M414.7 143.8h0M413.9 156.9h0M414.6 154.2h0M412.5 144.1h0M413.3 152.5h0M413.6 167.1h0M411.5 152.2h0M412.8 155.9h0M416.6 180.0h0M411.2 150.0h0M416.5 156.0h0M414.0 172.4h0M418.1 183.8h0M414.4 187.1h0M415.3 176.0h0M414.3 184.0h0M413.6 162.2h0M412.7 171.7h0M413.7 196.0h0M414.1 170.6h0M414.8 173.7h0M415.5 160.2h0M415.3 177.6h0M415.0 165.4h0M415.7 185.4h0M415.3 201.5h0M416.4 186.4h0M417.0 185.2h0M415.1 179.6h0M415.3 192.1h0M415.6 215.9h0M415.0 184.1h0M415.7 177.5h0M415.7 205.8h0M414.8 189.0h0M414.7 182.4h0M415.3 182.8h0M415.7 202.1h0M415.2 203.9h0M414.4 193.5h0M415.7 205.2h0M416.0 210.3h0M417.3 202.9h0M416.0 178.6h0M416.9 183.4h0M416.7 198.8h0M416.6 183.3h0M415.4 187.0h0M416.4 196.4h0M416.8 188.8h0M416.6 185.6h0M416.0 207.6h0M415.7 202.2h0M417.3 205.9h0M417.2 207.1h0M416.9 212.9h0M416.6 194.0h0M417.1 193.5h0M417.2 207.4h0M417.3 203.0h0M417.1 212.3h0M417.3 207.6h0M417.9 208.7h0M418.0 200.8h0M417.3 196.0h0M418.1 193.6h0M418.0 185.7h0M417.5 198.2h0M417.6 170.1h0M419.5 185.8h0M416.5 187.3h0M418.7 207.0h0M416.7 185.5h0M417.4 195.1h0M417.1 202.8h0M418.1 210.7h0M418.4 179.7h0M418.4 185.6h0M418.4 183.6h0M417.2 206.4h0M419.4 195.7h0M418.8 186.3h0M419.0 182.2h0M417.9 183.4h0M418.2 179.2h0M418.8 180.7h0M418.0 187.2h0M418.7 184.8h0M418.8 192.5h0M420.5 180.1h0M419.0 160.2h0M419.0 166.5h0M420.2 174.9h0M420.8 166.2h0M419.1 174.6h0M419.9 179.5h0M418.7 172.4h0M420.0 176.9h0M420.6 177.3h0M419.6 171.8h0M420.7 177.2h0M419.7 169.0h0M421.0 160.0h0M420.5 170.2h0M420.3 185.4h0M420.5 164.3h0M420.5 191.0h0M420.1 173.9h0M420.8 172.9h0M422.0 187.6h0M420.0 184.9h0M421.0 164.6h0M421.5 167.4h0M420.6 179.2h0M421.5 188.7h0M421.2 180.7h0M421.6 188.7h0M422.2 185.9h0M421.7 184.9h0M421.0 177.8h0M420.6 197.6h0M421.3 199.2h0M422.2 180.8h0M420.9 189.2h0M420.7 180.5h0M421.8 188.6h0M421.0 199.2h0M422.3 198.6h0M422.2 183.5h0M421.8 185.2h0M422.0 198.6h0M422.6 216.0h0M421.9 192.6h0M423.2 188.5h0M422.4 195.0h0M423.2 203.9h0M421.4 209.1h0M422.1 195.4h0M422.7 194.6h0M423.9 204.9h0M422.2 206.3h0M423.5 195.4h0M423.2 205.6h0M422.3 185.9h0M423.4 204.0h0M422.8 204.3h0M423.0 200.8h0M423.8 190.7h0M423.0 194.9h0M423.5 201.1h0M423.5 201.9h0M424.1 202.8h0M423.6 209.5h0M424.2 204.4h0M423.6 209.7h0M424.0 197.1h0M423.5 216.2h0M423.7 200.8h0M423.6 212.7h0M423.7 216.4h0M423.8 204.4h0M424.0 194.1h0M423.9 196.6h0M424.6 204.0h0M423.7 220.4h0M424.3 203.3h0M424.7 206.9h0M424.8 202.3h0M424.7 209.7h0M424.8 209.5h0M424.9 202.3h0M424.8 217.7h0M424.6 217.8h0M425.2 204.5h0M424.9 237.5h0M425.3 210.6h0M425.3 205.1h0M425.1 202.1h0M424.8 200.2h0M425.2 215.8h0M425.6 186.6h0M426.2 206.7h0M425.6 198.1h0M425.8 194.9h0M425.7 207.9h0M426.0 198.8h0M425.2 201.3h0M426.2 221.2h0M426.2 204.6h0M426.0 208.6h0M425.8 206.4h0M426.1 217.0h0M426.3 221.1h0M425.9 218.1h0M426.3 214.6h0M426.7 222.2h0M426.6 205.4h0M426.7 203.1h0M426.6 206.9h0M426.7 204.0h0M426.6 213.7h0M426.5 217.0h0M427.0 209.2h0M426.7 205.7h0M426.8 208.0h0M426.9 201.7h0M427.2 204.8h0M427.1 230.2h0M427.2 204.7h0M427.0 216.7h0M427.3 212.9h0M427.4 204.3h0M427.4 203.0h0M427.5 223.7h0M427.3 205.8h0M426.9 210.1h0M427.4 212.8h0M427.4 197.8h0M427.4 209.6h0M427.9 206.4h0M427.7 216.5h0M427.6 209.4h0M427.7 195.7h0M427.9 195.5h0M427.8 193.6h0M428.0 208.9h0M428.1 212.1h0M427.9 221.7h0M427.9 206.2h0M428.2 208.0h0M428.2 219.7h0M428.2 217.5h0M428.0 219.6h0M428.1 215.8h0M428.2 184.5h0M428.3 209.3h0M428.5 209.5h0M428.2 221.8h0M428.5 228.0h0M428.3 233.0h0M428.5 206.0h0M428.6 211.7h0M428.7 213.4h0M428.7 212.2h0M429.0 205.5h0M428.6 245.6h0M429.1 228.5h0M429.2 212.5h0M428.9 210.4h0M429.0 205.2h0M429.1 211.3h0M429.4 221.3h0M429.4 230.1h0M429.4 222.5h0M429.3 226.6h0M429.5 206.3h0M429.5 191.0h0M429.4 227.5h0M429.4 215.6h0M429.6 213.3h0M429.9 230.5h0M429.7 207.2h0M429.6 207.2h0M429.7 208.8h0M429.7 230.0h0M429.8 223.4h0M430.0 230.6h0M430.0 214.3h0M430.3 218.4h0M430.2 208.9h0M430.2 233.1h0M430.5 218.8h0M430.5 237.8h0M430.6 207.6h0M430.5 221.5h0M430.7 215.5h0M430.6 213.1h0M430.7 209.0h0M430.6 209.8h0M430.9 206.5h0M430.8 210.1h0M430.8 214.6h0M430.9 220.4h0M430.8 203.7h0M430.7 207.5h0M430.9 210.5h0M430.7 203.2h0M430.8 212.7h0M430.9 212.9h0M431.3 213.5h0M431.2 218.8h0M431.2 224.1h0M431.0 222.7h0M431.4 217.6h0M431.3 220.7h0M431.2 209.3h0M431.3 208.3h0M431.5 226.1h0M431.3 220.5h0M431.7 236.7h0M431.7 213.3h0M431.7 208.0h0M431.6 217.7h0M431.8 211.6h0M431.8 208.5h0M431.9 228.3h0M431.9 233.8h0M432.1 218.2h0M432.0 209.9h0M432.4 216.8h0M432.3 213.9h0M432.3 204.5h0M432.2 217.5h0M432.3 226.6h0M432.4 210.2h0M432.5 214.0h0M432.3 213.3h0M432.6 201.9h0M432.5 239.1h0M432.7 199.1h0M432.8 205.8h0M432.6 211.4h0M432.5 221.2h0M432.7 210.7h0M432.9 214.6h0M432.8 216.2h0M432.8 214.6h0M432.8 214.9h0M433.2 212.9h0M433.3 218.2h0M433.2 222.0h0M433.3 212.2h0M433.1 210.8h0M433.4 211.2h0M433.6 217.0h0M433.4 211.3h0M433.7 203.4h0M433.9 233.5h0M433.7 205.4h0M433.5 231.0h0M433.8 222.1h0M433.8 224.5h0M434.0 216.8h0M433.9 219.2h0M433.9 217.2h0M434.2 220.3h0M434.3 222.8h0M434.3 229.8h0M434.2 219.4h0M434.4 230.8h0M434.5 228.6h0M434.6 207.2h0M434.5 217.7h0M434.5 217.4h0M434.5 217.1h0M434.5 198.5h0M434.5 223.4h0M434.4 236.9h0M434.7 221.4h0M434.8 214.0h0M434.6 221.1h0M434.7 216.1h0M434.8 210.7h0M434.7 213.9h0M434.9 218.1h0M434.8 208.7h0M435.2 225.8h0M434.7 225.4h0M434.8 226.5h0M434.7 227.7h0M435.0 221.6h0M434.9 227.8h0M435.0 215.0h0M435.0 228.8h0M435.2 234.1h0M435.1 211.7h0M435.2 203.7h0M435.2 236.1h0M435.2 226.0h0M435.4 232.8h0M435.5 223.4h0M435.4 209.2h0M436.0 206.8h0M435.9 228.7h0M435.8 224.0h0M435.7 217.2h0M435.9 205.8h0M435.8 210.2h0M435.8 209.5h0M436.0 211.8h0M436.2 193.3h0M436.3 216.7h0M436.3 230.4h0M436.4 210.4h0M436.6 214.8h0M436.3 217.4h0M436.7 188.6h0M436.6 219.4h0M437.0 209.1h0M436.9 211.8h0M446.0 207.7h0M446.1 213.5h0M446.1 211.8h0M446.2 226.6h0M446.1 205.6h0M446.2 205.4h0M446.2 229.5h0M446.3 189.4h0M446.4 204.7h0M446.4 229.9h0M446.3 231.4h0M446.3 193.3h0M446.5 200.9h0M446.4 217.2h0M446.5 209.5h0M446.6 213.7h0M446.5 204.1h0M446.5 198.2h0M446.6 210.4h0M446.6 218.2h0M446.6 223.6h0M446.8 221.4h0M446.8 219.3h0M446.9 212.1h0M446.9 217.1h0M447.0 213.1h0M447.1 197.9h0M447.1 224.8h0M447.1 209.8h0M447.1 210.6h0M447.1 211.3h0M447.3 204.0h0M447.3 205.2h0M447.5 218.6h0M447.5 225.7h0M447.4 214.3h0M447.6 227.2h0M447.9 211.6h0M447.9 202.2h0M448.0 197.5h0M448.1 216.2h0M448.4 229.5h0M448.3 211.7h0M448.4 210.0h0M448.4 212.7h0M448.7 210.6h0M448.6 217.1h0M449.0 224.1h0M449.1 207.1h0M449.3 221.6h0M449.3 217.7h0M449.3 211.3h0M449.1 211.9h0M449.4 211.6h0M449.4 231.4h0M449.5 207.9h0M449.5 226.3h0M449.6 224.3h0M449.5 211.3h0M449.6 230.6h0M449.5 196.1h0M449.5 216.3h0M449.7 214.0h0M449.8 222.5h0M449.8 210.8h0M449.8 212.4h0M449.9 225.9h0M449.9 213.0h0M450.0 206.2h0M450.1 219.9h0M450.0 187.4h0M449.9 209.8h0M450.3 219.8h0M450.2 208.4h0M450.3 206.9h0M450.6 187.9h0M450.7 212.9h0M450.4 214.8h0M450.6 205.3h0M450.6 232.4h0M450.7 221.5h0M450.7 216.9h0M450.7 196.1h0M451.0 224.6h0M451.1 207.3h0M451.5 220.5h0M451.4 206.3h0M451.5 226.0h0M451.7 211.5h0M451.7 213.9h0M451.9 225.6h0M451.8 204.5h0M451.9 216.5h0M451.9 212.6h0M451.9 222.8h0M452.0 208.8h0M452.0 199.4h0M452.0 206.6h0M452.0 212.1h0M451.8 219.2h0M452.1 215.2h0M451.7 211.0h0M452.3 219.7h0M452.2 210.9h0M452.1 194.1h0M452.3 208.1h0M452.3 221.2h0M452.4 227.1h0M452.6 225.0h0M452.4 197.8h0M452.7 221.3h0M452.8 199.9h0M452.9 214.4h0M452.8 197.5h0M453.2 198.3h0M452.5 202.0h0M453.0 226.5h0M452.9 219.4h0M453.6 199.9h0M452.9 208.4h0M453.7 207.6h0M453.3 209.2h0M453.2 199.7h0M453.2 221.3h0M453.1 202.0h0M453.6 213.6h0M453.2 190.9h0M453.8 208.7h0M453.8 205.8h0M453.2 219.6h0M453.2 183.5h0M453.2 210.4h0M453.8 213.3h0M453.7 201.7h0M452.8 218.7h0M453.6 227.4h0M454.0 213.0h0M453.3 211.9h0M453.8 217.9h0M453.5 207.3h0M453.8 215.7h0M454.2 208.2h0M454.4 195.6h0M454.6 192.3h0M454.0 214.0h0M454.3 206.9h0M454.5 217.1h0M454.6 185.8h0M454.4 192.4h0M454.8 207.6h0M454.6 208.7h0M454.3 189.3h0M453.9 200.5h0M454.6 198.2h0M455.1 178.3h0M454.8 209.6h0M454.9 197.0h0M455.0 193.3h0M455.5 187.3h0M455.0 199.4h0M455.2 201.0h0M455.1 200.1h0M454.9 201.1h0M455.0 205.8h0M455.0 216.0h0M455.4 186.1h0M455.7 193.5h0M455.2 189.6h0M455.9 214.3h0M454.5 190.5h0M455.4 179.0h0M456.8 191.1h0M455.7 184.7h0M454.7 184.3h0M456.5 178.9h0M456.3 172.7h0M456.6 214.9h0M456.2 187.7h0M457.1 195.9h0M456.0 204.6h0M456.1 182.2h0M455.7 188.9h0M456.0 176.5h0M456.1 189.5h0M455.0 176.6h0M456.3 181.4h0M457.5 188.1h0M457.0 182.6h0M456.6 175.4h0M457.2 177.5h0M456.4 161.0h0M456.9 210.5h0M458.2 177.6h0M457.7 163.7h0M457.4 171.6h0M459.9 174.1h0M457.0 179.3h0M458.2 182.7h0M456.5 197.5h0M457.8 178.7h0M458.5 188.3h0M457.8 193.3h0M457.7 165.4h0M458.7 183.6h0M459.4 176.6h0M458.0 184.3h0M457.7 187.6h0M458.4 190.9h0M459.0 198.5h0M457.1 183.3h0M459.4 183.6h0M457.9 216.0h0M458.5 173.5h0M459.5 180.6h0M459.7 179.5h0M459.5 192.9h0M458.0 197.5h0M459.4 171.1h0M459.7 216.6h0M457.8 195.5h0M459.8 178.0h0M458.4 189.8h0M460.1 173.2h0M459.2 181.6h0M459.9 179.7h0M459.8 180.5h0M460.2 189.9h0M458.9 174.9h0M458.6 176.2h0M459.6 172.8h0M460.5 189.8h0M461.3 186.4h0M460.5 170.0h0M459.8 182.8h0M460.7 195.2h0M460.2 173.7h0M459.9 164.5h0M460.1 211.0h0M460.5 183.4h0M459.9 185.4h0M459.6 167.3h0M460.9 179.4h0M460.4 180.2h0M459.8 166.9h0M459.0 165.9h0M460.0 171.6h0M461.0 196.4h0M459.5 170.5h0M460.1 171.3h0M460.3 170.2h0M460.9 166.9h0M459.6 157.7h0M463.0 159.2h0M460.4 173.7h0M462.0 148.9h0M460.3 154.2h0M460.8 184.4h0M459.8 156.0h0M462.6 167.8h0M460.4 172.2h0M463.0 190.6h0M461.9 161.2h0M461.2 174.7h0M460.5 158.6h0M461.3 171.8h0M465.2 152.7h0M463.1 152.1h0M462.3 154.8h0M461.1 158.2h0M461.5 158.9h0M461.7 157.0h0M461.8 173.7h0M463.4 183.8h0M460.8 190.4h0M463.0 189.8h0M462.3 144.4h0M462.0 151.5h0M462.2 175.4h0M462.6 170.2h0M462.5 152.5h0M462.7 174.3h0M462.6 153.2h0M464.1 157.1h0M464.0 172.1h0M460.2 174.5h0M463.3 157.7h0M464.3 147.9h0M462.0 161.0h0M464.3 147.4h0M464.2 160.0h0M467.1 143.0h0M464.2 156.2h0M463.2 171.1h0M463.6 155.4h0M461.3 136.5h0M466.5 136.0h0M465.1 152.9h0M463.7 129.9h0M466.0 130.7h0M464.9 147.2h0M466.3 134.9h0M464.8 157.0h0M464.7 137.8h0M465.2 171.6h0M464.8 147.4h0M465.7 162.1h0M463.4 123.1h0M463.0 137.9h0M466.4 129.0h0M464.8 145.3h0M464.4 133.3h0M465.9 109.6h0M467.4 126.4h0M467.6 143.7h0M465.4 117.1h0M466.6 151.0h0M468.1 140.2h0M468.5 119.5h0M466.5 110.4h0M468.3 123.5h0M467.5 123.3h0M465.9 135.7h0M466.1 111.2h0M465.9 114.5h0M468.4 112.0h0M466.1 115.1h0M468.9 104.1h0M469.2 88.1h0M466.5 103.8h0M468.5 87.9h0M468.9 98.7h0M466.4 94.7h0M466.5 129.2h0M467.8 113.2h0M467.9 108.2h0M468.4 91.3h0M468.9 105.6h0M467.9 110.4h0M468.3 128.3h0M472.2 119.6h0M471.4 114.1h0M469.3 110.9h0M470.2 87.0h0M469.6 98.5h0M468.6 127.3h0M470.3 113.2h0M468.8 85.0h0M470.3 91.4h0M470.2 99.7h0M472.0 122.1h0M474.1 108.5h0M472.0 131.2h0M471.6 96.4h0M470.9 129.0h0M472.0 109.9h0M469.5 109.8h0M473.8 137.7h0M470.7 100.2h0M475.0 151.1h0M474.0 93.8h0M472.1 91.7h0M471.8 102.2h0M472.5 87.5h0M472.9 105.1h0M473.2 103.3h0M472.5 91.4h0M471.1 154.3h0M472.3 107.6h0M473.8 95.3h0M475.9 105.1h0M474.3 129.6h0M474.6 146.6h0M472.8 124.0h0M473.6 95.0h0M472.2 124.9h0M473.3 141.1h0M475.4 161.9h0M475.2 133.5h0M474.2 108.1h0M474.9 111.8h0M475.5 116.0h0M473.6 149.6h0M475.2 131.1h0M474.3 121.4h0M476.0 125.4h0M476.3 119.4h0M475.1 128.6h0M477.1 138.1h0M476.6 171.5h0M477.1 132.0h0M479.0 128.7h0M477.5 143.4h0M479.3 127.8h0M477.2 146.0h0M474.6 159.6h0M477.6 172.8h0M475.4 138.2h0M476.5 145.9h0M476.4 156.1h0M476.8 132.3h0M475.7 139.6h0M474.8 151.8h0M478.8 137.3h0M477.8 152.3h0M476.6 144.1h0M475.1 152.5h0M477.0 142.6h0M479.0 151.2h0M476.8 140.8h0M477.7 135.2h0M476.4 166.9h0M476.2 165.1h0M479.4 150.5h0M477.6 135.1h0M475.3 133.6h0M480.0 122.6h0M478.2 121.5h0M479.8 150.0h0M479.5 159.4h0M478.8 134.8h0M478.4 152.9h0M479.4 127.9h0M479.4 116.8h0M480.1 95.3h0M478.5 98.9h0M480.1 136.4h0M479.7 171.2h0M478.7 111.8h0M479.8 142.0h0M481.2 107.8h0M479.2 90.8h0M481.3 97.1h0M481.0 126.4h0M481.8 109.0h0M482.4 130.2h0M482.0 138.8h0M480.5 146.4h0M480.9 125.1h0M484.2 148.2h0M483.4 92.6h0M482.6 102.0h0M484.4 132.8h0M482.8 116.4h0M482.1 112.0h0M480.7 151.5h0M482.5 126.0h0M483.5 145.7h0M482.4 126.3h0M482.8 122.2h0M484.5 133.7h0M482.8 158.8h0M483.3 165.0h0M482.1 139.9h0M482.8 142.8h0M484.7 164.7h0M481.8 144.0h0M484.2 150.6h0M481.9 136.3h0M483.0 156.9h0M480.6 168.5h0M484.7 155.6h0M484.3 132.3h0M481.8 135.0h0M486.7 138.3h0M483.4 158.5h0M485.4 134.5h0M482.9 153.9h0M483.6 124.7h0M483.5 139.7h0M484.3 166.5h0M483.3 147.4h0M484.9 139.9h0M482.2 149.5h0M483.8 171.7h0M483.4 160.9h0M486.0 167.0h0M485.0 157.0h0M483.1 176.6h0M485.6 176.4h0M487.2 151.4h0M486.1 160.2h0M485.0 154.5h0M485.1 159.4h0M486.1 165.8h0M486.3 154.4h0M486.3 150.7h0M484.5 165.4h0M483.6 170.4h0M486.7 177.2h0M485.8 160.9h0M484.6 161.8h0M486.4 188.5h0M486.9 178.1h0M485.6 168.0h0M484.7 166.6h0M486.6 162.5h0M488.1 188.1h0M486.8 163.5h0M487.1 160.1h0M486.0 170.5h0M486.3 196.6h0M485.3 179.4h0M487.7 181.2h0M485.7 179.1h0M486.7 167.8h0M487.5 180.7h0M486.6 199.0h0M487.8 190.3h0M488.3 172.1h0M487.8 203.6h0M488.2 203.1h0M488.6 182.8h0M487.0 195.9h0M487.3 180.3h0M486.7 189.9h0M487.3 185.7h0M487.7 198.4h0M488.1 170.8h0M487.3 202.4h0M488.4 183.9h0M488.2 179.5h0M487.6 189.8h0M487.7 199.1h0M488.4 183.6h0M488.0 184.1h0M488.6 188.9h0M488.0 203.9h0M488.3 188.7h0M488.7 203.1h0M488.8 211.4h0M488.8 204.6h0M488.5 186.7h0M488.8 196.6h0M488.6 203.4h0M488.9 198.5h0M489.0 190.7h0M489.5 186.3h0M489.1 210.1h0M489.8 193.6h0M490.7 218.4h0M489.1 186.2h0M490.1 193.0h0M489.3 190.6h0M489.9 218.5h0M489.6 211.2h0M489.7 192.1h0M490.2 210.6h0M490.1 198.4h0M490.4 188.3h0M490.9 185.4h0M490.5 202.6h0M490.5 196.2h0M490.7 199.9h0M491.1 195.8h0M490.5 197.0h0M490.8 207.1h0M491.2 198.5h0M490.7 197.3h0M490.1 205.9h0M491.6 194.7h0M491.8 200.2h0M491.9 216.0h0M492.1 208.2h0M491.8 187.9h0M491.6 194.8h0M492.2 205.3h0M492.3 223.9h0M491.7 212.5h0M491.5 203.5h0M492.1 211.7h0M492.6 206.4h0M491.9 204.0h0M492.8 211.7h0M492.6 190.9h0M493.0 220.1h0M492.6 205.5h0M492.5 202.2h0M492.6 199.5h0M492.7 211.8h0M492.6 210.1h0M492.5 210.4h0M493.2 241.8h0M493.3 190.5h0M493.0 201.8h0M492.5 201.3h0M492.9 217.9h0M493.0 205.1h0M493.5 199.7h0M493.5 209.4h0M493.3 211.6h0M493.5 209.7h0M493.8 203.2h0M493.3 202.8h0M493.5 200.5h0M493.6 212.4h0M494.1 205.5h0M494.1 206.2h0M493.3 222.7h0M494.4 209.4h0M494.1 199.3h0M493.9 203.1h0M493.9 191.4h0M494.1 197.5h0M494.6 212.4h0M494.1 222.2h0M494.2 206.4h0M494.7 199.7h0M494.6 210.2h0M494.3 221.9h0M494.5 208.0h0M494.3 219.5h0M494.6 208.8h0M494.1 199.8h0M494.5 202.2h0M494.8 207.1h0M494.7 215.5h0M494.7 207.0h0M495.0 211.0h0M495.4 205.1h0M495.1 207.8h0M495.0 206.6h0M495.0 180.6h0M495.6 225.8h0M495.2 223.2h0M495.0 206.0h0M494.7 214.5h0M494.7 202.7h0M495.5 199.8h0M495.5 208.4h0M495.3 214.2h0M495.6 207.0h0M495.4 216.7h0M495.6 217.0h0M495.5 182.6h0M496.1 206.7h0M495.8 197.5h0M495.6 227.9h0M495.8 204.4h0M496.2 216.2h0M495.4 213.5h0M495.9 205.6h0M496.5 228.4h0M496.5 215.9h0M496.5 208.6h0M496.0 205.6h0M496.4 201.4h0M496.3 199.3h0M496.4 215.3h0M496.6 205.6h0M496.1 205.6h0M496.6 214.6h0M496.7 206.4h0M496.4 215.9h0M497.0 204.6h0M496.9 218.6h0M497.0 203.2h0M496.9 214.9h0M497.2 213.7h0M497.0 207.9h0M497.4 195.1h0M497.4 197.7h0M497.7 199.3h0M497.0 216.9h0M497.4 200.8h0M497.5 203.5h0M497.8 206.7h0M497.9 194.8h0M497.7 214.4h0M498.1 215.9h0M498.0 203.6h0M497.6 216.9h0M498.0 196.4h0M497.9 204.0h0M498.4 207.0h0M498.1 209.0h0M498.2 220.9h0M497.9 206.0h0M498.2 200.9h0M498.3 210.9h0M497.9 210.6h0M498.2 213.8h0M498.1 206.5h0M498.4 211.1h0M498.4 204.9h0M498.6 215.3h0M498.8 204.2h0M498.5 204.6h0M498.5 222.0h0M498.7 203.7h0M498.4 209.6h0M498.6 215.7h0M498.5 207.3h0M498.9 219.6h0M498.9 205.5h0M498.6 221.0h0M498.7 198.4h0M499.3 200.0h0M499.2 211.0h0M499.2 238.0h0M499.4 227.7h0M499.2 210.2h0M499.5 206.9h0M499.6 194.5h0M499.8 218.4h0M499.3 207.8h0M499.5 225.4h0M500.1 206.8h0M499.4 205.6h0M499.6 209.3h0M500.2 215.3h0M499.7 206.5h0M500.2 239.8h0M500.1 211.9h0M500.1 200.9h0M500.4 210.2h0M500.1 221.5h0M500.1 213.7h0M500.2 206.5h0M500.4 203.8h0M500.5 202.6h0M500.4 199.5h0M500.5 204.4h0M500.2 210.9h0M500.6 203.8h0M500.4 225.7h0M501.2 205.1h0M501.2 208.2h0M501.2 224.6h0M501.1 196.0h0M501.1 211.4h0M501.3 238.4h0M501.6 220.4h0M501.5 202.7h0M501.1 211.0h0M501.5 207.9h0M501.9 239.9h0M501.5 204.7h0M501.3 207.6h0M501.7 207.2h0M501.8 198.9h0M501.6 215.1h0M502.1 206.3h0M501.9 214.9h0M501.8 217.7h0M502.2 223.0h0M502.2 196.5h0M502.1 225.7h0M501.9 218.6h0M502.2 218.0h0M502.0 209.3h0M502.4 209.1h0M502.1 205.0h0M502.2 213.7h0M502.1 219.1h0M503.0 204.7h0M501.8 217.9h0M502.3 215.5h0M502.6 218.2h0M501.9 229.8h0M502.3 211.2h0M502.5 205.0h0M503.1 205.4h0M502.9 215.4h0M502.7 204.7h0M502.6 219.2h0M502.8 211.5h0M503.3 217.9h0M503.0 203.8h0M502.8 200.4h0M503.4 211.9h0M503.0 201.3h0M503.1 214.9h0M503.6 201.4h0M503.3 205.2h0M503.6 192.3h0M503.1 194.7h0M503.6 205.5h0M503.6 204.2h0M503.2 214.2h0M503.6 199.4h0M504.1 193.2h0M503.8 201.6h0M503.5 207.2h0M503.9 206.7h0M504.1 207.3h0M503.8 218.8h0M503.6 202.6h0M504.2 203.2h0M504.1 198.2h0M504.3 200.0h0M504.0 216.2h0M504.5 208.5h0M504.6 184.1h0M504.8 217.8h0M504.1 188.5h0M504.8 200.8h0M504.6 214.9h0M504.5 210.0h0M504.7 206.9h0M504.2 193.6h0M504.6 207.6h0M505.0 197.7h0M505.3 200.5h0M504.2 203.9h0M505.2 202.5h0M505.2 222.1h0M504.7 205.3h0M505.3 211.9h0M506.3 220.1h0M505.4 198.1h0M505.6 214.4h0M506.4 220.8h0M505.9 195.4h0M506.5 210.6h0M505.4 187.3h0M506.7 201.3h0M506.0 205.8h0M506.2 190.1h0M505.7 182.1h0M505.2 197.1h0M506.6 193.6h0M506.4 198.4h0M505.8 199.2h0M506.8 203.7h0M507.1 212.6h0M506.6 196.7h0M506.8 194.8h0M507.5 190.5h0M507.7 182.3h0M507.0 199.3h0M506.1 180.7h0M506.0 172.2h0M506.3 180.0h0M508.7 157.0h0M507.9 185.8h0M508.6 194.5h0M508.6 179.2h0M507.9 174.5h0M504.9 156.8h0M507.5 165.4h0M510.0 178.0h0M506.1 173.1h0M509.2 152.7h0M507.5 162.8h0M511.1 155.1h0M507.6 141.3h0M508.2 170.3h0M508.4 179.9h0M508.1 179.5h0M509.6 146.1h0M509.6 179.4h0M509.1 180.6h0M508.8 154.1h0M506.9 171.9h0M511.4 144.9h0M511.8 147.9h0M510.1 149.7h0M508.9 153.7h0M510.3 153.2h0M509.8 149.8h0M512.7 147.7h0M511.6 146.4h0M509.9 165.9h0M509.3 147.4h0M510.7 164.6h0M510.3 141.5h0M509.6 155.0h0M512.3 147.8h0M511.8 151.1h0M512.8 145.9h0M511.3 167.9h0M509.3 175.8h0M511.4 152.0h0M512.0 168.2h0M509.2 143.0h0M511.7 183.3h0M512.2 159.8h0M511.5 147.8h0M512.3 171.4h0M512.0 185.5h0M511.5 193.3h0M515.0 175.6h0M510.9 169.7h0M512.2 159.9h0M512.7 183.3h0M513.3 181.3h0M513.8 169.1h0M511.7 172.8h0M512.6 195.3h0M512.2 173.4h0M513.5 174.6h0M514.2 176.7h0M513.0 170.9h0M513.3 172.2h0M512.9 178.9h0M513.2 159.6h0M515.0 188.0h0M512.3 188.8h0M514.7 187.2h0M513.9 172.8h0M514.0 185.3h0M514.0 184.9h0M514.5 179.1h0M515.2 181.6h0M514.1 184.1h0M514.6 198.0h0M514.3 203.0h0M513.0 206.5h0M514.2 175.2h0M515.7 183.2h0M514.6 184.7h0M515.4 196.5h0M514.3 205.0h0M515.0 189.0h0M516.0 191.0h0M515.4 191.3h0M515.1 196.3h0M515.2 200.0h0M514.6 192.0h0M515.6 181.4h0M515.5 191.5h0M515.8 172.7h0M516.5 193.1h0M515.4 189.1h0M514.9 206.0h0M515.3 173.9h0M516.4 221.1h0M515.4 194.1h0M515.7 202.4h0M516.1 203.3h0M517.1 192.3h0M516.9 202.7h0M516.1 201.2h0M516.5 194.1h0M516.3 203.1h0M517.1 214.6h0M516.7 193.2h0M517.2 206.4h0M516.9 212.9h0M517.0 190.5h0M517.0 206.6h0M517.3 200.5h0M517.1 218.0h0M516.8 226.7h0M517.4 195.2h0M517.2 210.5h0M517.1 198.1h0M517.7 176.1h0M517.3 223.5h0M517.6 199.0h0M517.5 214.8h0M517.9 207.0h0M518.1 195.4h0M517.9 199.9h0M517.4 209.0h0M517.8 213.6h0M518.1 205.3h0M518.3 212.1h0M518.0 213.3h0M517.6 213.2h0M518.0 201.5h0M517.8 212.0h0M517.9 216.6h0M518.2 200.3h0M518.4 228.1h0M518.1 227.9h0M518.1 214.2h0M518.3 234.8h0M518.4 208.6h0M518.5 208.1h0M518.4 233.0h0M518.4 214.2h0M518.4 217.8h0M434.4 127.3h0M457.0 92.6h0M427.6 271.9h0M260.0 98.8h0M260.0 102.9h0M264.3 104.7h0M259.8 111.5h0M260.0 146.1h0M260.0 152.0h0M277.8 127.0h0M265.5 154.6h0M265.6 154.3h0M273.8 149.2h0M274.3 139.0h0M270.7 152.7h0M273.8 145.1h0M266.9 149.6h0M263.7 156.0h0M269.2 172.2h0M272.4 145.4h0M267.8 148.4h0M263.0 140.6h0M266.3 148.0h0M263.0 141.0h0M265.6 150.9h0M262.5 147.2h0M276.1 152.8h0M272.5 149.1h0M274.8 146.0h0M275.6 144.7h0M267.1 151.0h0M277.6 168.8h0M268.3 169.9h0M271.3 143.3h0M265.0 149.3h0M268.4 137.8h0M262.7 153.8h0M267.9 134.5h0M271.8 141.3h0M266.3 149.9h0M263.0 128.7h0M277.7 145.7h0M265.5 129.9h0M270.6 129.8h0M271.9 154.9h0M271.9 135.8h0M267.8 143.0h0M275.2 159.6h0M264.7 159.2h0M264.9 156.9h0M271.2 154.2h0M276.2 145.5h0M267.8 152.0h0M265.2 144.9h0M263.3 141.4h0M277.1 134.6h0M274.6 152.7h0M273.1 138.9h0M275.2 135.3h0M265.5 154.9h0M273.7 152.2h0M266.4 148.2h0M277.7 136.2h0M264.3 138.4h0M271.5 136.6h0M265.3 129.2h0M277.8 158.0h0M270.5 149.1h0M276.6 138.5h0M271.0 150.1h0M269.9 130.0h0M266.5 156.3h0M265.9 138.4h0M270.7 142.2h0M277.3 142.2h0M268.3 141.8h0M273.1 147.2h0M264.8 149.3h0M272.3 149.3h0M265.1 154.4h0M300.1 122.5h0M305.8 138.0h0M305.3 137.2h0M301.4 121.7h0M299.6 120.7h0M299.2 128.5h0M305.0 126.9h0M298.4 136.3h0M303.9 140.0h0M304.0 139.7h0M296.0 120.2h0M304.5 127.0h0M300.0 119.9h0M298.4 120.1h0M305.7 121.1h0M300.8 135.8h0M295.4 122.6h0M305.3 136.0h0M295.5 130.1h0M295.4 137.5h0M301.4 118.8h0M301.3 133.0h0M301.1 128.6h0M295.3 127.8h0M295.5 126.8h0M469.7 99.1h0M470.1 93.3h0M469.8 92.5h0M468.6 95.5h0M472.1 88.9h0M470.6 97.2h0M470.7 81.2h0M469.2 96.3h0M471.7 90.2h0M471.3 86.9h0M471.1 88.7h0M471.7 85.1h0M469.9 93.3h0M468.8 90.1h0M468.6 78.7h0M470.9 97.7h0M470.4 82.7h0M470.0 86.0h0M469.0 94.6h0M469.0 82.3h0M469.2 89.0h0M468.7 89.8h0M480.5 101.5h0M481.5 91.7h0M476.9 89.8h0M481.0 82.9h0M476.6 85.0h0M478.0 87.9h0M476.9 99.5h0M479.7 85.6h0M476.7 83.5h0M480.0 100.4h0M479.1 106.8h0M476.9 94.0h0M481.2 110.1h0M480.8 108.1h0M479.6 109.1h0M480.0 109.0h0M406.9 72.8h0M406.8 86.5h0M405.6 90.1h0M406.2 94.4h0M405.0 81.7h0M408.8 78.8h0M409.0 91.3h0M407.0 77.7h0M406.2 86.7h0M405.7 91.5h0M406.3 94.7h0M408.1 88.6h0M404.6 81.7h0M409.4 85.4h0M407.6 84.3h0M406.6 93.8h0M508.8 137.7h0M510.3 143.4h0M510.3 137.3h0M509.5 131.6h0M510.1 141.3h0M509.6 140.6h0M510.7 134.6h0M511.1 141.4h0M510.4 127.9h0M511.1 144.9h0" stroke="#0a0ae0" stroke-width="2.5" stroke-linecap="round" fill="none"/>
<path d="M63.5 230.5H645.5" stroke="#111" stroke-width="1" fill="none"/>
<path d="M63.9 200.5L64.3 212 63.6 220.6 64.6 220.5 65.6 220.3 66.6 220.2 67.6 220.1 68.6 220.2 69.6 220.3 70.6 220.6 71.6 220.9 72.6 221.2 73.6 221.5 74.6 221.7 75.6 221.7 76.6 221.5 77.6 221.2 78.6 220.7 79.6 220.1 80.6 219.5 81.6 218.8 82.6 218.1 83.6 217.2 84.6 216.2 85.6 215.1 86.6 214.1 87.6 213.2 88.6 212.5 89.6 212.0 90.6 211.5 91.6 211.2 92.6 211.3 93.6 212.3 94.6 214.3 95.6 217.3 96.6 220.9 97.6 224.3 98.6 227.2 99.6 229.2 100.6 230.6 101.6 231.3 102.6 231.7 103.6 231.8 104.6 232.0 105.6 232.0 106.6 232.1 107.6 232.2 108.6 232.2 109.6 232.1 110.6 231.7 111.6 231.2 112.6 230.5 113.6 229.8 114.6 229.1 115.6 228.6 116.6 228.4 117.6 228.6 118.6 229.0 119.6 229.5 120.6 230.0 121.6 230.3 122.6 230.5 123.6 230.6 124.6 230.6 125.6 230.7 126.6 230.8 127.6 230.9 128.6 231.0 129.6 231.1 130.6 231.1 131.6 231.1 132.6 231.2 133.6 231.3 134.6 231.5 135.6 231.7 136.6 231.9 137.6 232.1 138.6 232.1 139.6 232.1 140.6 232.0 141.6 231.9 142.6 231.8 143.6 231.6 144.6 231.3 145.6 230.9 146.6 230.3 147.6 229.5 148.6 228.4 149.6 226.8 150.6 224.7 151.6 221.8 152.6 218.2 153.6 214.0 154.6 209.2 155.6 204.1 156.6 199.0 157.6 194.4 158.6 190.7 159.6 188.3 160.6 187.4 161.6 188.0 162.6 190.0 163.6 193.1 164.6 197.2 165.6 201.9 166.6 206.9 167.6 211.9 168.6 216.3 169.6 219.8 170.6 222.3 171.6 224.0 172.6 225.0 173.6 225.5 174.6 225.8 175.6 225.9 176.6 226.1 177.6 226.3 178.6 226.6 179.6 226.9 180.6 227.1 181.6 227.3 182.6 227.2 183.6 226.9 184.6 226.5 185.6 225.8 186.6 224.9 187.6 223.7 188.6 222.0 189.6 219.9 190.6 217.6 191.6 215.6 192.6 214.3 193.6 214.2 194.6 215.3 195.6 217.4 196.6 219.9 197.6 222.4 198.6 224.3 199.6 225.6 200.6 226.3 201.6 226.6 202.6 226.7 203.6 226.7 204.6 226.7 205.6 226.7 206.6 226.8 207.6 227.0 208.6 227.4 209.6 227.8 210.6 228.2 211.6 228.6 212.6 228.8 213.6 228.8 214.6 228.9 215.6 228.9 216.6 228.9 217.6 229.0 218.6 229.1 219.6 229.3 220.6 229.5 221.6 229.7 222.6 229.8 223.6 229.7 224.6 229.5 225.6 229.2 226.6 228.8 227.6 228.3 228.6 227.6 229.6 226.6 230.6 225.5 231.6 224.1 232.6 222.7 233.6 221.6 234.6 221.2 235.6 221.5 236.6 222.5 237.6 223.9 238.6 225.3 239.6 226.5 240.6 227.3 241.6 227.7 242.6 227.9 243.6 228.0 244.6 227.9 245.6 227.9 246.6 227.8 247.6 227.8 248.6 227.8 249.6 227.6 250.6 227.3 251.6 226.6 252.6 225.4 253.6 223.4 254.6 220.2 255.6 215.8 256.6 210.4 257.6 204.7 258.6 199.4 259.6 195.4 260.6 193.0 261.6 192.0 262.6 191.5 263.6 190.7 264.6 188.8 265.6 185.6 266.6 181.4 267.6 176.8 268.6 172.7 269.6 169.7 270.6 168.3 271.6 168.8 272.6 170.9 273.6 174.5 274.6 178.9 275.6 184.0 276.6 189.1 277.6 194.0 278.6 198.3 279.6 201.9 280.6 204.4 281.6 206.1 282.6 206.8 283.6 206.6 284.6 205.5 285.6 203.4 286.6 200.3 287.6 196.1 288.6 190.9 289.6 185.1 290.6 178.9 291.6 172.5 292.6 165.9 293.6 159.4 294.6 152.9 295.6 146.6 296.6 140.8 297.6 136.0 298.6 132.8 299.6 131.7 300.6 133.2 301.6 137.0 302.6 142.9 303.6 150.0 304.6 157.6 305.6 165.2 306.6 172.2 307.6 178.5 308.6 183.9 309.6 188.4 310.6 192.1 311.6 195.0 312.6 197.4 313.6 199.4 314.6 201.0 315.6 202.2 316.6 203.1 317.6 203.7 318.6 204.2 319.6 204.8 320.6 205.4 321.6 206.0 322.6 206.7 323.6 207.2 324.6 207.3 325.6 206.9 326.6 205.7 327.6 203.5 328.6 200.2 329.6 195.6 330.6 189.6 331.6 182.5 332.6 174.3 333.6 165.7 334.6 157.3 335.6 149.9 336.6 144.0 337.6 139.7 338.6 136.8 339.6 134.7 340.6 133.2 341.6 131.9 342.6 130.9 C345.5 129 347.5 137 348.7 145 L353.5 175 L356.6 201.5 356.6 201.5 357.6 202.5 358.6 203.5 359.6 204.5 360.6 205.5 361.6 206.4 362.6 207.4 363.6 208.4 364.6 209.6 365.6 211.1 366.6 212.9 367.6 214.9 368.6 216.7 369.6 218.3 370.6 219.6 371.6 220.7 372.6 221.5 373.6 222.3 374.6 222.9 375.6 223.3 376.6 223.5 377.6 223.4 378.6 223.0 379.6 222.3 380.6 221.2 381.6 219.9 382.6 218.1 383.6 215.9 384.6 213.4 385.6 210.6 386.6 207.6 387.6 204.5 388.6 201.4 389.6 198.2 390.6 195.1 391.6 192.1 392.6 189.2 393.6 186.0 394.6 182.4 395.6 178.0 396.6 172.7 397.6 166.5 398.6 159.5 399.6 152.0 400.6 144.3 401.6 136.7 402.6 129.3 403.6 122.2 404.6 115.9 405.6 110.6 406.6 106.9 407.6 105.5 408.6 106.7 409.6 110.9 410.6 118.1 411.6 128.0 412.6 139.6 413.6 151.8 414.6 163.3 415.6 172.8 416.6 179.5 417.6 183.6 418.6 185.7 419.6 187.2 420.6 188.9 421.6 191.6 422.6 195.0 423.6 198.8 424.6 202.6 425.6 205.8 426.6 208.4 427.6 210.4 428.6 212.0 429.6 213.1 430.6 213.8 431.6 214.3 432.6 214.6 433.6 214.7 434.6 214.9 435.6 215.1 436.6 215.3 437.6 215.5 438.6 215.7 439.6 215.9 440.6 216.1 441.6 216.2 442.6 216.4 443.6 216.4 444.6 216.3 445.6 216.0 446.6 215.6 447.6 215.0 448.6 214.2 449.6 213.1 450.6 211.5 451.6 209.1 452.6 205.8 453.6 201.8 454.6 197.2 455.6 192.5 456.6 188.0 457.6 183.7 458.6 179.6 459.6 175.4 460.6 170.7 461.6 165.2 462.6 158.8 463.6 151.5 464.6 143.5 465.6 135.3 466.6 127.3 467.6 120.2 468.6 114.7 469.6 111.1 470.6 109.9 471.6 111.0 472.6 114.2 473.6 118.7 474.6 123.6 475.6 127.9 476.6 130.8 477.6 131.9 478.6 131.7 479.6 131.1 480.6 131.3 481.6 133.6 482.6 138.3 483.6 145.4 484.6 154.1 485.6 163.4 486.6 172.4 487.6 180.4 488.6 187.2 489.6 192.8 490.6 197.3 491.6 200.8 492.6 203.5 493.6 205.5 494.6 206.9 495.6 207.8 496.6 208.3 497.6 208.6 498.6 208.7 499.6 208.5 500.6 208.0 501.6 206.9 502.6 204.9 503.6 201.7 504.6 197.1 505.6 191.2 506.6 184.3 507.6 177.4 508.6 171.7 509.6 168.3 510.6 167.9 511.6 170.2 512.6 174.8 513.6 180.8 514.6 187.3 515.6 193.8 516.6 200.1 517.6 206.0 518.6 211.4 519.6 216.2 520.6 220.2 521.6 223.3 522.6 225.7 523.6 227.5 524.6 228.7 525.6 229.7 526.6 230.3 527.6 230.8 528.6 231.2 529.6 231.5 530.6 231.7 531.6 231.9 532.6 232.0 533.6 232.0 534.6 231.9 535.6 231.7 536.6 231.5 537.6 231.3 538.6 231.0 539.6 230.8 540.6 230.5 541.6 230.2 542.6 229.8 543.6 229.6 544.6 229.3 545.6 229.0 546.6 228.6 547.6 227.9 548.6 226.8 549.6 225.5 550.6 224.3 551.6 223.5 552.6 223.4 553.6 224.0 554.6 225.4 555.6 227.0 556.6 228.6 557.6 229.9 558.6 230.8 559.6 231.4 560.6 231.6 561.6 231.7 562.6 231.8 563.6 231.8 564.6 231.9 565.6 232.0 566.6 232.2 567.6 232.2 568.6 232.3 569.6 232.2 570.6 232.2 571.6 232.2 572.6 232.1 573.6 232.1 574.6 232.0 575.6 232.0 576.6 232.0 577.6 232.1 578.6 232.2 579.6 232.3 580.6 232.2 581.6 232.0 582.6 231.7 583.6 231.5 584.6 231.2 585.6 231.0 586.6 230.7 587.6 230.3 588.6 229.6 589.6 228.8 590.6 227.8 591.6 226.7 592.6 225.7 593.6 224.7 594.6 224.1 595.6 223.8 596.6 224.0 597.6 224.6 598.6 225.5 599.6 226.6 600.6 227.5 601.6 228.2 602.6 228.5 603.6 228.6 604.6 228.4 605.6 228.2 606.6 228.0 607.6 227.8 608.6 227.8 609.6 227.7 610.6 227.8 611.6 227.9 612.6 228.0 613.6 228.2 614.6 228.4 615.6 228.6 616.6 228.8 617.6 228.9 618.6 228.9 619.6 228.8 620.6 228.7 621.6 228.5 622.6 228.3 623.6 228.3 624.6 228.2" stroke="#ff00ff" stroke-width="1.2" fill="none" stroke-linejoin="round"/>
<path d="M63.6 220.0 64.6 222.2 65.6 220.1 66.6 217.0 67.6 218.3 68.6 215.8 69.6 219.0 70.6 225.9 71.6 218.0 72.6 218.2 73.6 224.4 74.6 223.7 75.6 222.8 76.6 218.3 77.6 222.5 78.6 225.6 79.6 213.9 80.6 218.7 81.6 213.1 82.6 217.0 83.6 214.5 84.6 218.9 85.6 211.8 86.6 214.0 87.6 207.2 88.6 210.7 89.6 206.7 90.6 215.8 91.6 211.5 92.6 207.6 93.6 197.6 94.6 204.5 95.6 213.0 96.6 225.7 97.6 233.8 98.6 229.5 99.6 231.6 100.6 234.1 101.6 229.8 102.6 231.8 103.6 232.6 104.6 233.3 105.6 228.1 106.6 232.3 107.6 237.2 108.6 228.0 109.6 236.7 110.6 233.8 111.6 229.9 112.6 237.9 113.6 231.9 114.6 222.8 115.6 226.3 116.6 228.0 117.6 226.8 118.6 229.4 119.6 228.3 120.6 231.8 121.6 234.5 122.6 225.9 123.6 229.3 124.6 228.6 125.6 231.2 126.6 226.6 127.6 228.9 128.6 231.1 129.6 232.2 130.6 233.4 131.6 226.1 132.6 228.7 133.6 235.0 134.6 226.9 135.6 231.8 136.6 232.8 137.6 237.5 138.6 234.6 139.6 230.9 140.6 231.3 141.6 233.0 142.6 238.0 143.6 230.9 144.6 231.0 145.6 234.0 146.6 231.8 147.6 232.3 148.6 227.2 149.6 229.4 150.6 226.6 151.6 229.3 152.6 223.7 153.6 215.0 154.6 211.1 155.6 203.2 156.6 200.8 157.6 190.8 158.6 187.8 159.6 177.5 160.6 176.7 161.6 180.7 162.6 190.4 163.6 192.1 164.6 188.1 165.6 197.2 166.6 212.4 167.6 214.6 168.6 220.0 169.6 224.7 170.6 227.2 171.6 224.7 172.6 224.8 173.6 227.6 174.6 228.0 175.6 222.3 176.6 225.1 177.6 226.7 178.6 225.0 179.6 230.6 180.6 226.3 181.6 232.0 182.6 230.4 183.6 229.4 184.6 225.8 185.6 227.4 186.6 221.5 187.6 223.4 188.6 226.9 189.6 215.7 190.6 222.9 191.6 208.4 192.6 208.9 193.6 198.5 194.6 212.5 195.6 218.4 196.6 218.1 197.6 230.4 198.6 230.9 199.6 225.3 200.6 226.0 201.6 226.5 202.6 223.3 203.6 230.1 204.6 224.8 205.6 227.3 206.6 223.5 207.6 223.5 208.6 221.6 209.6 232.7 210.6 228.9 211.6 232.3 212.6 229.6 213.6 229.0 214.6 229.4 215.6 227.9 216.6 230.7 217.6 229.5 218.6 230.0 219.6 225.6 220.6 229.0 221.6 238.1 222.6 230.2 223.6 228.9 224.6 231.1 225.6 234.9 226.6 224.9 227.6 229.1 228.6 227.9 229.6 223.4 230.6 229.8 231.6 227.7 232.6 223.3 233.6 213.8 234.6 212.0 235.6 216.7 236.6 223.4 237.6 222.2 238.6 222.6 239.6 232.4 240.6 228.3 241.6 230.8 242.6 228.0 243.6 226.1 244.6 225.3 245.6 229.0 246.6 226.3 247.6 225.2 248.6 226.6 249.6 229.3 250.6 228.5 251.6 227.8 252.6 224.6 253.6 222.1 254.6 229.5 255.6 225.1 256.6 213.5 257.6 204.8 258.6 192.8 259.6 183.1 260.6 177.8 261.6 191.8 262.6 204.2 263.6 198.0 264.6 199.5 265.6 190.5 266.6 183.7 267.6 179.0 268.6 170.5 269.6 159.5 270.6 153.4 271.6 165.2 272.6 166.0 273.6 171.4 274.6 179.4 275.6 180.9 276.6 186.4 277.6 197.9 278.6 202.8 279.6 205.9 280.6 208.5 281.6 207.4 282.6 207.1 283.6 210.4 284.6 207.8 285.6 203.3 286.6 207.7 287.6 200.6 288.6 194.3 289.6 182.9 290.6 177.3 291.6 170.6 292.6 165.4 293.6 160.8 294.6 151.8 295.6 146.8 296.6 138.8 297.6 135.1 298.6 122.0 299.6 120.8 300.6 115.8 301.6 130.6 302.6 136.8 303.6 148.9 304.6 160.7 305.6 167.4 306.6 175.5 307.6 180.3 308.6 189.3 309.6 190.8 310.6 189.1 311.6 197.1 312.6 194.3 313.6 190.5 314.6 200.9 315.6 208.0 316.6 204.7 317.6 200.6 318.6 201.2 319.6 206.7 320.6 205.1 321.6 206.2 322.6 207.3 323.6 208.9 324.6 210.7 325.6 210.5 326.6 210.0 327.6 204.7 328.6 205.0 329.6 199.6 330.6 198.7 331.6 183.1 332.6 177.1 333.6 167.7 334.6 153.7 335.6 139.0 336.6 129.0 337.6 133.4 338.6 143.8 339.6 137.2 340.6 125.4 341.6 127.7 342.6 128.7 356.6 197.4 357.6 197.6 358.6 203.4 359.6 205.2 360.6 208.9 361.6 206.6 362.6 206.2 363.6 210.8 364.6 204.7 365.6 208.0 366.6 204.9 367.6 217.7 368.6 219.0 369.6 220.7 370.6 220.9 371.6 218.7 372.6 220.0 373.6 220.6 374.6 222.3 375.6 224.0 376.6 228.2 377.6 225.5 378.6 222.8 379.6 219.9 380.6 218.9 381.6 226.3 382.6 220.7 383.6 217.9 384.6 213.7 385.6 208.8 386.6 207.9 387.6 207.1 388.6 201.7 389.6 199.0 390.6 195.0 391.6 192.4 392.6 184.4 393.6 186.2 394.6 187.2 395.6 187.0 396.6 174.1 397.6 169.5 398.6 163.6 399.6 151.4 400.6 142.4 401.6 136.8 402.6 128.7 403.6 119.8 404.6 115.7 405.6 108.5 406.6 98.2 407.6 94.7 408.6 94.3 409.6 99.9 410.6 104.9 411.6 117.3 412.6 137.5 413.6 150.4 414.6 175.6 415.6 195.4 416.6 197.1 417.6 194.7 418.6 189.3 419.6 177.5 420.6 178.2 421.6 181.8 422.6 195.6 423.6 206.6 424.6 208.0 425.6 206.1 426.6 207.4 427.6 210.3 428.6 215.3 429.6 215.6 430.6 216.7 431.6 217.3 432.6 214.9 433.6 215.2 434.6 216.7 435.6 214.0 436.6 216.3 437.6 220.6 438.6 218.4 439.6 217.3 440.6 211.7 441.6 219.1 442.6 213.0 443.6 214.4 444.6 221.3 445.6 219.6 446.6 214.5 447.6 210.1 448.6 214.4 449.6 212.7 450.6 215.8 451.6 220.6 452.6 210.4 453.6 202.1 454.6 196.2 455.6 192.5 456.6 181.1 457.6 177.4 458.6 183.9 459.6 176.6 460.6 176.1 461.6 169.6 462.6 163.5 463.6 154.3 464.6 147.0 465.6 134.7 466.6 124.0 467.6 115.3 468.6 104.8 469.6 99.8 470.6 100.4 471.6 101.1 472.6 107.9 473.6 117.8 474.6 122.3 475.6 133.7 476.6 144.7 477.6 147.7 478.6 134.2 479.6 127.1 480.6 117.2 481.6 116.3 482.6 125.4 483.6 141.7 484.6 154.5 485.6 165.0 486.6 183.2 487.6 187.9 488.6 196.6 489.6 194.6 490.6 198.3 491.6 200.6 492.6 214.3 493.6 207.2 494.6 212.9 495.6 207.0 496.6 210.4 497.6 204.9 498.6 209.9 499.6 212.4 500.6 205.9 501.6 211.4 502.6 209.3 503.6 204.1 504.6 202.6 505.6 199.6 506.6 194.4 507.6 168.4 508.6 155.9 509.6 149.9 510.6 148.5 511.6 160.5 512.6 175.1 513.6 186.3 514.6 185.0 515.6 194.8 516.6 199.6 517.6 205.8 518.6 216.8 519.6 217.4 520.6 229.0 521.6 224.4 522.6 228.3 523.6 228.3 524.6 227.1 525.6 233.0 526.6 230.1 527.6 233.1 528.6 231.4 529.6 227.6 530.6 232.8 531.6 233.3 532.6 237.6 533.6 231.8 534.6 233.5 535.6 227.3 536.6 235.3 537.6 229.4 538.6 226.9 539.6 232.3 540.6 234.4 541.6 225.6 542.6 225.2 543.6 227.1 544.6 225.5 545.6 230.2 546.6 226.4 547.6 227.3 548.6 230.5 549.6 223.0 550.6 223.6 551.6 214.9 552.6 211.2 553.6 214.0 554.6 229.6 555.6 227.6 556.6 230.2 557.6 230.2 558.6 230.9 559.6 230.9 560.6 237.9 561.6 229.9 562.6 228.2 563.6 230.0 564.6 227.9 565.6 235.4 566.6 235.4 567.6 230.3 568.6 228.7 569.6 233.6 570.6 237.2 571.6 223.1 572.6 235.1 573.6 229.5 574.6 235.8 575.6 228.6 576.6 230.1 577.6 226.4 578.6 230.6 579.6 239.1 580.6 235.8 581.6 230.8 582.6 228.9 583.6 226.5 584.6 230.5 585.6 231.1 586.6 231.9 587.6 232.5 588.6 227.8 589.6 228.8 590.6 226.2 591.6 229.0 592.6 227.9 593.6 221.8 594.6 218.9 595.6 221.4 596.6 220.8 597.6 222.2 598.6 225.1 599.6 224.6 600.6 232.9 601.6 230.3 602.6 230.4 603.6 228.8 604.6 225.5 605.6 226.3 606.6 226.4 607.6 224.7 608.6 227.5 609.6 226.8 610.6 223.1 611.6 228.6 612.6 224.2 613.6 228.1 614.6 227.4 615.6 222.1 616.6 229.2 617.6 230.1 618.6 229.4 619.6 227.4 620.6 226.9 621.6 225.5 622.6 227.9 623.6 226.0 624.6 229.7" stroke="#00ee00" stroke-width="1.8" fill="none" stroke-linejoin="round"/>
<path d="M63.5 214.6H645.5" stroke="#dc1e28" stroke-width="1.4" fill="none"/>
</g>
<path fill="#dd1122" d="M92.10 37.20 L92.91 39.38 L95.24 39.48 L93.42 40.93 L94.04 43.17 L92.10 41.89 L90.16 43.17 L90.78 40.93 L88.96 39.48 L91.29 39.38ZM160.90 37.20 L161.71 39.38 L164.04 39.48 L162.22 40.93 L162.84 43.17 L160.90 41.89 L158.96 43.17 L159.58 40.93 L157.76 39.48 L160.09 39.38ZM194.00 37.20 L194.81 39.38 L197.14 39.48 L195.32 40.93 L195.94 43.17 L194.00 41.89 L192.06 43.17 L192.68 40.93 L190.86 39.48 L193.19 39.38ZM259.00 37.20 L259.81 39.38 L262.14 39.48 L260.32 40.93 L260.94 43.17 L259.00 41.89 L257.06 43.17 L257.68 40.93 L255.86 39.48 L258.19 39.38ZM270.40 37.20 L271.21 39.38 L273.54 39.48 L271.72 40.93 L272.34 43.17 L270.40 41.89 L268.46 43.17 L269.08 40.93 L267.26 39.48 L269.59 39.38ZM300.10 37.20 L300.91 39.38 L303.24 39.48 L301.42 40.93 L302.04 43.17 L300.10 41.89 L298.16 43.17 L298.78 40.93 L296.96 39.48 L299.29 39.38ZM322.00 37.20 L322.81 39.38 L325.14 39.48 L323.32 40.93 L323.94 43.17 L322.00 41.89 L320.06 43.17 L320.68 40.93 L318.86 39.48 L321.19 39.38ZM341.50 37.20 L342.31 39.38 L344.64 39.48 L342.82 40.93 L343.44 43.17 L341.50 41.89 L339.56 43.17 L340.18 40.93 L338.36 39.48 L340.69 39.38ZM406.80 37.20 L407.61 39.38 L409.94 39.48 L408.12 40.93 L408.74 43.17 L406.80 41.89 L404.86 43.17 L405.48 40.93 L403.66 39.48 L405.99 39.38ZM472.50 37.20 L473.31 39.38 L475.64 39.48 L473.82 40.93 L474.44 43.17 L472.50 41.89 L470.56 43.17 L471.18 40.93 L469.36 39.48 L471.69 39.38ZM510.10 37.20 L510.91 39.38 L513.24 39.48 L511.42 40.93 L512.04 43.17 L510.10 41.89 L508.16 43.17 L508.78 40.93 L506.96 39.48 L509.29 39.38Z"/>
<path fill="#10e810" d="M85.80 275.90L89.30 270.30L92.80 275.90ZM87.70 275.90L91.20 270.30L94.70 275.90ZM114.80 275.90L118.30 270.30L121.80 275.90ZM190.90 275.90L194.40 270.30L197.90 275.90ZM267.50 275.90L271.00 270.30L274.50 275.90ZM298.00 275.90L301.50 270.30L305.00 275.90ZM317.50 275.90L321.00 270.30L324.50 275.90ZM334.50 275.90L338.00 270.30L341.50 275.90ZM403.00 275.90L406.50 270.30L410.00 275.90ZM470.30 275.90L473.80 270.30L477.30 275.90ZM506.50 275.90L510.00 270.30L513.50 275.90ZM585.50 275.90L589.00 270.30L592.50 275.90ZM591.50 275.90L595.00 270.30L598.50 275.90ZM620.00 275.90L623.50 270.30L627.00 275.90Z"/>
<path fill="#dd1122" d="M158.50 275.90L162.00 270.30L165.50 275.90ZM255.80 275.90L259.30 270.30L262.80 275.90ZM547.20 275.90L550.70 270.30L554.20 275.90Z"/>
<rect x="547.5" y="26.0" width="98.0" height="109.0" fill="#fff" stroke="#969696" stroke-width="1"/>
<path fill="#dd1122" d="M562.60 30.70 L563.41 32.88 L565.74 32.98 L563.92 34.43 L564.54 36.67 L562.60 35.39 L560.66 36.67 L561.28 34.43 L559.46 32.98 L561.79 32.88Z"/>
<path d="M552 47.4H574" stroke="#f0a0f0" stroke-width="0.9"/>
<path d="M552 60.8H574" stroke="#a0e6a0" stroke-width="0.9"/>
<path d="M552 74.2H574" stroke="#eebcc2" stroke-width="0.9"/>
<path fill="#10e810" d="M559.10 90.40L562.60 84.80L566.10 90.40Z"/>
<path fill="#dd1122" d="M559.10 103.80L562.60 98.20L566.10 103.80Z"/>
<circle cx="562.6" cy="114.4" r="1.1" fill="#4d4d4d"/>
<circle cx="562.6" cy="127.8" r="1.1" fill="#0000f0"/>
<g font-family="Liberation Sans" font-weight="bold" font-size="9" fill="#111" letter-spacing="-0.08">
<text x="576.6" y="37.9">Positive Call</text>
<text x="576.6" y="51.3">Loess</text>
<text x="576.6" y="64.7">Median</text>
<text x="576.6" y="78.1">Cutoff</text>
<text x="576.6" y="91.5">Confirmed ARS</text>
<text x="576.6" y="104.9">Predicted ARS</text>
<text x="576.6" y="118.3">HMM Negative</text>
<text x="576.6" y="131.7">HMM Positive</text>
</g>
<g stroke="#969696" stroke-width="1" fill="none">
<path d="M63.5 26.0H645.5V288.5H63.5Z"/>
<path d="M57.5 288.5H63.5M645.5 288.5H651.5"/>
<path d="M57.5 259.5H63.5M645.5 259.5H651.5"/>
<path d="M57.5 230.5H63.5M645.5 230.5H651.5"/>
<path d="M57.5 201.5H63.5M645.5 201.5H651.5"/>
<path d="M57.5 172.5H63.5M645.5 172.5H651.5"/>
<path d="M57.5 142.5H63.5M645.5 142.5H651.5"/>
<path d="M57.5 113.5H63.5M645.5 113.5H651.5"/>
<path d="M57.5 84.5H63.5M645.5 84.5H651.5"/>
<path d="M57.5 55.5H63.5M645.5 55.5H651.5"/>
<path d="M57.5 26.0H63.5M645.5 26.0H651.5"/>
<path d="M154.5 288.0V294.0M154.5 20.0V26.0"/>
<path d="M261.5 288.0V294.0M261.5 20.0V26.0"/>
<path d="M368.5 288.0V294.0M368.5 20.0V26.0"/>
<path d="M474.5 288.0V294.0M474.5 20.0V26.0"/>
<path d="M581.5 288.0V294.0M581.5 20.0V26.0"/>
</g>
<g font-family="Liberation Sans" font-size="9" fill="#262626">
<text x="54.4" y="292.1" text-anchor="end">-2</text>
<text x="54.4" y="263.0" text-anchor="end">-1</text>
<text x="54.4" y="233.9" text-anchor="end">0</text>
<text x="54.4" y="204.8" text-anchor="end">1</text>
<text x="54.4" y="175.7" text-anchor="end">2</text>
<text x="54.4" y="146.5" text-anchor="end">3</text>
<text x="54.4" y="117.4" text-anchor="end">4</text>
<text x="54.4" y="88.3" text-anchor="end">5</text>
<text x="54.4" y="59.2" text-anchor="end">6</text>
<text x="54.4" y="30.1" text-anchor="end">7</text>
<text x="154.6" y="306.6" text-anchor="middle">0.5</text>
<text x="261.6" y="306.6" text-anchor="middle">1</text>
<text x="368.6" y="306.6" text-anchor="middle">1.5</text>
<text x="474.6" y="306.6" text-anchor="middle">2</text>
<text x="581.6" y="306.6" text-anchor="middle">2.5</text>
</g>
<text x="264.4" y="324.2" font-family="Liberation Sans" font-weight="bold" font-size="10.4" fill="#000">Chromosome Coordinates (bps/10<tspan font-size="7" dx="1.4" dy="-5.5">5</tspan><tspan dx="-0.5" dy="5.5">)</tspan></text>
<text transform="translate(41.5 157.5) rotate(-90)" text-anchor="middle" font-family="Liberation Sans" font-weight="bold" font-size="10" fill="#000">M</text>
</svg></body></html>
